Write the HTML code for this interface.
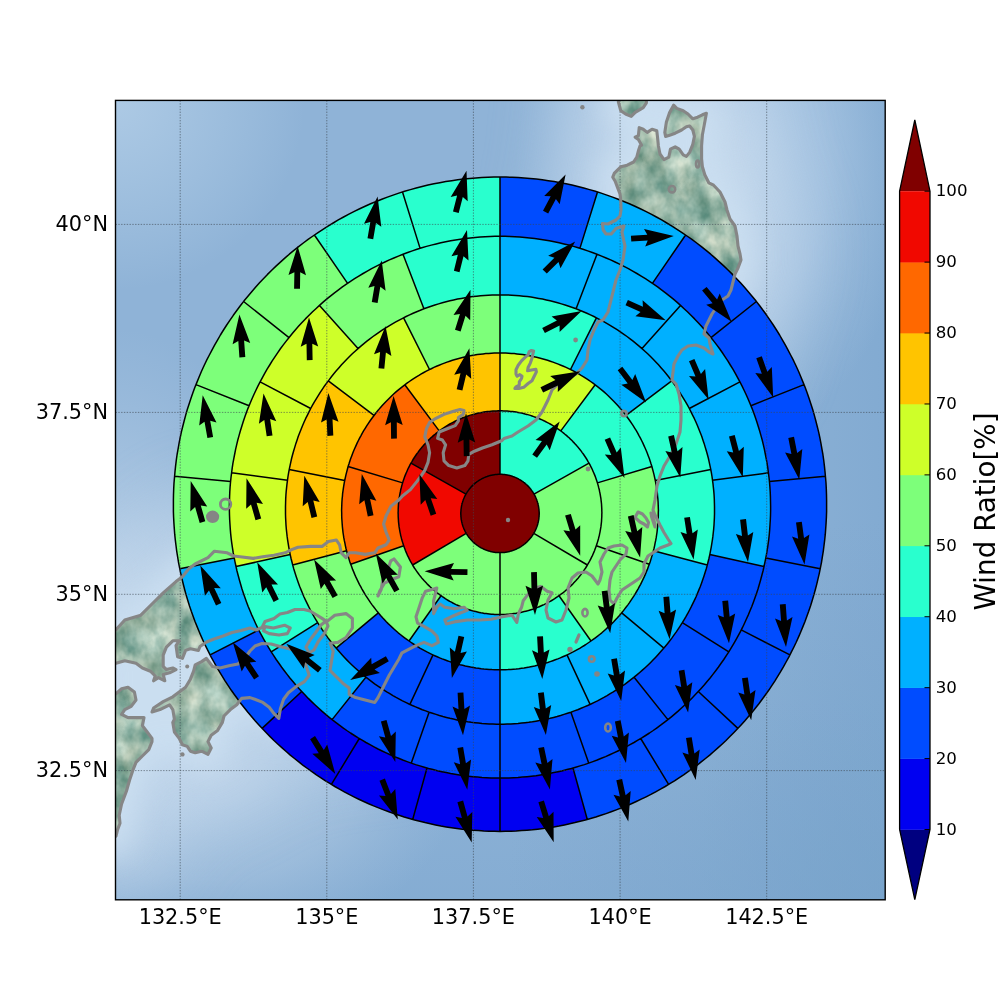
<!DOCTYPE html><html><head><meta charset="utf-8"><style>html,body{margin:0;padding:0;background:#fff}svg{display:block}.tl{font-family:"DejaVu Sans","Liberation Sans",sans-serif;font-size:20.8px;fill:#000}.cb{font-family:"DejaVu Sans","Liberation Sans",sans-serif;font-size:16.67px;fill:#000}.cbl{font-family:"DejaVu Sans","Liberation Sans",sans-serif;font-size:27.78px;fill:#000}</style></head><body>
<svg width="1000" height="1000" viewBox="0 0 1000 1000">
<defs><clipPath id="ax"><rect x="115.5" y="100.4" width="769.7" height="799.4"/></clipPath></defs>
<g clip-path="url(#ax)">
<defs>
<radialGradient id="gTL" cx="115" cy="100" r="190" gradientUnits="userSpaceOnUse"><stop offset="0" stop-color="#b0cce6" stop-opacity="0.9"/><stop offset="1" stop-color="#b4d0e8" stop-opacity="0"/></radialGradient>
<linearGradient id="gR" x1="700" y1="0" x2="885" y2="0" gradientUnits="userSpaceOnUse"><stop offset="0" stop-color="#7aa5ce" stop-opacity="0"/><stop offset="1" stop-color="#7aa5ce" stop-opacity="0.6"/></linearGradient>
<linearGradient id="gB" x1="0" y1="700" x2="0" y2="900" gradientUnits="userSpaceOnUse"><stop offset="0" stop-color="#7ea8d0" stop-opacity="0"/><stop offset="1" stop-color="#7ea8d0" stop-opacity="0.6"/></linearGradient>
<radialGradient id="gNE" cx="715" cy="170" r="200" gradientTransform="translate(715 170) scale(1 1.4) translate(-715 -170)" gradientUnits="userSpaceOnUse"><stop offset="0" stop-color="#c8dcef" stop-opacity="0.95"/><stop offset="0.55" stop-color="#b4cee8" stop-opacity="0.6"/><stop offset="1" stop-color="#a8c6e2" stop-opacity="0"/></radialGradient>
<radialGradient id="gW" cx="115" cy="600" r="170" gradientTransform="translate(115 600) scale(1 1.6) translate(-115 -600)" gradientUnits="userSpaceOnUse"><stop offset="0" stop-color="#c4d8ec" stop-opacity="0.9"/><stop offset="1" stop-color="#b0cae4" stop-opacity="0"/></radialGradient>
<radialGradient id="gSE" cx="885" cy="900" r="380" gradientUnits="userSpaceOnUse"><stop offset="0" stop-color="#74a0c8" stop-opacity="0.6"/><stop offset="1" stop-color="#74a0c8" stop-opacity="0"/></radialGradient>
<radialGradient id="gSW" cx="210" cy="770" r="230" gradientTransform="translate(210 770) scale(1.1 0.8) translate(-210 -770)" gradientUnits="userSpaceOnUse"><stop offset="0" stop-color="#c4d8ec" stop-opacity="0.8"/><stop offset="0.6" stop-color="#b4cce4" stop-opacity="0.45"/><stop offset="1" stop-color="#a8c4e0" stop-opacity="0"/></radialGradient>
<filter id="blurS" color-interpolation-filters="sRGB" x="-20%" y="-20%" width="140%" height="140%"><feGaussianBlur stdDeviation="14"/></filter>
<filter id="blurL" color-interpolation-filters="sRGB" x="-30%" y="-30%" width="160%" height="160%"><feGaussianBlur stdDeviation="35"/></filter>
<filter id="relief" color-interpolation-filters="sRGB" x="0" y="0" width="100%" height="100%"><feTurbulence type="fractalNoise" baseFrequency="0.045 0.035" numOctaves="4" seed="7"/><feColorMatrix type="matrix" values="0.75 0.2 0 0 0.12  0.55 0.08 0 0 0.40  0.55 0.04 0 0 0.356  0 0 0 0 1"/></filter>
<clipPath id="landclip"><path d="M672.0,380.0 L673.0,372.0 L674.0,364.0 L678.0,356.0 L682.0,350.0 L688.0,346.0 L696.0,345.0 L704.0,348.0 L709.0,352.0 L713.0,354.0 L710.0,344.0 L709.0,338.0 L704.0,334.0 L706.0,326.0 L709.0,320.0 L712.0,314.0 L716.0,308.0 L722.0,300.0 L728.0,296.0 L731.0,290.0 L733.0,282.0 L735.0,274.0 L738.0,268.0 L741.0,260.0 L740.0,254.0 L738.0,246.0 L737.0,236.0 L735.0,226.0 L730.0,219.0 L727.0,210.0 L725.0,202.0 L720.0,192.0 L713.6,185.2 L708.8,182.8 L704.8,174.8 L702.4,166.8 L701.6,158.8 L701.6,146.0 L702.4,134.8 L704.8,122.0 L706.4,113.2 L702.4,114.8 L697.6,117.2 L692.8,118.8 L688.0,114.0 L683.2,110.8 L676.8,108.4 L673.6,105.2 L669.6,112.4 L666.4,122.0 L664.8,132.4 L665.6,136.4 L668.8,135.6 L675.2,133.2 L681.6,130.0 L686.4,126.8 L689.6,126.0 L692.8,130.0 L694.4,136.4 L692.8,144.4 L689.6,152.4 L686.4,156.4 L683.2,154.8 L679.2,149.2 L675.2,146.8 L670.4,149.2 L668.8,157.2 L664.0,159.6 L660.0,154.0 L658.4,146.0 L657.6,138.0 L656.8,130.8 L652.0,129.2 L647.2,132.4 L643.2,129.2 L639.2,127.6 L638.4,135.6 L635.2,137.2 L638.4,139.6 L641.6,145.2 L640.0,146.0 L638.4,150.8 L636.8,157.2 L633.6,162.0 L627.2,165.2 L620.8,166.8 L614.4,173.2 L612.8,177.2 L615.2,181.2 L617.6,187.6 L620.0,194.0 L620.8,200.4 L621.0,210.0 L620.0,216.0 L616.0,220.0 L608.0,224.0 L602.4,223.5 L603.2,230.0 L606.0,234.0 L611.2,234.0 L616.0,228.5 L620.0,227.0 L624.0,226.0 L622.0,232.0 L624.0,242.0 L625.0,246.0 L623.0,260.0 L620.0,270.0 L616.0,280.0 L613.0,292.0 L610.0,304.0 L608.0,312.0 L603.0,320.0 L598.0,322.0 L594.0,330.0 L590.0,340.0 L588.0,350.0 L587.0,360.0 L582.0,368.0 L576.0,374.0 L566.0,380.0 L558.0,384.0 L552.0,390.0 L548.0,400.0 L542.0,412.0 L536.0,420.0 L528.0,426.0 L518.0,432.0 L512.0,436.0 L504.0,438.5 L501.6,440.8 L492.0,444.8 L482.4,448.0 L474.4,451.2 L468.8,454.4 L468.0,460.8 L464.8,465.6 L456.8,468.0 L448.8,465.6 L444.0,460.8 L443.2,452.8 L445.6,444.8 L442.4,440.0 L437.6,438.4 L439.2,432.0 L447.2,428.8 L455.2,425.6 L458.4,420.8 L458.4,417.6 L463.2,414.4 L464.0,410.4 L460.0,409.6 L453.6,411.2 L444.0,414.4 L434.4,419.2 L429.6,422.4 L426.4,428.8 L424.8,436.8 L428.0,444.8 L429.6,452.8 L428.0,462.4 L424.8,470.4 L421.6,475.2 L416.8,481.6 L410.4,489.6 L402.4,496.0 L398.8,500.0 L390.8,506.4 L386.0,516.0 L383.6,524.0 L386.0,532.0 L389.2,540.0 L386.0,544.8 L378.0,548.0 L374.8,552.8 L365.2,554.4 L355.6,552.8 L349.2,552.8 L346.0,557.6 L341.2,552.8 L339.6,544.8 L336.4,540.0 L328.4,541.6 L322.0,546.4 L310.8,546.4 L298.0,547.2 L291.6,549.6 L285.2,552.8 L274.0,555.2 L262.8,556.8 L253.2,558.4 L240.0,556.8 L233.6,556.0 L227.2,552.8 L214.4,551.2 L208.0,557.6 L195.2,564.0 L188.8,568.8 L182.4,576.8 L176.0,581.6 L163.2,592.8 L152.0,604.0 L140.8,615.2 L124.8,620.0 L116.0,629.6 L112.0,632.0 L108.0,632.0 L108.0,663.5 L112.0,663.5 L116.0,663.2 L124.8,660.8 L136.0,663.2 L142.4,668.0 L150.4,671.2 L155.2,676.0 L153.6,680.8 L158.4,677.6 L164.8,680.8 L163.2,674.4 L169.6,672.8 L176.0,669.6 L172.8,668.0 L166.4,669.6 L163.2,666.4 L163.2,655.2 L166.4,647.2 L172.8,640.8 L179.2,640.8 L176.0,645.6 L177.6,656.8 L182.4,658.4 L185.6,650.4 L190.4,648.8 L198.4,650.4 L200.0,646.5 L206.5,642.0 L214.0,639.0 L223.0,636.0 L232.0,632.5 L241.0,630.5 L250.0,628.0 L256.0,630.0 L262.0,627.5 L265.0,621.5 L274.0,618.5 L280.0,614.0 L287.5,612.5 L295.0,609.5 L304.0,609.5 L310.0,611.0 L317.5,615.5 L322.0,618.4 L326.8,621.6 L334.8,615.2 L346.0,613.6 L352.4,618.4 L352.4,628.0 L346.0,637.6 L338.0,642.4 L330.0,643.2 L333.2,651.2 L331.6,660.8 L330.0,670.4 L336.4,676.8 L342.8,683.2 L349.2,688.0 L349.2,694.4 L355.6,697.6 L365.2,700.0 L374.8,702.4 L378.0,697.6 L381.2,691.2 L384.4,684.8 L389.2,675.2 L394.0,667.2 L398.8,659.2 L402.0,652.8 L409.6,648.8 L416.0,645.6 L424.0,642.4 L432.0,645.6 L438.4,642.4 L436.8,636.0 L432.0,631.2 L424.0,626.4 L417.6,623.2 L416.0,616.8 L419.2,607.2 L422.4,597.6 L425.6,591.2 L432.0,589.6 L436.8,588.0 L433.6,600.8 L433.6,613.6 L436.8,607.2 L440.0,604.0 L444.8,607.2 L454.4,608.8 L464.0,607.2 L467.2,610.4 L460.8,612.8 L451.2,616.8 L444.8,620.0 L446.4,624.0 L456.0,621.6 L467.2,620.0 L480.0,620.0 L491.2,619.2 L502.4,616.8 L512.0,615.2 L516.8,622.4 L518.4,613.6 L521.6,607.2 L523.2,600.8 L528.0,594.4 L534.4,588.0 L540.8,586.4 L547.2,591.2 L552.0,592.8 L548.0,600.0 L546.0,610.0 L548.0,618.0 L556.0,622.0 L562.0,620.0 L566.0,610.0 L568.0,602.0 L569.0,598.0 L568.0,588.0 L572.0,578.0 L578.0,573.0 L586.0,572.0 L592.0,576.0 L598.0,584.0 L600.0,580.0 L602.0,572.0 L600.0,562.0 L604.0,554.0 L608.0,548.0 L614.0,546.0 L622.0,545.0 L627.0,548.0 L626.0,554.0 L620.0,560.0 L616.0,566.0 L612.0,572.0 L610.0,580.0 L609.0,590.0 L610.0,600.0 L614.0,604.0 L617.0,598.0 L622.0,590.0 L628.0,586.0 L634.0,582.0 L640.0,578.0 L644.0,572.0 L644.0,564.0 L648.0,556.0 L654.0,552.0 L660.0,548.0 L668.0,545.0 L671.0,543.5 L668.0,539.0 L664.0,532.5 L660.0,525.0 L657.5,520.0 L655.0,515.0 L653.0,510.0 L655.0,500.0 L657.0,486.0 L660.0,476.0 L664.0,466.0 L670.0,456.0 L676.0,444.0 L680.0,432.0 L681.0,420.0 L681.0,406.0 L679.0,394.0 L676.0,384.0 L672.0,380.0 Z M304.4,660.8 L309.2,675.2 L304.4,681.6 L296.4,686.4 L288.4,692.8 L283.6,699.2 L280.4,708.8 L278.8,718.4 L274.0,713.6 L269.2,707.2 L262.8,702.4 L254.8,699.2 L250.0,697.6 L241.6,698.4 L236.8,704.8 L230.4,709.6 L224.0,716.0 L222.4,722.4 L217.6,730.4 L211.2,735.2 L208.0,741.6 L211.2,748.0 L208.0,754.4 L201.6,751.2 L195.2,752.8 L190.4,751.2 L187.2,746.4 L182.4,744.8 L179.2,738.4 L174.4,732.0 L172.8,722.4 L174.4,719.2 L172.8,709.6 L169.6,704.8 L160.0,709.6 L152.0,712.0 L153.6,708.0 L163.2,701.6 L172.8,696.8 L179.2,692.0 L185.6,687.2 L190.4,679.2 L193.6,671.2 L195.2,664.8 L201.6,661.6 L206.4,658.4 L212.5,666.5 L220.0,668.0 L229.0,665.8 L238.0,664.0 L245.0,658.0 L250.0,651.0 L255.0,646.0 L262.0,643.5 L271.0,644.0 L280.0,646.5 L288.0,648.5 L298.0,651.0 L302.8,655.0 L304.4,660.8 Z M112.0,694.0 L116.0,693.6 L121.6,688.8 L128.0,687.2 L134.4,692.0 L136.0,700.0 L131.2,706.4 L124.8,709.6 L121.6,714.4 L128.0,717.6 L136.0,717.6 L144.0,717.6 L142.4,725.6 L147.2,732.0 L152.0,738.4 L152.0,741.6 L148.8,749.6 L142.4,756.0 L136.0,762.4 L132.8,770.4 L129.6,780.0 L126.4,791.2 L121.6,804.0 L119.2,815.2 L120.0,823.2 L117.6,829.6 L116.0,836.0 L112.0,840.0 L108.0,840.0 L108.0,694.0 Z M618.4,99.0 L618.4,102.0 L620.8,110.8 L625.6,114.0 L631.2,116.4 L635.2,112.4 L643.2,107.6 L646.4,102.8 L646.4,99.0 Z M531.4,350.5 L533.6,351.0 L532.8,354.3 L532.0,358.2 L530.3,363.1 L528.1,367.5 L527.6,370.8 L530.3,370.3 L535.8,369.2 L536.4,371.9 L534.2,376.3 L532.0,380.7 L528.1,383.5 L523.7,387.3 L518.8,388.4 L514.9,388.4 L516.0,386.8 L519.3,385.1 L519.3,381.8 L521.5,378.5 L522.0,376.3 L519.9,374.6 L517.1,376.3 L516.0,374.1 L516.0,369.7 L518.2,365.3 L521.5,360.9 L524.8,357.6 L528.1,354.9 L529.2,351.6 L531.4,350.5 Z M326.0,621.0 L328.0,626.0 L324.0,634.0 L318.0,642.0 L314.0,650.0 L309.0,653.0 L306.0,647.0 L310.0,640.0 L316.0,632.0 L321.0,625.0 L326.0,621.0 Z" clip-rule="nonzero"/></clipPath>
</defs>
<rect x="115" y="100" width="770" height="800" fill="#8fb3d7"/>
<rect x="115" y="100" width="770" height="800" fill="url(#gTL)"/>
<rect x="115" y="100" width="770" height="800" fill="url(#gR)"/>
<rect x="115" y="100" width="770" height="800" fill="url(#gB)"/>
<rect x="115" y="100" width="770" height="800" fill="url(#gSE)"/>
<rect x="115" y="100" width="770" height="800" fill="url(#gNE)"/>
<rect x="115" y="100" width="770" height="800" fill="url(#gSW)"/>
<rect x="115" y="100" width="770" height="800" fill="url(#gW)"/>
<g filter="url(#blurL)" opacity="0.75"><path d="M672.0,380.0 L673.0,372.0 L674.0,364.0 L678.0,356.0 L682.0,350.0 L688.0,346.0 L696.0,345.0 L704.0,348.0 L709.0,352.0 L713.0,354.0 L710.0,344.0 L709.0,338.0 L704.0,334.0 L706.0,326.0 L709.0,320.0 L712.0,314.0 L716.0,308.0 L722.0,300.0 L728.0,296.0 L731.0,290.0 L733.0,282.0 L735.0,274.0 L738.0,268.0 L741.0,260.0 L740.0,254.0 L738.0,246.0 L737.0,236.0 L735.0,226.0 L730.0,219.0 L727.0,210.0 L725.0,202.0 L720.0,192.0 L713.6,185.2 L708.8,182.8 L704.8,174.8 L702.4,166.8 L701.6,158.8 L701.6,146.0 L702.4,134.8 L704.8,122.0 L706.4,113.2 L702.4,114.8 L697.6,117.2 L692.8,118.8 L688.0,114.0 L683.2,110.8 L676.8,108.4 L673.6,105.2 L669.6,112.4 L666.4,122.0 L664.8,132.4 L665.6,136.4 L668.8,135.6 L675.2,133.2 L681.6,130.0 L686.4,126.8 L689.6,126.0 L692.8,130.0 L694.4,136.4 L692.8,144.4 L689.6,152.4 L686.4,156.4 L683.2,154.8 L679.2,149.2 L675.2,146.8 L670.4,149.2 L668.8,157.2 L664.0,159.6 L660.0,154.0 L658.4,146.0 L657.6,138.0 L656.8,130.8 L652.0,129.2 L647.2,132.4 L643.2,129.2 L639.2,127.6 L638.4,135.6 L635.2,137.2 L638.4,139.6 L641.6,145.2 L640.0,146.0 L638.4,150.8 L636.8,157.2 L633.6,162.0 L627.2,165.2 L620.8,166.8 L614.4,173.2 L612.8,177.2 L615.2,181.2 L617.6,187.6 L620.0,194.0 L620.8,200.4 L621.0,210.0 L620.0,216.0 L616.0,220.0 L608.0,224.0 L602.4,223.5 L603.2,230.0 L606.0,234.0 L611.2,234.0 L616.0,228.5 L620.0,227.0 L624.0,226.0 L622.0,232.0 L624.0,242.0 L625.0,246.0 L623.0,260.0 L620.0,270.0 L616.0,280.0 L613.0,292.0 L610.0,304.0 L608.0,312.0 L603.0,320.0 L598.0,322.0 L594.0,330.0 L590.0,340.0 L588.0,350.0 L587.0,360.0 L582.0,368.0 L576.0,374.0 L566.0,380.0 L558.0,384.0 L552.0,390.0 L548.0,400.0 L542.0,412.0 L536.0,420.0 L528.0,426.0 L518.0,432.0 L512.0,436.0 L504.0,438.5 L501.6,440.8 L492.0,444.8 L482.4,448.0 L474.4,451.2 L468.8,454.4 L468.0,460.8 L464.8,465.6 L456.8,468.0 L448.8,465.6 L444.0,460.8 L443.2,452.8 L445.6,444.8 L442.4,440.0 L437.6,438.4 L439.2,432.0 L447.2,428.8 L455.2,425.6 L458.4,420.8 L458.4,417.6 L463.2,414.4 L464.0,410.4 L460.0,409.6 L453.6,411.2 L444.0,414.4 L434.4,419.2 L429.6,422.4 L426.4,428.8 L424.8,436.8 L428.0,444.8 L429.6,452.8 L428.0,462.4 L424.8,470.4 L421.6,475.2 L416.8,481.6 L410.4,489.6 L402.4,496.0 L398.8,500.0 L390.8,506.4 L386.0,516.0 L383.6,524.0 L386.0,532.0 L389.2,540.0 L386.0,544.8 L378.0,548.0 L374.8,552.8 L365.2,554.4 L355.6,552.8 L349.2,552.8 L346.0,557.6 L341.2,552.8 L339.6,544.8 L336.4,540.0 L328.4,541.6 L322.0,546.4 L310.8,546.4 L298.0,547.2 L291.6,549.6 L285.2,552.8 L274.0,555.2 L262.8,556.8 L253.2,558.4 L240.0,556.8 L233.6,556.0 L227.2,552.8 L214.4,551.2 L208.0,557.6 L195.2,564.0 L188.8,568.8 L182.4,576.8 L176.0,581.6 L163.2,592.8 L152.0,604.0 L140.8,615.2 L124.8,620.0 L116.0,629.6 L112.0,632.0 L108.0,632.0 L108.0,663.5 L112.0,663.5 L116.0,663.2 L124.8,660.8 L136.0,663.2 L142.4,668.0 L150.4,671.2 L155.2,676.0 L153.6,680.8 L158.4,677.6 L164.8,680.8 L163.2,674.4 L169.6,672.8 L176.0,669.6 L172.8,668.0 L166.4,669.6 L163.2,666.4 L163.2,655.2 L166.4,647.2 L172.8,640.8 L179.2,640.8 L176.0,645.6 L177.6,656.8 L182.4,658.4 L185.6,650.4 L190.4,648.8 L198.4,650.4 L200.0,646.5 L206.5,642.0 L214.0,639.0 L223.0,636.0 L232.0,632.5 L241.0,630.5 L250.0,628.0 L256.0,630.0 L262.0,627.5 L265.0,621.5 L274.0,618.5 L280.0,614.0 L287.5,612.5 L295.0,609.5 L304.0,609.5 L310.0,611.0 L317.5,615.5 L322.0,618.4 L326.8,621.6 L334.8,615.2 L346.0,613.6 L352.4,618.4 L352.4,628.0 L346.0,637.6 L338.0,642.4 L330.0,643.2 L333.2,651.2 L331.6,660.8 L330.0,670.4 L336.4,676.8 L342.8,683.2 L349.2,688.0 L349.2,694.4 L355.6,697.6 L365.2,700.0 L374.8,702.4 L378.0,697.6 L381.2,691.2 L384.4,684.8 L389.2,675.2 L394.0,667.2 L398.8,659.2 L402.0,652.8 L409.6,648.8 L416.0,645.6 L424.0,642.4 L432.0,645.6 L438.4,642.4 L436.8,636.0 L432.0,631.2 L424.0,626.4 L417.6,623.2 L416.0,616.8 L419.2,607.2 L422.4,597.6 L425.6,591.2 L432.0,589.6 L436.8,588.0 L433.6,600.8 L433.6,613.6 L436.8,607.2 L440.0,604.0 L444.8,607.2 L454.4,608.8 L464.0,607.2 L467.2,610.4 L460.8,612.8 L451.2,616.8 L444.8,620.0 L446.4,624.0 L456.0,621.6 L467.2,620.0 L480.0,620.0 L491.2,619.2 L502.4,616.8 L512.0,615.2 L516.8,622.4 L518.4,613.6 L521.6,607.2 L523.2,600.8 L528.0,594.4 L534.4,588.0 L540.8,586.4 L547.2,591.2 L552.0,592.8 L548.0,600.0 L546.0,610.0 L548.0,618.0 L556.0,622.0 L562.0,620.0 L566.0,610.0 L568.0,602.0 L569.0,598.0 L568.0,588.0 L572.0,578.0 L578.0,573.0 L586.0,572.0 L592.0,576.0 L598.0,584.0 L600.0,580.0 L602.0,572.0 L600.0,562.0 L604.0,554.0 L608.0,548.0 L614.0,546.0 L622.0,545.0 L627.0,548.0 L626.0,554.0 L620.0,560.0 L616.0,566.0 L612.0,572.0 L610.0,580.0 L609.0,590.0 L610.0,600.0 L614.0,604.0 L617.0,598.0 L622.0,590.0 L628.0,586.0 L634.0,582.0 L640.0,578.0 L644.0,572.0 L644.0,564.0 L648.0,556.0 L654.0,552.0 L660.0,548.0 L668.0,545.0 L671.0,543.5 L668.0,539.0 L664.0,532.5 L660.0,525.0 L657.5,520.0 L655.0,515.0 L653.0,510.0 L655.0,500.0 L657.0,486.0 L660.0,476.0 L664.0,466.0 L670.0,456.0 L676.0,444.0 L680.0,432.0 L681.0,420.0 L681.0,406.0 L679.0,394.0 L676.0,384.0 L672.0,380.0 Z M304.4,660.8 L309.2,675.2 L304.4,681.6 L296.4,686.4 L288.4,692.8 L283.6,699.2 L280.4,708.8 L278.8,718.4 L274.0,713.6 L269.2,707.2 L262.8,702.4 L254.8,699.2 L250.0,697.6 L241.6,698.4 L236.8,704.8 L230.4,709.6 L224.0,716.0 L222.4,722.4 L217.6,730.4 L211.2,735.2 L208.0,741.6 L211.2,748.0 L208.0,754.4 L201.6,751.2 L195.2,752.8 L190.4,751.2 L187.2,746.4 L182.4,744.8 L179.2,738.4 L174.4,732.0 L172.8,722.4 L174.4,719.2 L172.8,709.6 L169.6,704.8 L160.0,709.6 L152.0,712.0 L153.6,708.0 L163.2,701.6 L172.8,696.8 L179.2,692.0 L185.6,687.2 L190.4,679.2 L193.6,671.2 L195.2,664.8 L201.6,661.6 L206.4,658.4 L212.5,666.5 L220.0,668.0 L229.0,665.8 L238.0,664.0 L245.0,658.0 L250.0,651.0 L255.0,646.0 L262.0,643.5 L271.0,644.0 L280.0,646.5 L288.0,648.5 L298.0,651.0 L302.8,655.0 L304.4,660.8 Z M112.0,694.0 L116.0,693.6 L121.6,688.8 L128.0,687.2 L134.4,692.0 L136.0,700.0 L131.2,706.4 L124.8,709.6 L121.6,714.4 L128.0,717.6 L136.0,717.6 L144.0,717.6 L142.4,725.6 L147.2,732.0 L152.0,738.4 L152.0,741.6 L148.8,749.6 L142.4,756.0 L136.0,762.4 L132.8,770.4 L129.6,780.0 L126.4,791.2 L121.6,804.0 L119.2,815.2 L120.0,823.2 L117.6,829.6 L116.0,836.0 L112.0,840.0 L108.0,840.0 L108.0,694.0 Z M618.4,99.0 L618.4,102.0 L620.8,110.8 L625.6,114.0 L631.2,116.4 L635.2,112.4 L643.2,107.6 L646.4,102.8 L646.4,99.0 Z M531.4,350.5 L533.6,351.0 L532.8,354.3 L532.0,358.2 L530.3,363.1 L528.1,367.5 L527.6,370.8 L530.3,370.3 L535.8,369.2 L536.4,371.9 L534.2,376.3 L532.0,380.7 L528.1,383.5 L523.7,387.3 L518.8,388.4 L514.9,388.4 L516.0,386.8 L519.3,385.1 L519.3,381.8 L521.5,378.5 L522.0,376.3 L519.9,374.6 L517.1,376.3 L516.0,374.1 L516.0,369.7 L518.2,365.3 L521.5,360.9 L524.8,357.6 L528.1,354.9 L529.2,351.6 L531.4,350.5 Z M326.0,621.0 L328.0,626.0 L324.0,634.0 L318.0,642.0 L314.0,650.0 L309.0,653.0 L306.0,647.0 L310.0,640.0 L316.0,632.0 L321.0,625.0 L326.0,621.0 Z" fill="#c4d8ec" stroke="#c4d8ec" stroke-width="110" stroke-linejoin="round"/></g>
<g filter="url(#blurS)"><path d="M672.0,380.0 L673.0,372.0 L674.0,364.0 L678.0,356.0 L682.0,350.0 L688.0,346.0 L696.0,345.0 L704.0,348.0 L709.0,352.0 L713.0,354.0 L710.0,344.0 L709.0,338.0 L704.0,334.0 L706.0,326.0 L709.0,320.0 L712.0,314.0 L716.0,308.0 L722.0,300.0 L728.0,296.0 L731.0,290.0 L733.0,282.0 L735.0,274.0 L738.0,268.0 L741.0,260.0 L740.0,254.0 L738.0,246.0 L737.0,236.0 L735.0,226.0 L730.0,219.0 L727.0,210.0 L725.0,202.0 L720.0,192.0 L713.6,185.2 L708.8,182.8 L704.8,174.8 L702.4,166.8 L701.6,158.8 L701.6,146.0 L702.4,134.8 L704.8,122.0 L706.4,113.2 L702.4,114.8 L697.6,117.2 L692.8,118.8 L688.0,114.0 L683.2,110.8 L676.8,108.4 L673.6,105.2 L669.6,112.4 L666.4,122.0 L664.8,132.4 L665.6,136.4 L668.8,135.6 L675.2,133.2 L681.6,130.0 L686.4,126.8 L689.6,126.0 L692.8,130.0 L694.4,136.4 L692.8,144.4 L689.6,152.4 L686.4,156.4 L683.2,154.8 L679.2,149.2 L675.2,146.8 L670.4,149.2 L668.8,157.2 L664.0,159.6 L660.0,154.0 L658.4,146.0 L657.6,138.0 L656.8,130.8 L652.0,129.2 L647.2,132.4 L643.2,129.2 L639.2,127.6 L638.4,135.6 L635.2,137.2 L638.4,139.6 L641.6,145.2 L640.0,146.0 L638.4,150.8 L636.8,157.2 L633.6,162.0 L627.2,165.2 L620.8,166.8 L614.4,173.2 L612.8,177.2 L615.2,181.2 L617.6,187.6 L620.0,194.0 L620.8,200.4 L621.0,210.0 L620.0,216.0 L616.0,220.0 L608.0,224.0 L602.4,223.5 L603.2,230.0 L606.0,234.0 L611.2,234.0 L616.0,228.5 L620.0,227.0 L624.0,226.0 L622.0,232.0 L624.0,242.0 L625.0,246.0 L623.0,260.0 L620.0,270.0 L616.0,280.0 L613.0,292.0 L610.0,304.0 L608.0,312.0 L603.0,320.0 L598.0,322.0 L594.0,330.0 L590.0,340.0 L588.0,350.0 L587.0,360.0 L582.0,368.0 L576.0,374.0 L566.0,380.0 L558.0,384.0 L552.0,390.0 L548.0,400.0 L542.0,412.0 L536.0,420.0 L528.0,426.0 L518.0,432.0 L512.0,436.0 L504.0,438.5 L501.6,440.8 L492.0,444.8 L482.4,448.0 L474.4,451.2 L468.8,454.4 L468.0,460.8 L464.8,465.6 L456.8,468.0 L448.8,465.6 L444.0,460.8 L443.2,452.8 L445.6,444.8 L442.4,440.0 L437.6,438.4 L439.2,432.0 L447.2,428.8 L455.2,425.6 L458.4,420.8 L458.4,417.6 L463.2,414.4 L464.0,410.4 L460.0,409.6 L453.6,411.2 L444.0,414.4 L434.4,419.2 L429.6,422.4 L426.4,428.8 L424.8,436.8 L428.0,444.8 L429.6,452.8 L428.0,462.4 L424.8,470.4 L421.6,475.2 L416.8,481.6 L410.4,489.6 L402.4,496.0 L398.8,500.0 L390.8,506.4 L386.0,516.0 L383.6,524.0 L386.0,532.0 L389.2,540.0 L386.0,544.8 L378.0,548.0 L374.8,552.8 L365.2,554.4 L355.6,552.8 L349.2,552.8 L346.0,557.6 L341.2,552.8 L339.6,544.8 L336.4,540.0 L328.4,541.6 L322.0,546.4 L310.8,546.4 L298.0,547.2 L291.6,549.6 L285.2,552.8 L274.0,555.2 L262.8,556.8 L253.2,558.4 L240.0,556.8 L233.6,556.0 L227.2,552.8 L214.4,551.2 L208.0,557.6 L195.2,564.0 L188.8,568.8 L182.4,576.8 L176.0,581.6 L163.2,592.8 L152.0,604.0 L140.8,615.2 L124.8,620.0 L116.0,629.6 L112.0,632.0 L108.0,632.0 L108.0,663.5 L112.0,663.5 L116.0,663.2 L124.8,660.8 L136.0,663.2 L142.4,668.0 L150.4,671.2 L155.2,676.0 L153.6,680.8 L158.4,677.6 L164.8,680.8 L163.2,674.4 L169.6,672.8 L176.0,669.6 L172.8,668.0 L166.4,669.6 L163.2,666.4 L163.2,655.2 L166.4,647.2 L172.8,640.8 L179.2,640.8 L176.0,645.6 L177.6,656.8 L182.4,658.4 L185.6,650.4 L190.4,648.8 L198.4,650.4 L200.0,646.5 L206.5,642.0 L214.0,639.0 L223.0,636.0 L232.0,632.5 L241.0,630.5 L250.0,628.0 L256.0,630.0 L262.0,627.5 L265.0,621.5 L274.0,618.5 L280.0,614.0 L287.5,612.5 L295.0,609.5 L304.0,609.5 L310.0,611.0 L317.5,615.5 L322.0,618.4 L326.8,621.6 L334.8,615.2 L346.0,613.6 L352.4,618.4 L352.4,628.0 L346.0,637.6 L338.0,642.4 L330.0,643.2 L333.2,651.2 L331.6,660.8 L330.0,670.4 L336.4,676.8 L342.8,683.2 L349.2,688.0 L349.2,694.4 L355.6,697.6 L365.2,700.0 L374.8,702.4 L378.0,697.6 L381.2,691.2 L384.4,684.8 L389.2,675.2 L394.0,667.2 L398.8,659.2 L402.0,652.8 L409.6,648.8 L416.0,645.6 L424.0,642.4 L432.0,645.6 L438.4,642.4 L436.8,636.0 L432.0,631.2 L424.0,626.4 L417.6,623.2 L416.0,616.8 L419.2,607.2 L422.4,597.6 L425.6,591.2 L432.0,589.6 L436.8,588.0 L433.6,600.8 L433.6,613.6 L436.8,607.2 L440.0,604.0 L444.8,607.2 L454.4,608.8 L464.0,607.2 L467.2,610.4 L460.8,612.8 L451.2,616.8 L444.8,620.0 L446.4,624.0 L456.0,621.6 L467.2,620.0 L480.0,620.0 L491.2,619.2 L502.4,616.8 L512.0,615.2 L516.8,622.4 L518.4,613.6 L521.6,607.2 L523.2,600.8 L528.0,594.4 L534.4,588.0 L540.8,586.4 L547.2,591.2 L552.0,592.8 L548.0,600.0 L546.0,610.0 L548.0,618.0 L556.0,622.0 L562.0,620.0 L566.0,610.0 L568.0,602.0 L569.0,598.0 L568.0,588.0 L572.0,578.0 L578.0,573.0 L586.0,572.0 L592.0,576.0 L598.0,584.0 L600.0,580.0 L602.0,572.0 L600.0,562.0 L604.0,554.0 L608.0,548.0 L614.0,546.0 L622.0,545.0 L627.0,548.0 L626.0,554.0 L620.0,560.0 L616.0,566.0 L612.0,572.0 L610.0,580.0 L609.0,590.0 L610.0,600.0 L614.0,604.0 L617.0,598.0 L622.0,590.0 L628.0,586.0 L634.0,582.0 L640.0,578.0 L644.0,572.0 L644.0,564.0 L648.0,556.0 L654.0,552.0 L660.0,548.0 L668.0,545.0 L671.0,543.5 L668.0,539.0 L664.0,532.5 L660.0,525.0 L657.5,520.0 L655.0,515.0 L653.0,510.0 L655.0,500.0 L657.0,486.0 L660.0,476.0 L664.0,466.0 L670.0,456.0 L676.0,444.0 L680.0,432.0 L681.0,420.0 L681.0,406.0 L679.0,394.0 L676.0,384.0 L672.0,380.0 Z M304.4,660.8 L309.2,675.2 L304.4,681.6 L296.4,686.4 L288.4,692.8 L283.6,699.2 L280.4,708.8 L278.8,718.4 L274.0,713.6 L269.2,707.2 L262.8,702.4 L254.8,699.2 L250.0,697.6 L241.6,698.4 L236.8,704.8 L230.4,709.6 L224.0,716.0 L222.4,722.4 L217.6,730.4 L211.2,735.2 L208.0,741.6 L211.2,748.0 L208.0,754.4 L201.6,751.2 L195.2,752.8 L190.4,751.2 L187.2,746.4 L182.4,744.8 L179.2,738.4 L174.4,732.0 L172.8,722.4 L174.4,719.2 L172.8,709.6 L169.6,704.8 L160.0,709.6 L152.0,712.0 L153.6,708.0 L163.2,701.6 L172.8,696.8 L179.2,692.0 L185.6,687.2 L190.4,679.2 L193.6,671.2 L195.2,664.8 L201.6,661.6 L206.4,658.4 L212.5,666.5 L220.0,668.0 L229.0,665.8 L238.0,664.0 L245.0,658.0 L250.0,651.0 L255.0,646.0 L262.0,643.5 L271.0,644.0 L280.0,646.5 L288.0,648.5 L298.0,651.0 L302.8,655.0 L304.4,660.8 Z M112.0,694.0 L116.0,693.6 L121.6,688.8 L128.0,687.2 L134.4,692.0 L136.0,700.0 L131.2,706.4 L124.8,709.6 L121.6,714.4 L128.0,717.6 L136.0,717.6 L144.0,717.6 L142.4,725.6 L147.2,732.0 L152.0,738.4 L152.0,741.6 L148.8,749.6 L142.4,756.0 L136.0,762.4 L132.8,770.4 L129.6,780.0 L126.4,791.2 L121.6,804.0 L119.2,815.2 L120.0,823.2 L117.6,829.6 L116.0,836.0 L112.0,840.0 L108.0,840.0 L108.0,694.0 Z M618.4,99.0 L618.4,102.0 L620.8,110.8 L625.6,114.0 L631.2,116.4 L635.2,112.4 L643.2,107.6 L646.4,102.8 L646.4,99.0 Z M531.4,350.5 L533.6,351.0 L532.8,354.3 L532.0,358.2 L530.3,363.1 L528.1,367.5 L527.6,370.8 L530.3,370.3 L535.8,369.2 L536.4,371.9 L534.2,376.3 L532.0,380.7 L528.1,383.5 L523.7,387.3 L518.8,388.4 L514.9,388.4 L516.0,386.8 L519.3,385.1 L519.3,381.8 L521.5,378.5 L522.0,376.3 L519.9,374.6 L517.1,376.3 L516.0,374.1 L516.0,369.7 L518.2,365.3 L521.5,360.9 L524.8,357.6 L528.1,354.9 L529.2,351.6 L531.4,350.5 Z M326.0,621.0 L328.0,626.0 L324.0,634.0 L318.0,642.0 L314.0,650.0 L309.0,653.0 L306.0,647.0 L310.0,640.0 L316.0,632.0 L321.0,625.0 L326.0,621.0 Z" fill="#cadef0" stroke="#cadef0" stroke-width="30" stroke-linejoin="round"/></g>
<g clip-path="url(#landclip)"><rect x="108" y="95" width="780" height="810" fill="#9cbcac"/><rect x="108" y="95" width="780" height="810" filter="url(#relief)"/></g>
<g><path d="M500.0,410.8 L501.8,410.8 L503.6,410.9 L505.4,411.0 L507.2,411.1 L509.0,411.2 L510.8,411.4 L512.6,411.6 L514.4,411.8 L516.2,412.1 L518.0,412.4 L519.8,412.8 L521.6,413.1 L523.3,413.5 L525.1,414.0 L526.8,414.4 L528.6,414.9 L530.3,415.4 L532.0,416.0 L533.7,416.6 L535.4,417.2 L537.1,417.8 L538.8,418.5 L540.5,419.2 L542.1,419.9 L543.8,420.7 L545.4,421.5 L547.0,422.3 L548.6,423.2 L550.2,424.0 L551.7,424.9 L553.3,425.9 L554.8,426.8 L556.3,427.8 L557.8,428.8 L559.3,429.9 L560.8,430.9 L562.2,432.0 L563.6,433.1 L565.0,434.3 L566.4,435.4 L567.7,436.6 L569.1,437.8 L570.4,439.1 L571.7,440.3 L572.9,441.6 L574.2,442.9 L575.4,444.2 L576.6,445.6 L577.8,446.9 L578.9,448.3 L580.1,449.7 L581.2,451.1 L582.2,452.6 L583.3,454.0 L584.3,455.5 L585.3,457.0 L586.3,458.5 L587.2,460.0 L588.1,461.6 L589.0,463.1 L534.0,494.1 L533.7,493.5 L533.3,492.9 L533.0,492.3 L532.6,491.7 L532.2,491.2 L531.8,490.6 L531.4,490.1 L531.0,489.5 L530.6,489.0 L530.1,488.4 L529.7,487.9 L529.2,487.4 L528.8,486.9 L528.3,486.4 L527.8,485.9 L527.3,485.4 L526.9,484.9 L526.3,484.5 L525.8,484.0 L525.3,483.6 L524.8,483.1 L524.3,482.7 L523.7,482.3 L523.2,481.9 L522.6,481.5 L522.0,481.1 L521.5,480.7 L520.9,480.3 L520.3,480.0 L519.7,479.6 L519.1,479.3 L518.5,478.9 L517.9,478.6 L517.3,478.3 L516.7,478.0 L516.0,477.7 L515.4,477.4 L514.8,477.2 L514.1,476.9 L513.5,476.7 L512.8,476.5 L512.2,476.2 L511.5,476.0 L510.9,475.8 L510.2,475.6 L509.5,475.5 L508.9,475.3 L508.2,475.2 L507.5,475.0 L506.8,474.9 L506.2,474.8 L505.5,474.7 L504.8,474.6 L504.1,474.5 L503.4,474.4 L502.8,474.4 L502.1,474.3 L501.4,474.3 L500.7,474.3 L500.0,474.3 Z" fill="#29ffce"/><path d="M589.0,463.1 L589.9,464.7 L590.7,466.3 L591.5,467.9 L592.3,469.5 L593.0,471.2 L593.7,472.8 L594.4,474.4 L595.1,476.1 L595.7,477.8 L596.3,479.5 L596.9,481.2 L597.4,482.9 L597.9,484.6 L598.4,486.3 L598.8,488.0 L599.3,489.8 L599.6,491.5 L600.0,493.3 L600.3,495.0 L600.6,496.8 L600.9,498.5 L601.1,500.3 L601.3,502.1 L601.5,503.8 L601.6,505.6 L601.7,507.4 L601.8,509.2 L601.8,511.0 L601.9,512.7 L601.8,514.5 L601.8,516.3 L601.7,518.1 L601.6,519.8 L601.5,521.6 L601.3,523.4 L601.1,525.1 L600.9,526.9 L600.6,528.6 L600.3,530.4 L600.0,532.1 L599.6,533.9 L599.3,535.6 L598.8,537.3 L598.4,539.0 L597.9,540.7 L597.4,542.4 L596.9,544.1 L596.3,545.8 L595.7,547.5 L595.1,549.1 L594.5,550.8 L593.8,552.4 L593.1,554.0 L592.4,555.6 L591.6,557.2 L590.8,558.8 L590.0,560.4 L589.2,561.9 L588.3,563.4 L587.4,565.0 L533.8,533.3 L534.1,532.7 L534.5,532.1 L534.8,531.5 L535.1,530.9 L535.4,530.2 L535.7,529.6 L536.0,529.0 L536.2,528.4 L536.5,527.7 L536.7,527.1 L537.0,526.5 L537.2,525.8 L537.4,525.2 L537.6,524.5 L537.8,523.9 L537.9,523.2 L538.1,522.5 L538.3,521.9 L538.4,521.2 L538.5,520.5 L538.7,519.9 L538.8,519.2 L538.9,518.5 L538.9,517.8 L539.0,517.1 L539.1,516.5 L539.1,515.8 L539.1,515.1 L539.2,514.4 L539.2,513.7 L539.2,513.1 L539.2,512.4 L539.1,511.7 L539.1,511.0 L539.0,510.3 L539.0,509.6 L538.9,509.0 L538.8,508.3 L538.7,507.6 L538.6,506.9 L538.5,506.3 L538.4,505.6 L538.2,504.9 L538.1,504.2 L537.9,503.6 L537.7,502.9 L537.5,502.3 L537.3,501.6 L537.1,501.0 L536.9,500.3 L536.7,499.7 L536.4,499.0 L536.2,498.4 L535.9,497.8 L535.6,497.1 L535.3,496.5 L535.0,495.9 L534.7,495.3 L534.4,494.7 L534.0,494.1 Z" fill="#7dff7a"/><path d="M587.4,565.0 L586.5,566.5 L585.6,568.0 L584.6,569.4 L583.6,570.9 L582.6,572.3 L581.5,573.7 L580.5,575.1 L579.4,576.5 L578.3,577.9 L577.1,579.2 L576.0,580.5 L574.8,581.8 L573.6,583.1 L572.4,584.4 L571.1,585.6 L569.9,586.8 L568.6,588.0 L567.3,589.2 L565.9,590.3 L564.6,591.5 L563.2,592.6 L561.8,593.6 L560.4,594.7 L559.0,595.7 L557.6,596.7 L556.1,597.7 L554.7,598.7 L553.2,599.6 L551.7,600.5 L550.2,601.4 L548.6,602.2 L547.1,603.0 L545.5,603.8 L544.0,604.6 L542.4,605.3 L540.8,606.0 L539.2,606.7 L537.5,607.4 L535.9,608.0 L534.3,608.6 L532.6,609.2 L531.0,609.7 L529.3,610.3 L527.6,610.8 L525.9,611.2 L524.2,611.6 L522.5,612.0 L520.8,612.4 L519.1,612.8 L517.4,613.1 L515.7,613.4 L513.9,613.6 L512.2,613.8 L510.5,614.0 L508.7,614.2 L507.0,614.3 L505.2,614.4 L503.5,614.5 L501.7,614.5 L500.0,614.6 L500.0,552.6 L500.7,552.6 L501.4,552.6 L502.0,552.6 L502.7,552.5 L503.4,552.5 L504.1,552.4 L504.7,552.4 L505.4,552.3 L506.1,552.2 L506.8,552.1 L507.4,551.9 L508.1,551.8 L508.8,551.7 L509.4,551.5 L510.1,551.3 L510.7,551.1 L511.4,551.0 L512.0,550.7 L512.7,550.5 L513.3,550.3 L514.0,550.1 L514.6,549.8 L515.2,549.6 L515.8,549.3 L516.5,549.0 L517.1,548.7 L517.7,548.4 L518.3,548.1 L518.9,547.8 L519.5,547.5 L520.1,547.1 L520.6,546.8 L521.2,546.4 L521.8,546.0 L522.3,545.6 L522.9,545.3 L523.4,544.8 L524.0,544.4 L524.5,544.0 L525.1,543.6 L525.6,543.1 L526.1,542.7 L526.6,542.2 L527.1,541.8 L527.6,541.3 L528.0,540.8 L528.5,540.3 L529.0,539.8 L529.4,539.3 L529.9,538.8 L530.3,538.3 L530.7,537.8 L531.2,537.2 L531.6,536.7 L532.0,536.1 L532.4,535.6 L532.7,535.0 L533.1,534.4 L533.5,533.8 L533.8,533.3 Z" fill="#7dff7a"/><path d="M500.0,614.6 L498.3,614.5 L496.5,614.5 L494.8,614.4 L493.0,614.3 L491.3,614.2 L489.5,614.0 L487.8,613.8 L486.1,613.6 L484.3,613.4 L482.6,613.1 L480.9,612.8 L479.2,612.4 L477.5,612.0 L475.8,611.6 L474.1,611.2 L472.4,610.8 L470.7,610.3 L469.0,609.7 L467.4,609.2 L465.7,608.6 L464.1,608.0 L462.5,607.4 L460.8,606.7 L459.2,606.0 L457.6,605.3 L456.0,604.6 L454.5,603.8 L452.9,603.0 L451.4,602.2 L449.8,601.4 L448.3,600.5 L446.8,599.6 L445.3,598.7 L443.9,597.7 L442.4,596.7 L441.0,595.7 L439.6,594.7 L438.2,593.6 L436.8,592.6 L435.4,591.5 L434.1,590.3 L432.7,589.2 L431.4,588.0 L430.1,586.8 L428.9,585.6 L427.6,584.4 L426.4,583.1 L425.2,581.8 L424.0,580.5 L422.9,579.2 L421.7,577.9 L420.6,576.5 L419.5,575.1 L418.5,573.7 L417.4,572.3 L416.4,570.9 L415.4,569.4 L414.4,568.0 L413.5,566.5 L412.6,565.0 L466.2,533.3 L466.5,533.8 L466.9,534.4 L467.3,535.0 L467.6,535.6 L468.0,536.1 L468.4,536.7 L468.8,537.2 L469.3,537.8 L469.7,538.3 L470.1,538.8 L470.6,539.3 L471.0,539.8 L471.5,540.3 L472.0,540.8 L472.4,541.3 L472.9,541.8 L473.4,542.2 L473.9,542.7 L474.4,543.1 L474.9,543.6 L475.5,544.0 L476.0,544.4 L476.6,544.8 L477.1,545.3 L477.7,545.6 L478.2,546.0 L478.8,546.4 L479.4,546.8 L479.9,547.1 L480.5,547.5 L481.1,547.8 L481.7,548.1 L482.3,548.4 L482.9,548.7 L483.5,549.0 L484.2,549.3 L484.8,549.6 L485.4,549.8 L486.0,550.1 L486.7,550.3 L487.3,550.5 L488.0,550.7 L488.6,551.0 L489.3,551.1 L489.9,551.3 L490.6,551.5 L491.2,551.7 L491.9,551.8 L492.6,551.9 L493.2,552.1 L493.9,552.2 L494.6,552.3 L495.3,552.4 L495.9,552.4 L496.6,552.5 L497.3,552.5 L498.0,552.6 L498.6,552.6 L499.3,552.6 L500.0,552.6 Z" fill="#7dff7a"/><path d="M412.6,565.0 L411.7,563.4 L410.8,561.9 L410.0,560.4 L409.2,558.8 L408.4,557.2 L407.6,555.6 L406.9,554.0 L406.2,552.4 L405.5,550.8 L404.9,549.1 L404.3,547.5 L403.7,545.8 L403.1,544.1 L402.6,542.4 L402.1,540.7 L401.6,539.0 L401.2,537.3 L400.7,535.6 L400.4,533.9 L400.0,532.1 L399.7,530.4 L399.4,528.6 L399.1,526.9 L398.9,525.1 L398.7,523.4 L398.5,521.6 L398.4,519.8 L398.3,518.1 L398.2,516.3 L398.2,514.5 L398.1,512.7 L398.2,511.0 L398.2,509.2 L398.3,507.4 L398.4,505.6 L398.5,503.8 L398.7,502.1 L398.9,500.3 L399.1,498.5 L399.4,496.8 L399.7,495.0 L400.0,493.3 L400.4,491.5 L400.7,489.8 L401.2,488.0 L401.6,486.3 L402.1,484.6 L402.6,482.9 L403.1,481.2 L403.7,479.5 L404.3,477.8 L404.9,476.1 L405.6,474.4 L406.3,472.8 L407.0,471.2 L407.7,469.5 L408.5,467.9 L409.3,466.3 L410.1,464.7 L411.0,463.1 L466.0,494.1 L465.6,494.7 L465.3,495.3 L465.0,495.9 L464.7,496.5 L464.4,497.1 L464.1,497.8 L463.8,498.4 L463.6,499.0 L463.3,499.7 L463.1,500.3 L462.9,501.0 L462.7,501.6 L462.5,502.3 L462.3,502.9 L462.1,503.6 L461.9,504.2 L461.8,504.9 L461.6,505.6 L461.5,506.3 L461.4,506.9 L461.3,507.6 L461.2,508.3 L461.1,509.0 L461.0,509.6 L461.0,510.3 L460.9,511.0 L460.9,511.7 L460.8,512.4 L460.8,513.1 L460.8,513.7 L460.8,514.4 L460.9,515.1 L460.9,515.8 L460.9,516.5 L461.0,517.1 L461.1,517.8 L461.1,518.5 L461.2,519.2 L461.3,519.9 L461.5,520.5 L461.6,521.2 L461.7,521.9 L461.9,522.5 L462.1,523.2 L462.2,523.9 L462.4,524.5 L462.6,525.2 L462.8,525.8 L463.0,526.5 L463.3,527.1 L463.5,527.7 L463.8,528.4 L464.0,529.0 L464.3,529.6 L464.6,530.2 L464.9,530.9 L465.2,531.5 L465.5,532.1 L465.9,532.7 L466.2,533.3 Z" fill="#f10800"/><path d="M411.0,463.1 L411.9,461.6 L412.8,460.0 L413.7,458.5 L414.7,457.0 L415.7,455.5 L416.7,454.0 L417.8,452.6 L418.8,451.1 L419.9,449.7 L421.1,448.3 L422.2,446.9 L423.4,445.6 L424.6,444.2 L425.8,442.9 L427.1,441.6 L428.3,440.3 L429.6,439.1 L430.9,437.8 L432.3,436.6 L433.6,435.4 L435.0,434.3 L436.4,433.1 L437.8,432.0 L439.2,430.9 L440.7,429.9 L442.2,428.8 L443.7,427.8 L445.2,426.8 L446.7,425.9 L448.3,424.9 L449.8,424.0 L451.4,423.2 L453.0,422.3 L454.6,421.5 L456.2,420.7 L457.9,419.9 L459.5,419.2 L461.2,418.5 L462.9,417.8 L464.6,417.2 L466.3,416.6 L468.0,416.0 L469.7,415.4 L471.4,414.9 L473.2,414.4 L474.9,414.0 L476.7,413.5 L478.4,413.1 L480.2,412.8 L482.0,412.4 L483.8,412.1 L485.6,411.8 L487.4,411.6 L489.2,411.4 L491.0,411.2 L492.8,411.1 L494.6,411.0 L496.4,410.9 L498.2,410.8 L500.0,410.8 L500.0,474.3 L499.3,474.3 L498.6,474.3 L497.9,474.3 L497.2,474.4 L496.6,474.4 L495.9,474.5 L495.2,474.6 L494.5,474.7 L493.8,474.8 L493.2,474.9 L492.5,475.0 L491.8,475.2 L491.1,475.3 L490.5,475.5 L489.8,475.6 L489.1,475.8 L488.5,476.0 L487.8,476.2 L487.2,476.5 L486.5,476.7 L485.9,476.9 L485.2,477.2 L484.6,477.4 L484.0,477.7 L483.3,478.0 L482.7,478.3 L482.1,478.6 L481.5,478.9 L480.9,479.3 L480.3,479.6 L479.7,480.0 L479.1,480.3 L478.5,480.7 L478.0,481.1 L477.4,481.5 L476.8,481.9 L476.3,482.3 L475.7,482.7 L475.2,483.1 L474.7,483.6 L474.2,484.0 L473.7,484.5 L473.1,484.9 L472.7,485.4 L472.2,485.9 L471.7,486.4 L471.2,486.9 L470.8,487.4 L470.3,487.9 L469.9,488.4 L469.4,489.0 L469.0,489.5 L468.6,490.1 L468.2,490.6 L467.8,491.2 L467.4,491.7 L467.0,492.3 L466.7,492.9 L466.3,493.5 L466.0,494.1 Z" fill="#800000"/><path d="M500.0,353.0 L502.8,353.0 L505.7,353.1 L508.5,353.2 L511.4,353.4 L514.2,353.6 L517.0,353.9 L519.9,354.2 L522.7,354.6 L525.5,355.1 L528.3,355.5 L531.1,356.1 L533.9,356.7 L536.6,357.3 L539.4,358.0 L542.1,358.7 L544.9,359.5 L547.6,360.3 L550.3,361.2 L553.0,362.1 L555.6,363.1 L558.3,364.1 L560.9,365.2 L563.5,366.3 L566.1,367.4 L568.7,368.7 L571.2,369.9 L573.7,371.2 L576.2,372.5 L578.7,373.9 L581.1,375.4 L583.6,376.8 L586.0,378.4 L588.3,379.9 L590.6,381.5 L593.0,383.2 L595.2,384.8 L560.8,430.9 L559.3,429.9 L557.8,428.8 L556.3,427.8 L554.8,426.8 L553.3,425.9 L551.7,424.9 L550.2,424.0 L548.6,423.2 L547.0,422.3 L545.4,421.5 L543.8,420.7 L542.1,419.9 L540.5,419.2 L538.8,418.5 L537.1,417.8 L535.4,417.2 L533.7,416.6 L532.0,416.0 L530.3,415.4 L528.6,414.9 L526.8,414.4 L525.1,414.0 L523.3,413.5 L521.6,413.1 L519.8,412.8 L518.0,412.4 L516.2,412.1 L514.4,411.8 L512.6,411.6 L510.8,411.4 L509.0,411.2 L507.2,411.1 L505.4,411.0 L503.6,410.9 L501.8,410.8 L500.0,410.8 Z" fill="#ceff29"/><path d="M595.2,384.8 L597.5,386.6 L599.7,388.3 L601.9,390.1 L604.0,391.9 L606.1,393.8 L608.2,395.7 L610.2,397.7 L612.2,399.7 L614.2,401.7 L616.1,403.7 L618.0,405.8 L619.9,407.9 L621.7,410.1 L623.5,412.2 L625.2,414.5 L626.9,416.7 L628.6,419.0 L630.2,421.3 L631.8,423.6 L633.3,425.9 L634.8,428.3 L636.3,430.7 L637.7,433.1 L639.0,435.6 L640.4,438.1 L641.6,440.5 L642.9,443.1 L644.0,445.6 L645.2,448.2 L646.3,450.7 L647.3,453.3 L648.3,455.9 L649.3,458.5 L650.2,461.2 L651.0,463.8 L651.9,466.5 L597.4,482.9 L596.9,481.2 L596.3,479.5 L595.7,477.8 L595.1,476.1 L594.4,474.4 L593.7,472.8 L593.0,471.2 L592.3,469.5 L591.5,467.9 L590.7,466.3 L589.9,464.7 L589.0,463.1 L588.1,461.6 L587.2,460.0 L586.3,458.5 L585.3,457.0 L584.3,455.5 L583.3,454.0 L582.2,452.6 L581.2,451.1 L580.1,449.7 L578.9,448.3 L577.8,446.9 L576.6,445.6 L575.4,444.2 L574.2,442.9 L572.9,441.6 L571.7,440.3 L570.4,439.1 L569.1,437.8 L567.7,436.6 L566.4,435.4 L565.0,434.3 L563.6,433.1 L562.2,432.0 L560.8,430.9 Z" fill="#29ffce"/><path d="M651.9,466.5 L652.6,469.2 L653.3,471.9 L654.0,474.6 L654.6,477.3 L655.2,480.0 L655.7,482.7 L656.2,485.5 L656.6,488.2 L657.0,490.9 L657.4,493.7 L657.6,496.5 L657.9,499.2 L658.1,502.0 L658.2,504.7 L658.3,507.5 L658.4,510.3 L658.3,513.0 L658.3,515.8 L658.2,518.6 L658.0,521.3 L657.8,524.1 L657.6,526.8 L657.3,529.6 L657.0,532.3 L656.6,535.0 L656.2,537.7 L655.7,540.4 L655.1,543.1 L654.6,545.8 L654.0,548.5 L653.3,551.2 L652.6,553.8 L651.8,556.4 L651.0,559.1 L650.2,561.7 L649.3,564.3 L596.3,545.8 L596.9,544.1 L597.4,542.4 L597.9,540.7 L598.4,539.0 L598.8,537.3 L599.3,535.6 L599.6,533.9 L600.0,532.1 L600.3,530.4 L600.6,528.6 L600.9,526.9 L601.1,525.1 L601.3,523.4 L601.5,521.6 L601.6,519.8 L601.7,518.1 L601.8,516.3 L601.8,514.5 L601.9,512.7 L601.8,511.0 L601.8,509.2 L601.7,507.4 L601.6,505.6 L601.5,503.8 L601.3,502.1 L601.1,500.3 L600.9,498.5 L600.6,496.8 L600.3,495.0 L600.0,493.3 L599.6,491.5 L599.3,489.8 L598.8,488.0 L598.4,486.3 L597.9,484.6 L597.4,482.9 Z" fill="#7dff7a"/><path d="M649.3,564.3 L648.3,566.8 L647.4,569.4 L646.3,571.9 L645.3,574.4 L644.2,576.9 L643.0,579.4 L641.8,581.9 L640.6,584.3 L639.3,586.7 L638.0,589.1 L636.6,591.5 L635.2,593.8 L633.8,596.1 L632.3,598.4 L630.8,600.7 L629.3,602.9 L627.7,605.1 L626.0,607.3 L624.4,609.4 L622.7,611.6 L620.9,613.7 L619.2,615.7 L617.4,617.7 L615.5,619.7 L613.7,621.7 L611.8,623.6 L609.8,625.5 L607.8,627.4 L605.8,629.2 L603.8,631.0 L601.8,632.8 L599.7,634.5 L597.6,636.2 L595.4,637.8 L593.2,639.4 L591.0,641.0 L559.0,595.7 L560.4,594.7 L561.8,593.6 L563.2,592.6 L564.6,591.5 L565.9,590.3 L567.3,589.2 L568.6,588.0 L569.9,586.8 L571.1,585.6 L572.4,584.4 L573.6,583.1 L574.8,581.8 L576.0,580.5 L577.1,579.2 L578.3,577.9 L579.4,576.5 L580.5,575.1 L581.5,573.7 L582.6,572.3 L583.6,570.9 L584.6,569.4 L585.6,568.0 L586.5,566.5 L587.4,565.0 L588.3,563.4 L589.2,561.9 L590.0,560.4 L590.8,558.8 L591.6,557.2 L592.4,555.6 L593.1,554.0 L593.8,552.4 L594.5,550.8 L595.1,549.1 L595.7,547.5 L596.3,545.8 Z" fill="#7dff7a"/><path d="M591.0,641.0 L588.8,642.5 L586.6,644.0 L584.3,645.5 L582.0,646.9 L579.7,648.3 L577.3,649.6 L575.0,650.9 L572.6,652.2 L570.2,653.4 L567.7,654.6 L565.3,655.7 L562.8,656.8 L560.3,657.9 L557.8,658.9 L555.3,659.8 L552.8,660.7 L550.2,661.6 L547.7,662.5 L545.1,663.2 L542.5,664.0 L539.9,664.7 L537.3,665.3 L534.7,666.0 L532.1,666.5 L529.4,667.1 L526.8,667.5 L524.1,668.0 L521.5,668.3 L518.8,668.7 L516.1,669.0 L513.4,669.2 L510.8,669.4 L508.1,669.6 L505.4,669.7 L502.7,669.8 L500.0,669.8 L500.0,614.6 L501.7,614.5 L503.5,614.5 L505.2,614.4 L507.0,614.3 L508.7,614.2 L510.5,614.0 L512.2,613.8 L513.9,613.6 L515.7,613.4 L517.4,613.1 L519.1,612.8 L520.8,612.4 L522.5,612.0 L524.2,611.6 L525.9,611.2 L527.6,610.8 L529.3,610.3 L531.0,609.7 L532.6,609.2 L534.3,608.6 L535.9,608.0 L537.5,607.4 L539.2,606.7 L540.8,606.0 L542.4,605.3 L544.0,604.6 L545.5,603.8 L547.1,603.0 L548.6,602.2 L550.2,601.4 L551.7,600.5 L553.2,599.6 L554.7,598.7 L556.1,597.7 L557.6,596.7 L559.0,595.7 Z" fill="#29ffce"/><path d="M500.0,669.8 L497.3,669.8 L494.6,669.7 L491.9,669.6 L489.2,669.4 L486.6,669.2 L483.9,669.0 L481.2,668.7 L478.5,668.3 L475.9,668.0 L473.2,667.5 L470.6,667.1 L467.9,666.5 L465.3,666.0 L462.7,665.3 L460.1,664.7 L457.5,664.0 L454.9,663.2 L452.3,662.5 L449.8,661.6 L447.2,660.7 L444.7,659.8 L442.2,658.9 L439.7,657.9 L437.2,656.8 L434.7,655.7 L432.3,654.6 L429.8,653.4 L427.4,652.2 L425.0,650.9 L422.7,649.6 L420.3,648.3 L418.0,646.9 L415.7,645.5 L413.4,644.0 L411.2,642.5 L409.0,641.0 L441.0,595.7 L442.4,596.7 L443.9,597.7 L445.3,598.7 L446.8,599.6 L448.3,600.5 L449.8,601.4 L451.4,602.2 L452.9,603.0 L454.5,603.8 L456.0,604.6 L457.6,605.3 L459.2,606.0 L460.8,606.7 L462.5,607.4 L464.1,608.0 L465.7,608.6 L467.4,609.2 L469.0,609.7 L470.7,610.3 L472.4,610.8 L474.1,611.2 L475.8,611.6 L477.5,612.0 L479.2,612.4 L480.9,612.8 L482.6,613.1 L484.3,613.4 L486.1,613.6 L487.8,613.8 L489.5,614.0 L491.3,614.2 L493.0,614.3 L494.8,614.4 L496.5,614.5 L498.3,614.5 L500.0,614.6 Z" fill="#00b0ff"/><path d="M409.0,641.0 L406.8,639.4 L404.6,637.8 L402.4,636.2 L400.3,634.5 L398.2,632.8 L396.2,631.0 L394.2,629.2 L392.2,627.4 L390.2,625.5 L388.2,623.6 L386.3,621.7 L384.5,619.7 L382.6,617.7 L380.8,615.7 L379.1,613.7 L377.3,611.6 L375.6,609.4 L374.0,607.3 L372.3,605.1 L370.7,602.9 L369.2,600.7 L367.7,598.4 L366.2,596.1 L364.8,593.8 L363.4,591.5 L362.0,589.1 L360.7,586.7 L359.4,584.3 L358.2,581.9 L357.0,579.4 L355.8,576.9 L354.7,574.4 L353.7,571.9 L352.6,569.4 L351.7,566.8 L350.7,564.3 L403.7,545.8 L404.3,547.5 L404.9,549.1 L405.5,550.8 L406.2,552.4 L406.9,554.0 L407.6,555.6 L408.4,557.2 L409.2,558.8 L410.0,560.4 L410.8,561.9 L411.7,563.4 L412.6,565.0 L413.5,566.5 L414.4,568.0 L415.4,569.4 L416.4,570.9 L417.4,572.3 L418.5,573.7 L419.5,575.1 L420.6,576.5 L421.7,577.9 L422.9,579.2 L424.0,580.5 L425.2,581.8 L426.4,583.1 L427.6,584.4 L428.9,585.6 L430.1,586.8 L431.4,588.0 L432.7,589.2 L434.1,590.3 L435.4,591.5 L436.8,592.6 L438.2,593.6 L439.6,594.7 L441.0,595.7 Z" fill="#7dff7a"/><path d="M350.7,564.3 L349.8,561.7 L349.0,559.1 L348.2,556.4 L347.4,553.8 L346.7,551.2 L346.0,548.5 L345.4,545.8 L344.9,543.1 L344.3,540.4 L343.8,537.7 L343.4,535.0 L343.0,532.3 L342.7,529.6 L342.4,526.8 L342.2,524.1 L342.0,521.3 L341.8,518.6 L341.7,515.8 L341.7,513.0 L341.6,510.3 L341.7,507.5 L341.8,504.7 L341.9,502.0 L342.1,499.2 L342.4,496.5 L342.6,493.7 L343.0,490.9 L343.4,488.2 L343.8,485.5 L344.3,482.7 L344.8,480.0 L345.4,477.3 L346.0,474.6 L346.7,471.9 L347.4,469.2 L348.1,466.5 L402.6,482.9 L402.1,484.6 L401.6,486.3 L401.2,488.0 L400.7,489.8 L400.4,491.5 L400.0,493.3 L399.7,495.0 L399.4,496.8 L399.1,498.5 L398.9,500.3 L398.7,502.1 L398.5,503.8 L398.4,505.6 L398.3,507.4 L398.2,509.2 L398.2,511.0 L398.1,512.7 L398.2,514.5 L398.2,516.3 L398.3,518.1 L398.4,519.8 L398.5,521.6 L398.7,523.4 L398.9,525.1 L399.1,526.9 L399.4,528.6 L399.7,530.4 L400.0,532.1 L400.4,533.9 L400.7,535.6 L401.2,537.3 L401.6,539.0 L402.1,540.7 L402.6,542.4 L403.1,544.1 L403.7,545.8 Z" fill="#ff6800"/><path d="M348.1,466.5 L349.0,463.8 L349.8,461.2 L350.7,458.5 L351.7,455.9 L352.7,453.3 L353.7,450.7 L354.8,448.2 L356.0,445.6 L357.1,443.1 L358.4,440.5 L359.6,438.1 L361.0,435.6 L362.3,433.1 L363.7,430.7 L365.2,428.3 L366.7,425.9 L368.2,423.6 L369.8,421.3 L371.4,419.0 L373.1,416.7 L374.8,414.5 L376.5,412.2 L378.3,410.1 L380.1,407.9 L382.0,405.8 L383.9,403.7 L385.8,401.7 L387.8,399.7 L389.8,397.7 L391.8,395.7 L393.9,393.8 L396.0,391.9 L398.1,390.1 L400.3,388.3 L402.5,386.6 L404.8,384.8 L439.2,430.9 L437.8,432.0 L436.4,433.1 L435.0,434.3 L433.6,435.4 L432.3,436.6 L430.9,437.8 L429.6,439.1 L428.3,440.3 L427.1,441.6 L425.8,442.9 L424.6,444.2 L423.4,445.6 L422.2,446.9 L421.1,448.3 L419.9,449.7 L418.8,451.1 L417.8,452.6 L416.7,454.0 L415.7,455.5 L414.7,457.0 L413.7,458.5 L412.8,460.0 L411.9,461.6 L411.0,463.1 L410.1,464.7 L409.3,466.3 L408.5,467.9 L407.7,469.5 L407.0,471.2 L406.3,472.8 L405.6,474.4 L404.9,476.1 L404.3,477.8 L403.7,479.5 L403.1,481.2 L402.6,482.9 Z" fill="#ff6800"/><path d="M404.8,384.8 L407.0,383.2 L409.4,381.5 L411.7,379.9 L414.0,378.4 L416.4,376.8 L418.9,375.4 L421.3,373.9 L423.8,372.5 L426.3,371.2 L428.8,369.9 L431.3,368.7 L433.9,367.4 L436.5,366.3 L439.1,365.2 L441.7,364.1 L444.4,363.1 L447.0,362.1 L449.7,361.2 L452.4,360.3 L455.1,359.5 L457.9,358.7 L460.6,358.0 L463.4,357.3 L466.1,356.7 L468.9,356.1 L471.7,355.5 L474.5,355.1 L477.3,354.6 L480.1,354.2 L483.0,353.9 L485.8,353.6 L488.6,353.4 L491.5,353.2 L494.3,353.1 L497.2,353.0 L500.0,353.0 L500.0,410.8 L498.2,410.8 L496.4,410.9 L494.6,411.0 L492.8,411.1 L491.0,411.2 L489.2,411.4 L487.4,411.6 L485.6,411.8 L483.8,412.1 L482.0,412.4 L480.2,412.8 L478.4,413.1 L476.7,413.5 L474.9,414.0 L473.2,414.4 L471.4,414.9 L469.7,415.4 L468.0,416.0 L466.3,416.6 L464.6,417.2 L462.9,417.8 L461.2,418.5 L459.5,419.2 L457.9,419.9 L456.2,420.7 L454.6,421.5 L453.0,422.3 L451.4,423.2 L449.8,424.0 L448.3,424.9 L446.7,425.9 L445.2,426.8 L443.7,427.8 L442.2,428.8 L440.7,429.9 L439.2,430.9 Z" fill="#ffc400"/><path d="M500.0,294.9 L503.9,294.9 L507.7,295.0 L511.5,295.2 L515.4,295.4 L519.2,295.7 L523.1,296.1 L526.9,296.6 L530.7,297.1 L534.5,297.7 L538.3,298.3 L542.1,299.0 L545.8,299.8 L549.6,300.7 L553.3,301.6 L557.0,302.6 L560.7,303.7 L564.4,304.8 L568.1,306.0 L571.7,307.2 L575.3,308.5 L578.9,309.9 L582.4,311.4 L586.0,312.9 L589.5,314.4 L592.9,316.1 L596.4,317.8 L570.5,369.5 L568.0,368.3 L565.4,367.1 L562.9,366.0 L560.3,364.9 L557.7,363.9 L555.0,362.9 L552.4,361.9 L549.7,361.0 L547.1,360.1 L544.4,359.3 L541.7,358.6 L539.0,357.9 L536.2,357.2 L533.5,356.6 L530.7,356.0 L528.0,355.5 L525.2,355.0 L522.4,354.6 L519.6,354.2 L516.8,353.9 L514.0,353.6 L511.2,353.4 L508.4,353.2 L505.6,353.1 L502.8,353.0 L500.0,353.0 Z" fill="#29ffce"/><path d="M596.4,317.8 L599.8,319.5 L603.2,321.3 L606.5,323.2 L609.8,325.1 L613.1,327.1 L616.3,329.2 L619.5,331.3 L622.7,333.4 L625.8,335.7 L628.9,337.9 L631.9,340.2 L634.9,342.6 L637.8,345.0 L640.7,347.5 L643.6,350.1 L646.4,352.6 L649.2,355.3 L651.9,357.9 L654.5,360.6 L657.1,363.4 L659.7,366.2 L662.2,369.1 L664.7,372.0 L667.1,374.9 L669.4,377.9 L671.7,380.9 L626.0,415.4 L624.3,413.2 L622.5,411.0 L620.7,408.9 L618.9,406.8 L617.1,404.7 L615.2,402.7 L613.2,400.7 L611.3,398.7 L609.3,396.8 L607.2,394.8 L605.2,393.0 L603.1,391.1 L600.9,389.3 L598.8,387.6 L596.6,385.8 L594.3,384.2 L592.1,382.5 L589.8,380.9 L587.5,379.3 L585.1,377.8 L582.7,376.3 L580.3,374.9 L577.9,373.5 L575.5,372.1 L573.0,370.8 L570.5,369.5 Z" fill="#00b0ff"/><path d="M671.7,380.9 L674.0,383.9 L676.2,387.0 L678.3,390.2 L680.4,393.3 L682.4,396.5 L684.3,399.7 L686.2,403.0 L688.1,406.3 L689.9,409.6 L691.6,413.0 L693.3,416.3 L694.9,419.8 L696.4,423.2 L697.9,426.6 L699.3,430.1 L700.7,433.6 L702.0,437.1 L703.2,440.7 L704.4,444.2 L705.5,447.8 L706.5,451.4 L707.5,455.0 L708.4,458.6 L709.3,462.3 L710.1,465.9 L710.8,469.6 L655.3,480.4 L654.7,477.7 L654.1,475.0 L653.5,472.3 L652.8,469.7 L652.0,467.0 L651.2,464.4 L650.4,461.8 L649.5,459.1 L648.6,456.6 L647.6,454.0 L646.6,451.4 L645.5,448.9 L644.4,446.3 L643.2,443.8 L642.0,441.3 L640.8,438.8 L639.5,436.4 L638.1,434.0 L636.8,431.6 L635.4,429.2 L633.9,426.8 L632.4,424.5 L630.8,422.2 L629.3,419.9 L627.6,417.6 L626.0,415.4 Z" fill="#29ffce"/><path d="M710.8,469.6 L711.4,473.3 L712.0,476.9 L712.6,480.6 L713.0,484.3 L713.5,488.0 L713.8,491.7 L714.1,495.4 L714.3,499.1 L714.4,502.8 L714.5,506.5 L714.5,510.2 L714.5,513.9 L714.4,517.6 L714.2,521.3 L714.0,525.0 L713.7,528.7 L713.3,532.4 L712.9,536.0 L712.4,539.7 L711.9,543.3 L711.3,546.9 L710.6,550.6 L709.9,554.2 L709.1,557.8 L708.2,561.3 L707.3,564.9 L653.4,550.8 L654.0,548.1 L654.6,545.5 L655.2,542.8 L655.7,540.2 L656.2,537.5 L656.6,534.8 L657.0,532.1 L657.3,529.4 L657.6,526.7 L657.9,524.0 L658.0,521.3 L658.2,518.5 L658.3,515.8 L658.3,513.1 L658.4,510.3 L658.3,507.6 L658.2,504.9 L658.1,502.1 L657.9,499.4 L657.7,496.7 L657.4,493.9 L657.1,491.2 L656.7,488.5 L656.3,485.8 L655.8,483.1 L655.3,480.4 Z" fill="#29ffce"/><path d="M707.3,564.9 L706.3,568.4 L705.3,571.9 L704.2,575.4 L703.0,578.9 L701.8,582.3 L700.6,585.8 L699.2,589.2 L697.9,592.6 L696.4,595.9 L694.9,599.2 L693.4,602.5 L691.8,605.8 L690.1,609.1 L688.4,612.3 L686.6,615.4 L684.8,618.6 L682.9,621.7 L681.0,624.8 L679.0,627.8 L677.0,630.8 L674.9,633.8 L672.8,636.8 L670.7,639.7 L668.4,642.5 L666.2,645.3 L663.9,648.1 L621.7,612.8 L623.4,610.7 L625.1,608.6 L626.7,606.4 L628.3,604.3 L629.8,602.1 L631.4,599.9 L632.8,597.6 L634.3,595.3 L635.7,593.0 L637.1,590.7 L638.4,588.4 L639.7,586.0 L640.9,583.6 L642.2,581.2 L643.3,578.8 L644.4,576.3 L645.5,573.8 L646.6,571.3 L647.6,568.8 L648.5,566.3 L649.5,563.8 L650.3,561.2 L651.2,558.6 L651.9,556.0 L652.7,553.4 L653.4,550.8 Z" fill="#00b0ff"/><path d="M663.9,648.1 L661.5,650.9 L659.1,653.6 L656.7,656.2 L654.2,658.8 L651.6,661.4 L649.1,663.9 L646.5,666.4 L643.8,668.9 L641.1,671.3 L638.4,673.6 L635.6,675.9 L632.8,678.2 L630.0,680.4 L627.1,682.5 L624.2,684.6 L621.2,686.7 L618.2,688.7 L615.2,690.6 L612.2,692.5 L609.1,694.4 L606.0,696.2 L602.9,697.9 L599.7,699.6 L596.5,701.3 L593.3,702.9 L590.1,704.4 L567.0,654.9 L569.5,653.8 L571.8,652.6 L574.2,651.3 L576.6,650.1 L578.9,648.8 L581.2,647.4 L583.5,646.0 L585.7,644.6 L588.0,643.1 L590.2,641.6 L592.4,640.1 L594.5,638.5 L596.6,636.9 L598.7,635.2 L600.8,633.6 L602.9,631.8 L604.9,630.1 L606.9,628.3 L608.8,626.5 L610.8,624.6 L612.7,622.7 L614.5,620.8 L616.4,618.8 L618.2,616.8 L620.0,614.8 L621.7,612.8 Z" fill="#00b0ff"/><path d="M590.1,704.4 L586.8,705.9 L583.5,707.3 L580.2,708.7 L576.9,710.0 L573.5,711.2 L570.2,712.4 L566.8,713.6 L563.4,714.7 L559.9,715.7 L556.5,716.7 L553.0,717.6 L549.6,718.4 L546.1,719.2 L542.6,720.0 L539.1,720.6 L535.6,721.3 L532.0,721.8 L528.5,722.3 L524.9,722.8 L521.4,723.2 L517.8,723.5 L514.3,723.8 L510.7,724.0 L507.1,724.1 L503.6,724.2 L500.0,724.2 L500.0,669.8 L502.7,669.8 L505.3,669.7 L508.0,669.6 L510.6,669.5 L513.3,669.3 L515.9,669.0 L518.6,668.7 L521.2,668.4 L523.9,668.0 L526.5,667.6 L529.1,667.1 L531.7,666.6 L534.3,666.0 L536.9,665.4 L539.5,664.8 L542.1,664.1 L544.6,663.4 L547.2,662.6 L549.7,661.8 L552.2,660.9 L554.7,660.0 L557.2,659.1 L559.7,658.1 L562.2,657.1 L564.6,656.0 L567.0,654.9 Z" fill="#00b0ff"/><path d="M500.0,724.2 L496.4,724.2 L492.9,724.1 L489.3,724.0 L485.7,723.8 L482.2,723.5 L478.6,723.2 L475.1,722.8 L471.5,722.3 L468.0,721.8 L464.4,721.3 L460.9,720.6 L457.4,720.0 L453.9,719.2 L450.4,718.4 L447.0,717.6 L443.5,716.7 L440.1,715.7 L436.6,714.7 L433.2,713.6 L429.8,712.4 L426.5,711.2 L423.1,710.0 L419.8,708.7 L416.5,707.3 L413.2,705.9 L409.9,704.4 L433.0,654.9 L435.4,656.0 L437.8,657.1 L440.3,658.1 L442.8,659.1 L445.3,660.0 L447.8,660.9 L450.3,661.8 L452.8,662.6 L455.4,663.4 L457.9,664.1 L460.5,664.8 L463.1,665.4 L465.7,666.0 L468.3,666.6 L470.9,667.1 L473.5,667.6 L476.1,668.0 L478.8,668.4 L481.4,668.7 L484.1,669.0 L486.7,669.3 L489.4,669.5 L492.0,669.6 L494.7,669.7 L497.3,669.8 L500.0,669.8 Z" fill="#004cff"/><path d="M409.9,704.4 L406.7,702.9 L403.5,701.3 L400.3,699.6 L397.1,697.9 L394.0,696.2 L390.9,694.4 L387.8,692.5 L384.8,690.6 L381.8,688.7 L378.8,686.7 L375.8,684.6 L372.9,682.5 L370.0,680.4 L367.2,678.2 L364.4,675.9 L361.6,673.6 L358.9,671.3 L356.2,668.9 L353.5,666.4 L350.9,663.9 L348.4,661.4 L345.8,658.8 L343.3,656.2 L340.9,653.6 L338.5,650.9 L336.1,648.1 L378.3,612.8 L380.0,614.8 L381.8,616.8 L383.6,618.8 L385.5,620.8 L387.3,622.7 L389.2,624.6 L391.2,626.5 L393.1,628.3 L395.1,630.1 L397.1,631.8 L399.2,633.6 L401.3,635.2 L403.4,636.9 L405.5,638.5 L407.6,640.1 L409.8,641.6 L412.0,643.1 L414.3,644.6 L416.5,646.0 L418.8,647.4 L421.1,648.8 L423.4,650.1 L425.8,651.3 L428.2,652.6 L430.5,653.8 L433.0,654.9 Z" fill="#004cff"/><path d="M336.1,648.1 L333.8,645.3 L331.6,642.5 L329.3,639.7 L327.2,636.8 L325.1,633.8 L323.0,630.8 L321.0,627.8 L319.0,624.8 L317.1,621.7 L315.2,618.6 L313.4,615.4 L311.6,612.3 L309.9,609.1 L308.2,605.8 L306.6,602.5 L305.1,599.2 L303.6,595.9 L302.1,592.6 L300.8,589.2 L299.4,585.8 L298.2,582.3 L297.0,578.9 L295.8,575.4 L294.7,571.9 L293.7,568.4 L292.7,564.9 L346.6,550.8 L347.3,553.4 L348.1,556.0 L348.8,558.6 L349.7,561.2 L350.5,563.8 L351.5,566.3 L352.4,568.8 L353.4,571.3 L354.5,573.8 L355.6,576.3 L356.7,578.8 L357.8,581.2 L359.1,583.6 L360.3,586.0 L361.6,588.4 L362.9,590.7 L364.3,593.0 L365.7,595.3 L367.2,597.6 L368.6,599.9 L370.2,602.1 L371.7,604.3 L373.3,606.4 L374.9,608.6 L376.6,610.7 L378.3,612.8 Z" fill="#7dff7a"/><path d="M292.7,564.9 L291.8,561.3 L290.9,557.8 L290.1,554.2 L289.4,550.6 L288.7,546.9 L288.1,543.3 L287.6,539.7 L287.1,536.0 L286.7,532.4 L286.3,528.7 L286.0,525.0 L285.8,521.3 L285.6,517.6 L285.5,513.9 L285.5,510.2 L285.5,506.5 L285.6,502.8 L285.7,499.1 L285.9,495.4 L286.2,491.7 L286.5,488.0 L287.0,484.3 L287.4,480.6 L288.0,476.9 L288.6,473.3 L289.2,469.6 L344.7,480.4 L344.2,483.1 L343.7,485.8 L343.3,488.5 L342.9,491.2 L342.6,493.9 L342.3,496.7 L342.1,499.4 L341.9,502.1 L341.8,504.9 L341.7,507.6 L341.6,510.3 L341.7,513.1 L341.7,515.8 L341.8,518.5 L342.0,521.3 L342.1,524.0 L342.4,526.7 L342.7,529.4 L343.0,532.1 L343.4,534.8 L343.8,537.5 L344.3,540.2 L344.8,542.8 L345.4,545.5 L346.0,548.1 L346.6,550.8 Z" fill="#ffc400"/><path d="M289.2,469.6 L289.9,465.9 L290.7,462.3 L291.6,458.6 L292.5,455.0 L293.5,451.4 L294.5,447.8 L295.6,444.2 L296.8,440.7 L298.0,437.1 L299.3,433.6 L300.7,430.1 L302.1,426.6 L303.6,423.2 L305.1,419.8 L306.7,416.3 L308.4,413.0 L310.1,409.6 L311.9,406.3 L313.8,403.0 L315.7,399.7 L317.6,396.5 L319.6,393.3 L321.7,390.2 L323.8,387.0 L326.0,383.9 L328.3,380.9 L374.0,415.4 L372.4,417.6 L370.7,419.9 L369.2,422.2 L367.6,424.5 L366.1,426.8 L364.6,429.2 L363.2,431.6 L361.9,434.0 L360.5,436.4 L359.2,438.8 L358.0,441.3 L356.8,443.8 L355.6,446.3 L354.5,448.9 L353.4,451.4 L352.4,454.0 L351.4,456.6 L350.5,459.1 L349.6,461.8 L348.8,464.4 L348.0,467.0 L347.2,469.7 L346.5,472.3 L345.9,475.0 L345.3,477.7 L344.7,480.4 Z" fill="#ffc400"/><path d="M328.3,380.9 L330.6,377.9 L332.9,374.9 L335.3,372.0 L337.8,369.1 L340.3,366.2 L342.9,363.4 L345.5,360.6 L348.1,357.9 L350.8,355.3 L353.6,352.6 L356.4,350.1 L359.3,347.5 L362.2,345.0 L365.1,342.6 L368.1,340.2 L371.1,337.9 L374.2,335.7 L377.3,333.4 L380.5,331.3 L383.7,329.2 L386.9,327.1 L390.2,325.1 L393.5,323.2 L396.8,321.3 L400.2,319.5 L403.6,317.8 L429.5,369.5 L427.0,370.8 L424.5,372.1 L422.1,373.5 L419.7,374.9 L417.3,376.3 L414.9,377.8 L412.5,379.3 L410.2,380.9 L407.9,382.5 L405.7,384.2 L403.4,385.8 L401.2,387.6 L399.1,389.3 L396.9,391.1 L394.8,393.0 L392.8,394.8 L390.7,396.8 L388.7,398.7 L386.8,400.7 L384.8,402.7 L382.9,404.7 L381.1,406.8 L379.3,408.9 L377.5,411.0 L375.7,413.2 L374.0,415.4 Z" fill="#ceff29"/><path d="M403.6,317.8 L407.1,316.1 L410.5,314.4 L414.0,312.9 L417.6,311.4 L421.1,309.9 L424.7,308.5 L428.3,307.2 L431.9,306.0 L435.6,304.8 L439.3,303.7 L443.0,302.6 L446.7,301.6 L450.4,300.7 L454.2,299.8 L457.9,299.0 L461.7,298.3 L465.5,297.7 L469.3,297.1 L473.1,296.6 L476.9,296.1 L480.8,295.7 L484.6,295.4 L488.5,295.2 L492.3,295.0 L496.1,294.9 L500.0,294.9 L500.0,353.0 L497.2,353.0 L494.4,353.1 L491.6,353.2 L488.8,353.4 L486.0,353.6 L483.2,353.9 L480.4,354.2 L477.6,354.6 L474.8,355.0 L472.0,355.5 L469.3,356.0 L466.5,356.6 L463.8,357.2 L461.0,357.9 L458.3,358.6 L455.6,359.3 L452.9,360.1 L450.3,361.0 L447.6,361.9 L445.0,362.9 L442.3,363.9 L439.7,364.9 L437.1,366.0 L434.6,367.1 L432.0,368.3 L429.5,369.5 Z" fill="#7dff7a"/><path d="M500.0,236.3 L505.0,236.3 L509.9,236.4 L514.9,236.7 L519.8,237.0 L524.8,237.4 L529.7,237.9 L534.6,238.5 L539.6,239.2 L544.5,239.9 L549.3,240.8 L554.2,241.8 L559.1,242.8 L563.9,243.9 L568.7,245.1 L573.5,246.4 L578.2,247.8 L583.0,249.3 L587.7,250.9 L592.3,252.5 L597.0,254.3 L576.1,308.8 L572.5,307.5 L568.8,306.2 L565.1,305.0 L561.4,303.9 L557.7,302.8 L553.9,301.8 L550.1,300.8 L546.3,299.9 L542.5,299.1 L538.7,298.4 L534.9,297.7 L531.0,297.1 L527.2,296.6 L523.3,296.2 L519.4,295.8 L515.6,295.4 L511.7,295.2 L507.8,295.0 L503.9,294.9 L500.0,294.9 Z" fill="#00b0ff"/><path d="M597.0,254.3 L601.6,256.1 L606.1,258.0 L610.6,259.9 L615.1,262.0 L619.6,264.2 L624.0,266.4 L628.4,268.7 L632.7,271.1 L636.9,273.5 L641.2,276.1 L645.4,278.7 L649.5,281.3 L653.6,284.1 L657.6,286.9 L661.5,289.8 L665.5,292.8 L669.3,295.8 L673.1,298.9 L676.9,302.1 L680.5,305.4 L642.0,348.6 L639.1,346.1 L636.1,343.6 L633.1,341.2 L630.1,338.8 L627.0,336.5 L623.9,334.3 L620.7,332.1 L617.5,329.9 L614.2,327.8 L610.9,325.8 L607.6,323.8 L604.2,321.9 L600.8,320.1 L597.4,318.3 L593.9,316.5 L590.4,314.9 L586.9,313.3 L583.3,311.7 L579.7,310.3 L576.1,308.8 Z" fill="#00b0ff"/><path d="M680.5,305.4 L684.1,308.7 L687.7,312.0 L691.2,315.5 L694.6,318.9 L698.0,322.5 L701.3,326.1 L704.5,329.7 L707.7,333.5 L710.7,337.2 L713.8,341.1 L716.7,344.9 L719.6,348.8 L722.4,352.8 L725.1,356.8 L727.8,360.9 L730.3,365.0 L732.9,369.1 L735.3,373.3 L737.6,377.6 L739.9,381.8 L689.3,408.5 L687.5,405.2 L685.6,401.8 L683.6,398.6 L681.6,395.3 L679.6,392.1 L677.4,388.9 L675.3,385.7 L673.0,382.6 L670.7,379.6 L668.4,376.5 L666.0,373.5 L663.5,370.6 L661.0,367.7 L658.5,364.8 L655.8,362.0 L653.2,359.2 L650.5,356.5 L647.7,353.8 L644.9,351.2 L642.0,348.6 Z" fill="#00b0ff"/><path d="M739.9,381.8 L742.1,386.1 L744.2,390.5 L746.2,394.8 L748.2,399.2 L750.1,403.7 L751.9,408.1 L753.6,412.6 L755.2,417.1 L756.8,421.7 L758.2,426.2 L759.6,430.8 L760.9,435.4 L762.2,440.0 L763.3,444.7 L764.4,449.3 L765.3,454.0 L766.2,458.7 L767.1,463.4 L767.8,468.1 L768.4,472.8 L712.5,480.2 L712.0,476.5 L711.4,472.8 L710.7,469.1 L709.9,465.4 L709.1,461.7 L708.3,458.0 L707.3,454.3 L706.3,450.7 L705.2,447.1 L704.1,443.4 L702.9,439.9 L701.7,436.3 L700.3,432.7 L698.9,429.2 L697.5,425.7 L696.0,422.2 L694.4,418.7 L692.7,415.3 L691.0,411.9 L689.3,408.5 Z" fill="#00b0ff"/><path d="M768.4,472.8 L769.0,477.5 L769.5,482.2 L769.9,486.9 L770.2,491.7 L770.4,496.4 L770.5,501.1 L770.6,505.9 L770.6,510.6 L770.5,515.3 L770.3,520.0 L770.0,524.7 L769.7,529.4 L769.3,534.1 L768.8,538.8 L768.2,543.4 L767.5,548.1 L766.8,552.7 L765.9,557.3 L765.0,561.9 L764.0,566.5 L709.8,554.6 L710.5,550.9 L711.2,547.3 L711.8,543.6 L712.4,539.9 L712.9,536.2 L713.3,532.5 L713.7,528.8 L714.0,525.1 L714.2,521.4 L714.4,517.6 L714.5,513.9 L714.5,510.2 L714.5,506.4 L714.4,502.7 L714.3,498.9 L714.1,495.2 L713.8,491.4 L713.4,487.7 L713.0,483.9 L712.5,480.2 Z" fill="#00b0ff"/><path d="M764.0,566.5 L763.0,571.0 L761.8,575.5 L760.6,580.0 L759.3,584.5 L758.0,589.0 L756.5,593.4 L755.0,597.8 L753.4,602.2 L751.8,606.5 L750.0,610.8 L748.2,615.1 L746.3,619.3 L744.4,623.5 L742.4,627.7 L740.3,631.8 L738.1,635.9 L735.9,639.9 L733.6,643.9 L731.2,647.9 L728.8,651.8 L682.3,622.7 L684.2,619.6 L686.1,616.4 L687.9,613.2 L689.6,610.0 L691.3,606.7 L692.9,603.4 L694.5,600.1 L696.1,596.7 L697.5,593.3 L698.9,589.9 L700.3,586.5 L701.6,583.0 L702.8,579.6 L704.0,576.0 L705.1,572.5 L706.2,569.0 L707.2,565.4 L708.1,561.8 L709.0,558.2 L709.8,554.6 Z" fill="#004cff"/><path d="M728.8,651.8 L726.3,655.7 L723.8,659.5 L721.1,663.3 L718.5,667.0 L715.7,670.7 L712.9,674.4 L710.1,678.0 L707.1,681.5 L704.2,685.0 L701.1,688.4 L698.0,691.8 L694.9,695.1 L691.7,698.4 L688.4,701.6 L685.1,704.7 L681.8,707.8 L678.4,710.9 L674.9,713.9 L671.4,716.8 L667.9,719.6 L634.1,677.2 L636.9,674.9 L639.7,672.5 L642.4,670.1 L645.1,667.7 L647.8,665.2 L650.4,662.7 L653.0,660.1 L655.5,657.5 L658.0,654.8 L660.4,652.1 L662.8,649.3 L665.2,646.5 L667.5,643.7 L669.8,640.8 L672.0,637.9 L674.1,634.9 L676.3,631.9 L678.3,628.9 L680.3,625.8 L682.3,622.7 Z" fill="#004cff"/><path d="M667.9,719.6 L664.3,722.4 L660.6,725.2 L657.0,727.8 L653.2,730.5 L649.5,733.0 L645.6,735.5 L641.8,737.9 L637.9,740.2 L634.0,742.5 L630.0,744.7 L626.0,746.9 L622.0,749.0 L617.9,751.0 L613.8,752.9 L609.7,754.8 L605.6,756.6 L601.4,758.3 L597.2,760.0 L592.9,761.6 L588.7,763.1 L570.9,712.2 L574.3,710.9 L577.7,709.7 L581.1,708.3 L584.4,706.9 L587.7,705.5 L591.0,704.0 L594.3,702.4 L597.5,700.8 L600.7,699.1 L603.9,697.4 L607.1,695.6 L610.2,693.7 L613.3,691.9 L616.4,689.9 L619.4,687.9 L622.4,685.9 L625.4,683.8 L628.3,681.6 L631.2,679.4 L634.1,677.2 Z" fill="#004cff"/><path d="M588.7,763.1 L584.4,764.6 L580.1,765.9 L575.7,767.2 L571.4,768.5 L567.0,769.6 L562.6,770.7 L558.2,771.7 L553.8,772.6 L549.4,773.5 L544.9,774.3 L540.5,775.0 L536.0,775.7 L531.5,776.2 L527.0,776.7 L522.5,777.1 L518.0,777.5 L513.5,777.7 L509.0,777.9 L504.5,778.0 L500.0,778.1 L500.0,724.2 L503.6,724.2 L507.2,724.1 L510.8,724.0 L514.4,723.7 L518.0,723.5 L521.6,723.1 L525.2,722.7 L528.8,722.3 L532.4,721.8 L535.9,721.2 L539.5,720.6 L543.0,719.9 L546.6,719.1 L550.1,718.3 L553.6,717.4 L557.1,716.5 L560.6,715.5 L564.0,714.4 L567.5,713.3 L570.9,712.2 Z" fill="#004cff"/><path d="M500.0,778.1 L495.5,778.0 L491.0,777.9 L486.5,777.7 L482.0,777.5 L477.5,777.1 L473.0,776.7 L468.5,776.2 L464.0,775.7 L459.5,775.0 L455.1,774.3 L450.6,773.5 L446.2,772.6 L441.8,771.7 L437.4,770.7 L433.0,769.6 L428.6,768.5 L424.3,767.2 L419.9,765.9 L415.6,764.6 L411.3,763.1 L429.1,712.2 L432.5,713.3 L436.0,714.4 L439.4,715.5 L442.9,716.5 L446.4,717.4 L449.9,718.3 L453.4,719.1 L457.0,719.9 L460.5,720.6 L464.1,721.2 L467.6,721.8 L471.2,722.3 L474.8,722.7 L478.4,723.1 L482.0,723.5 L485.6,723.7 L489.2,724.0 L492.8,724.1 L496.4,724.2 L500.0,724.2 Z" fill="#004cff"/><path d="M411.3,763.1 L407.1,761.6 L402.8,760.0 L398.6,758.3 L394.4,756.6 L390.3,754.8 L386.2,752.9 L382.1,751.0 L378.0,749.0 L374.0,746.9 L370.0,744.7 L366.0,742.5 L362.1,740.2 L358.2,737.9 L354.4,735.5 L350.5,733.0 L346.8,730.5 L343.0,727.8 L339.4,725.2 L335.7,722.4 L332.1,719.6 L365.9,677.2 L368.8,679.4 L371.7,681.6 L374.6,683.8 L377.6,685.9 L380.6,687.9 L383.6,689.9 L386.7,691.9 L389.8,693.7 L392.9,695.6 L396.1,697.4 L399.3,699.1 L402.5,700.8 L405.7,702.4 L409.0,704.0 L412.3,705.5 L415.6,706.9 L418.9,708.3 L422.3,709.7 L425.7,710.9 L429.1,712.2 Z" fill="#004cff"/><path d="M332.1,719.6 L328.6,716.8 L325.1,713.9 L321.6,710.9 L318.2,707.8 L314.9,704.7 L311.6,701.6 L308.3,698.4 L305.1,695.1 L302.0,691.8 L298.9,688.4 L295.8,685.0 L292.9,681.5 L289.9,678.0 L287.1,674.4 L284.3,670.7 L281.5,667.0 L278.9,663.3 L276.2,659.5 L273.7,655.7 L271.2,651.8 L317.7,622.7 L319.7,625.8 L321.7,628.9 L323.7,631.9 L325.9,634.9 L328.0,637.9 L330.2,640.8 L332.5,643.7 L334.8,646.5 L337.2,649.3 L339.6,652.1 L342.0,654.8 L344.5,657.5 L347.0,660.1 L349.6,662.7 L352.2,665.2 L354.9,667.7 L357.6,670.1 L360.3,672.5 L363.1,674.9 L365.9,677.2 Z" fill="#00b0ff"/><path d="M271.2,651.8 L268.8,647.9 L266.4,643.9 L264.1,639.9 L261.9,635.9 L259.7,631.8 L257.6,627.7 L255.6,623.5 L253.7,619.3 L251.8,615.1 L250.0,610.8 L248.2,606.5 L246.6,602.2 L245.0,597.8 L243.5,593.4 L242.0,589.0 L240.7,584.5 L239.4,580.0 L238.2,575.5 L237.0,571.0 L236.0,566.5 L290.2,554.6 L291.0,558.2 L291.9,561.8 L292.8,565.4 L293.8,569.0 L294.9,572.5 L296.0,576.0 L297.2,579.6 L298.4,583.0 L299.7,586.5 L301.1,589.9 L302.5,593.3 L303.9,596.7 L305.5,600.1 L307.1,603.4 L308.7,606.7 L310.4,610.0 L312.1,613.2 L313.9,616.4 L315.8,619.6 L317.7,622.7 Z" fill="#29ffce"/><path d="M236.0,566.5 L235.0,561.9 L234.1,557.3 L233.2,552.7 L232.5,548.1 L231.8,543.4 L231.2,538.8 L230.7,534.1 L230.3,529.4 L230.0,524.7 L229.7,520.0 L229.5,515.3 L229.4,510.6 L229.4,505.9 L229.5,501.1 L229.6,496.4 L229.8,491.7 L230.1,486.9 L230.5,482.2 L231.0,477.5 L231.6,472.8 L287.5,480.2 L287.0,483.9 L286.6,487.7 L286.2,491.4 L285.9,495.2 L285.7,498.9 L285.6,502.7 L285.5,506.4 L285.5,510.2 L285.5,513.9 L285.6,517.6 L285.8,521.4 L286.0,525.1 L286.3,528.8 L286.7,532.5 L287.1,536.2 L287.6,539.9 L288.2,543.6 L288.8,547.3 L289.5,550.9 L290.2,554.6 Z" fill="#ceff29"/><path d="M231.6,472.8 L232.2,468.1 L232.9,463.4 L233.8,458.7 L234.7,454.0 L235.6,449.3 L236.7,444.7 L237.8,440.0 L239.1,435.4 L240.4,430.8 L241.8,426.2 L243.2,421.7 L244.8,417.1 L246.4,412.6 L248.1,408.1 L249.9,403.7 L251.8,399.2 L253.8,394.8 L255.8,390.5 L257.9,386.1 L260.1,381.8 L310.7,408.5 L309.0,411.9 L307.3,415.3 L305.6,418.7 L304.0,422.2 L302.5,425.7 L301.1,429.2 L299.7,432.7 L298.3,436.3 L297.1,439.9 L295.9,443.4 L294.8,447.1 L293.7,450.7 L292.7,454.3 L291.7,458.0 L290.9,461.7 L290.1,465.4 L289.3,469.1 L288.6,472.8 L288.0,476.5 L287.5,480.2 Z" fill="#ceff29"/><path d="M260.1,381.8 L262.4,377.6 L264.7,373.3 L267.1,369.1 L269.7,365.0 L272.2,360.9 L274.9,356.8 L277.6,352.8 L280.4,348.8 L283.3,344.9 L286.2,341.1 L289.3,337.2 L292.3,333.5 L295.5,329.7 L298.7,326.1 L302.0,322.5 L305.4,318.9 L308.8,315.5 L312.3,312.0 L315.9,308.7 L319.5,305.4 L358.0,348.6 L355.1,351.2 L352.3,353.8 L349.5,356.5 L346.8,359.2 L344.2,362.0 L341.5,364.8 L339.0,367.7 L336.5,370.6 L334.0,373.5 L331.6,376.5 L329.3,379.6 L327.0,382.6 L324.7,385.7 L322.6,388.9 L320.4,392.1 L318.4,395.3 L316.4,398.6 L314.4,401.8 L312.5,405.2 L310.7,408.5 Z" fill="#ceff29"/><path d="M319.5,305.4 L323.1,302.1 L326.9,298.9 L330.7,295.8 L334.5,292.8 L338.5,289.8 L342.4,286.9 L346.4,284.1 L350.5,281.3 L354.6,278.7 L358.8,276.1 L363.1,273.5 L367.3,271.1 L371.6,268.7 L376.0,266.4 L380.4,264.2 L384.9,262.0 L389.4,259.9 L393.9,258.0 L398.4,256.1 L403.0,254.3 L423.9,308.8 L420.3,310.3 L416.7,311.7 L413.1,313.3 L409.6,314.9 L406.1,316.5 L402.6,318.3 L399.2,320.1 L395.8,321.9 L392.4,323.8 L389.1,325.8 L385.8,327.8 L382.5,329.9 L379.3,332.1 L376.1,334.3 L373.0,336.5 L369.9,338.8 L366.9,341.2 L363.9,343.6 L360.9,346.1 L358.0,348.6 Z" fill="#7dff7a"/><path d="M403.0,254.3 L407.7,252.5 L412.3,250.9 L417.0,249.3 L421.8,247.8 L426.5,246.4 L431.3,245.1 L436.1,243.9 L440.9,242.8 L445.8,241.8 L450.7,240.8 L455.5,239.9 L460.4,239.2 L465.4,238.5 L470.3,237.9 L475.2,237.4 L480.2,237.0 L485.1,236.7 L490.1,236.4 L495.0,236.3 L500.0,236.3 L500.0,294.9 L496.1,294.9 L492.2,295.0 L488.3,295.2 L484.4,295.4 L480.6,295.8 L476.7,296.2 L472.8,296.6 L469.0,297.1 L465.1,297.7 L461.3,298.4 L457.5,299.1 L453.7,299.9 L449.9,300.8 L446.1,301.8 L442.3,302.8 L438.6,303.9 L434.9,305.0 L431.2,306.2 L427.5,307.5 L423.9,308.8 Z" fill="#29ffce"/><path d="M500.0,177.1 L505.8,177.1 L511.7,177.3 L517.5,177.5 L523.3,177.9 L529.1,178.4 L534.9,178.9 L540.7,179.6 L546.5,180.4 L552.2,181.3 L558.0,182.3 L563.7,183.3 L569.4,184.5 L575.1,185.8 L580.7,187.2 L586.3,188.7 L591.9,190.3 L597.5,192.0 L579.9,248.4 L575.4,247.0 L570.8,245.7 L566.2,244.5 L561.5,243.4 L556.9,242.3 L552.2,241.4 L547.5,240.5 L542.8,239.7 L538.1,239.0 L533.4,238.3 L528.6,237.8 L523.9,237.3 L519.1,236.9 L514.3,236.6 L509.6,236.4 L504.8,236.3 L500.0,236.3 Z" fill="#004cff"/><path d="M597.5,192.0 L603.0,193.8 L608.5,195.7 L614.0,197.6 L619.4,199.7 L624.8,201.9 L630.1,204.1 L635.4,206.5 L640.7,209.0 L645.9,211.5 L651.0,214.1 L656.2,216.9 L661.2,219.7 L666.2,222.6 L671.2,225.6 L676.0,228.6 L680.9,231.8 L685.6,235.0 L652.4,283.3 L648.5,280.7 L644.5,278.1 L640.5,275.6 L636.4,273.2 L632.3,270.9 L628.1,268.6 L623.9,266.4 L619.7,264.2 L615.4,262.1 L611.1,260.2 L606.8,258.2 L602.4,256.4 L597.9,254.6 L593.5,252.9 L589.0,251.3 L584.5,249.8 L579.9,248.4 Z" fill="#00b0ff"/><path d="M685.6,235.0 L690.4,238.4 L695.0,241.8 L699.6,245.2 L704.1,248.8 L708.6,252.4 L713.0,256.1 L717.3,259.9 L721.5,263.8 L725.7,267.7 L729.8,271.7 L733.8,275.8 L737.8,279.9 L741.7,284.1 L745.5,288.4 L749.2,292.7 L752.8,297.1 L756.4,301.5 L711.0,337.6 L708.1,333.9 L705.0,330.4 L701.9,326.8 L698.8,323.3 L695.6,319.9 L692.3,316.5 L688.9,313.2 L685.5,310.0 L682.1,306.8 L678.6,303.6 L675.0,300.5 L671.4,297.5 L667.7,294.5 L664.0,291.7 L660.2,288.8 L656.3,286.0 L652.4,283.3 Z" fill="#004cff"/><path d="M756.4,301.5 L759.9,306.0 L763.3,310.6 L766.6,315.2 L769.8,319.8 L773.0,324.6 L776.1,329.3 L779.0,334.1 L781.9,339.0 L784.7,343.9 L787.5,348.8 L790.1,353.8 L792.6,358.9 L795.1,363.9 L797.5,369.0 L799.7,374.2 L801.9,379.3 L804.0,384.6 L750.9,405.7 L749.1,401.4 L747.3,397.2 L745.4,392.9 L743.4,388.7 L741.3,384.6 L739.2,380.4 L737.0,376.4 L734.7,372.3 L732.3,368.3 L729.9,364.3 L727.4,360.3 L724.9,356.4 L722.2,352.6 L719.5,348.8 L716.8,345.0 L713.9,341.3 L711.0,337.6 Z" fill="#004cff"/><path d="M804.0,384.6 L806.0,389.8 L807.9,395.0 L809.7,400.3 L811.5,405.7 L813.1,411.0 L814.6,416.3 L816.1,421.7 L817.4,427.1 L818.7,432.5 L819.9,438.0 L821.0,443.4 L821.9,448.9 L822.8,454.3 L823.6,459.8 L824.3,465.3 L824.9,470.8 L825.5,476.3 L769.4,481.4 L768.9,476.8 L768.4,472.3 L767.7,467.7 L767.0,463.2 L766.2,458.7 L765.4,454.2 L764.5,449.7 L763.4,445.2 L762.4,440.8 L761.2,436.3 L759.9,431.9 L758.6,427.4 L757.2,423.1 L755.8,418.7 L754.2,414.3 L752.6,410.0 L750.9,405.7 Z" fill="#004cff"/><path d="M825.5,476.3 L825.9,481.8 L826.2,487.3 L826.4,492.8 L826.6,498.3 L826.6,503.8 L826.6,509.2 L826.5,514.7 L826.3,520.2 L825.9,525.7 L825.5,531.1 L825.0,536.5 L824.5,542.0 L823.8,547.4 L823.0,552.8 L822.2,558.1 L821.2,563.5 L820.2,568.8 L765.8,558.1 L766.6,553.7 L767.3,549.3 L768.0,544.8 L768.6,540.3 L769.1,535.8 L769.5,531.3 L769.9,526.8 L770.2,522.3 L770.4,517.7 L770.5,513.2 L770.6,508.7 L770.6,504.1 L770.5,499.6 L770.3,495.0 L770.1,490.5 L769.8,485.9 L769.4,481.4 Z" fill="#004cff"/><path d="M820.2,568.8 L819.1,574.1 L817.9,579.4 L816.6,584.7 L815.2,589.9 L813.8,595.1 L812.2,600.3 L810.6,605.4 L808.9,610.5 L807.1,615.6 L805.2,620.7 L803.3,625.7 L801.3,630.6 L799.2,635.6 L797.0,640.5 L794.7,645.3 L792.3,650.1 L789.9,654.9 L741.2,629.9 L743.2,625.9 L745.1,621.9 L747.0,617.9 L748.8,613.8 L750.5,609.7 L752.1,605.5 L753.7,601.3 L755.3,597.1 L756.7,592.9 L758.1,588.6 L759.4,584.3 L760.6,580.0 L761.8,575.7 L762.9,571.3 L763.9,567.0 L764.9,562.6 L765.8,558.1 Z" fill="#004cff"/><path d="M789.9,654.9 L787.4,659.6 L784.9,664.3 L782.2,669.0 L779.5,673.5 L776.7,678.1 L773.8,682.6 L770.9,687.0 L767.9,691.4 L764.8,695.7 L761.7,700.0 L758.5,704.2 L755.2,708.4 L751.9,712.5 L748.5,716.6 L745.0,720.6 L741.5,724.5 L737.9,728.4 L698.3,691.5 L701.3,688.2 L704.2,684.9 L707.1,681.6 L709.9,678.2 L712.6,674.7 L715.3,671.2 L718.0,667.7 L720.6,664.1 L723.1,660.5 L725.6,656.8 L728.0,653.1 L730.4,649.3 L732.7,645.5 L734.9,641.7 L737.1,637.8 L739.2,633.9 L741.2,629.9 Z" fill="#004cff"/><path d="M737.9,728.4 L734.2,732.2 L730.5,736.0 L726.8,739.7 L722.9,743.3 L719.1,746.9 L715.1,750.4 L711.1,753.8 L707.1,757.2 L703.0,760.5 L698.9,763.7 L694.7,766.9 L690.5,770.0 L686.2,773.0 L681.8,776.0 L677.5,778.9 L673.0,781.7 L668.6,784.4 L640.7,738.5 L644.5,736.2 L648.1,733.9 L651.8,731.4 L655.4,729.0 L658.9,726.4 L662.5,723.8 L666.0,721.1 L669.4,718.4 L672.8,715.6 L676.1,712.8 L679.5,709.9 L682.7,707.0 L685.9,704.0 L689.1,700.9 L692.2,697.8 L695.3,694.7 L698.3,691.5 Z" fill="#004cff"/><path d="M668.6,784.4 L664.1,787.1 L659.5,789.7 L654.9,792.2 L650.3,794.7 L645.7,797.0 L641.0,799.3 L636.2,801.5 L631.5,803.7 L626.7,805.8 L621.9,807.7 L617.0,809.7 L612.1,811.5 L607.2,813.2 L602.3,814.9 L597.3,816.5 L592.3,818.0 L587.3,819.5 L573.0,768.0 L577.2,766.8 L581.3,765.5 L585.5,764.2 L589.6,762.8 L593.7,761.3 L597.8,759.8 L601.8,758.2 L605.8,756.5 L609.8,754.7 L613.8,752.9 L617.7,751.1 L621.7,749.1 L625.5,747.1 L629.4,745.1 L633.2,743.0 L637.0,740.8 L640.7,738.5 Z" fill="#004cff"/><path d="M587.3,819.5 L582.3,820.8 L577.3,822.1 L572.2,823.3 L567.1,824.4 L562.0,825.4 L556.9,826.4 L551.8,827.2 L546.6,828.0 L541.5,828.7 L536.3,829.3 L531.1,829.9 L526.0,830.3 L520.8,830.7 L515.6,831.0 L510.4,831.2 L505.2,831.3 L500.0,831.4 L500.0,778.1 L504.3,778.0 L508.7,777.9 L513.0,777.7 L517.4,777.5 L521.7,777.2 L526.0,776.8 L530.4,776.4 L534.7,775.8 L539.0,775.2 L543.3,774.6 L547.6,773.8 L551.8,773.0 L556.1,772.2 L560.3,771.2 L564.6,770.2 L568.8,769.2 L573.0,768.0 Z" fill="#0000f1"/><path d="M500.0,831.4 L494.8,831.3 L489.6,831.2 L484.4,831.0 L479.2,830.7 L474.0,830.3 L468.9,829.9 L463.7,829.3 L458.5,828.7 L453.4,828.0 L448.2,827.2 L443.1,826.4 L438.0,825.4 L432.9,824.4 L427.8,823.3 L422.7,822.1 L417.7,820.8 L412.7,819.5 L427.0,768.0 L431.2,769.2 L435.4,770.2 L439.7,771.2 L443.9,772.2 L448.2,773.0 L452.4,773.8 L456.7,774.6 L461.0,775.2 L465.3,775.8 L469.6,776.4 L474.0,776.8 L478.3,777.2 L482.6,777.5 L487.0,777.7 L491.3,777.9 L495.7,778.0 L500.0,778.1 Z" fill="#0000f1"/><path d="M412.7,819.5 L407.7,818.0 L402.7,816.5 L397.7,814.9 L392.8,813.2 L387.9,811.5 L383.0,809.7 L378.1,807.7 L373.3,805.8 L368.5,803.7 L363.8,801.5 L359.0,799.3 L354.3,797.0 L349.7,794.7 L345.1,792.2 L340.5,789.7 L335.9,787.1 L331.4,784.4 L359.3,738.5 L363.0,740.8 L366.8,743.0 L370.6,745.1 L374.5,747.1 L378.3,749.1 L382.3,751.1 L386.2,752.9 L390.2,754.7 L394.2,756.5 L398.2,758.2 L402.2,759.8 L406.3,761.3 L410.4,762.8 L414.5,764.2 L418.7,765.5 L422.8,766.8 L427.0,768.0 Z" fill="#0000f1"/><path d="M331.4,784.4 L327.0,781.7 L322.5,778.9 L318.2,776.0 L313.8,773.0 L309.5,770.0 L305.3,766.9 L301.1,763.7 L297.0,760.5 L292.9,757.2 L288.9,753.8 L284.9,750.4 L280.9,746.9 L277.1,743.3 L273.2,739.7 L269.5,736.0 L265.8,732.2 L262.1,728.4 L301.7,691.5 L304.7,694.7 L307.8,697.8 L310.9,700.9 L314.1,704.0 L317.3,707.0 L320.5,709.9 L323.9,712.8 L327.2,715.6 L330.6,718.4 L334.0,721.1 L337.5,723.8 L341.1,726.4 L344.6,729.0 L348.2,731.4 L351.9,733.9 L355.5,736.2 L359.3,738.5 Z" fill="#0000f1"/><path d="M262.1,728.4 L258.5,724.5 L255.0,720.6 L251.5,716.6 L248.1,712.5 L244.8,708.4 L241.5,704.2 L238.3,700.0 L235.2,695.7 L232.1,691.4 L229.1,687.0 L226.2,682.6 L223.3,678.1 L220.5,673.5 L217.8,669.0 L215.1,664.3 L212.6,659.6 L210.1,654.9 L258.8,629.9 L260.8,633.9 L262.9,637.8 L265.1,641.7 L267.3,645.5 L269.6,649.3 L272.0,653.1 L274.4,656.8 L276.9,660.5 L279.4,664.1 L282.0,667.7 L284.7,671.2 L287.4,674.7 L290.1,678.2 L292.9,681.6 L295.8,684.9 L298.7,688.2 L301.7,691.5 Z" fill="#004cff"/><path d="M210.1,654.9 L207.7,650.1 L205.3,645.3 L203.0,640.5 L200.8,635.6 L198.7,630.6 L196.7,625.7 L194.8,620.7 L192.9,615.6 L191.1,610.5 L189.4,605.4 L187.8,600.3 L186.2,595.1 L184.8,589.9 L183.4,584.7 L182.1,579.4 L180.9,574.1 L179.8,568.8 L234.2,558.1 L235.1,562.6 L236.1,567.0 L237.1,571.3 L238.2,575.7 L239.4,580.0 L240.6,584.3 L241.9,588.6 L243.3,592.9 L244.7,597.1 L246.3,601.3 L247.9,605.5 L249.5,609.7 L251.2,613.8 L253.0,617.9 L254.9,621.9 L256.8,625.9 L258.8,629.9 Z" fill="#00b0ff"/><path d="M179.8,568.8 L178.8,563.5 L177.8,558.1 L177.0,552.8 L176.2,547.4 L175.5,542.0 L175.0,536.5 L174.5,531.1 L174.1,525.7 L173.7,520.2 L173.5,514.7 L173.4,509.2 L173.4,503.8 L173.4,498.3 L173.6,492.8 L173.8,487.3 L174.1,481.8 L174.5,476.3 L230.6,481.4 L230.2,485.9 L229.9,490.5 L229.7,495.0 L229.5,499.6 L229.4,504.1 L229.4,508.7 L229.5,513.2 L229.6,517.7 L229.8,522.3 L230.1,526.8 L230.5,531.3 L230.9,535.8 L231.4,540.3 L232.0,544.8 L232.7,549.3 L233.4,553.7 L234.2,558.1 Z" fill="#7dff7a"/><path d="M174.5,476.3 L175.1,470.8 L175.7,465.3 L176.4,459.8 L177.2,454.3 L178.1,448.9 L179.0,443.4 L180.1,438.0 L181.3,432.5 L182.6,427.1 L183.9,421.7 L185.4,416.3 L186.9,411.0 L188.5,405.7 L190.3,400.3 L192.1,395.0 L194.0,389.8 L196.0,384.6 L249.1,405.7 L247.4,410.0 L245.8,414.3 L244.2,418.7 L242.8,423.1 L241.4,427.4 L240.1,431.9 L238.8,436.3 L237.6,440.8 L236.6,445.2 L235.5,449.7 L234.6,454.2 L233.8,458.7 L233.0,463.2 L232.3,467.7 L231.6,472.3 L231.1,476.8 L230.6,481.4 Z" fill="#7dff7a"/><path d="M196.0,384.6 L198.1,379.3 L200.3,374.2 L202.5,369.0 L204.9,363.9 L207.4,358.9 L209.9,353.8 L212.5,348.8 L215.3,343.9 L218.1,339.0 L221.0,334.1 L223.9,329.3 L227.0,324.6 L230.2,319.8 L233.4,315.2 L236.7,310.6 L240.1,306.0 L243.6,301.5 L289.0,337.6 L286.1,341.3 L283.2,345.0 L280.5,348.8 L277.8,352.6 L275.1,356.4 L272.6,360.3 L270.1,364.3 L267.7,368.3 L265.3,372.3 L263.0,376.4 L260.8,380.4 L258.7,384.6 L256.6,388.7 L254.6,392.9 L252.7,397.2 L250.9,401.4 L249.1,405.7 Z" fill="#7dff7a"/><path d="M243.6,301.5 L247.2,297.1 L250.8,292.7 L254.5,288.4 L258.3,284.1 L262.2,279.9 L266.2,275.8 L270.2,271.7 L274.3,267.7 L278.5,263.8 L282.7,259.9 L287.0,256.1 L291.4,252.4 L295.9,248.8 L300.4,245.2 L305.0,241.8 L309.6,238.4 L314.4,235.0 L347.6,283.3 L343.7,286.0 L339.8,288.8 L336.0,291.7 L332.3,294.5 L328.6,297.5 L325.0,300.5 L321.4,303.6 L317.9,306.8 L314.5,310.0 L311.1,313.2 L307.7,316.5 L304.4,319.9 L301.2,323.3 L298.1,326.8 L295.0,330.4 L291.9,333.9 L289.0,337.6 Z" fill="#7dff7a"/><path d="M314.4,235.0 L319.1,231.8 L324.0,228.6 L328.8,225.6 L333.8,222.6 L338.8,219.7 L343.8,216.9 L349.0,214.1 L354.1,211.5 L359.3,209.0 L364.6,206.5 L369.9,204.1 L375.2,201.9 L380.6,199.7 L386.0,197.6 L391.5,195.7 L397.0,193.8 L402.5,192.0 L420.1,248.4 L415.5,249.8 L411.0,251.3 L406.5,252.9 L402.1,254.6 L397.6,256.4 L393.2,258.2 L388.9,260.2 L384.6,262.1 L380.3,264.2 L376.1,266.4 L371.9,268.6 L367.7,270.9 L363.6,273.2 L359.5,275.6 L355.5,278.1 L351.5,280.7 L347.6,283.3 Z" fill="#29ffce"/><path d="M402.5,192.0 L408.1,190.3 L413.7,188.7 L419.3,187.2 L424.9,185.8 L430.6,184.5 L436.3,183.3 L442.0,182.3 L447.8,181.3 L453.5,180.4 L459.3,179.6 L465.1,178.9 L470.9,178.4 L476.7,177.9 L482.5,177.5 L488.3,177.3 L494.2,177.1 L500.0,177.1 L500.0,236.3 L495.2,236.3 L490.4,236.4 L485.7,236.6 L480.9,236.9 L476.1,237.3 L471.4,237.8 L466.6,238.3 L461.9,239.0 L457.2,239.7 L452.5,240.5 L447.8,241.4 L443.1,242.3 L438.5,243.4 L433.8,244.5 L429.2,245.7 L424.6,247.0 L420.1,248.4 Z" fill="#29ffce"/><path d="M500.0,474.3 L500.7,474.3 L501.4,474.3 L502.1,474.3 L502.8,474.4 L503.4,474.4 L504.1,474.5 L504.8,474.6 L505.5,474.7 L506.2,474.8 L506.8,474.9 L507.5,475.0 L508.2,475.2 L508.9,475.3 L509.5,475.5 L510.2,475.6 L510.9,475.8 L511.5,476.0 L512.2,476.2 L512.8,476.5 L513.5,476.7 L514.1,476.9 L514.8,477.2 L515.4,477.4 L516.0,477.7 L516.7,478.0 L517.3,478.3 L517.9,478.6 L518.5,478.9 L519.1,479.3 L519.7,479.6 L520.3,480.0 L520.9,480.3 L521.5,480.7 L522.0,481.1 L522.6,481.5 L523.2,481.9 L523.7,482.3 L524.3,482.7 L524.8,483.1 L525.3,483.6 L525.8,484.0 L526.3,484.5 L526.9,484.9 L527.3,485.4 L527.8,485.9 L528.3,486.4 L528.8,486.9 L529.2,487.4 L529.7,487.9 L530.1,488.4 L530.6,489.0 L531.0,489.5 L531.4,490.1 L531.8,490.6 L532.2,491.2 L532.6,491.7 L533.0,492.3 L533.3,492.9 L533.7,493.5 L534.0,494.1 L534.4,494.7 L534.7,495.3 L535.0,495.9 L535.3,496.5 L535.6,497.1 L535.9,497.8 L536.2,498.4 L536.4,499.0 L536.7,499.7 L536.9,500.3 L537.1,501.0 L537.3,501.6 L537.5,502.3 L537.7,502.9 L537.9,503.6 L538.1,504.2 L538.2,504.9 L538.4,505.6 L538.5,506.3 L538.6,506.9 L538.7,507.6 L538.8,508.3 L538.9,509.0 L539.0,509.6 L539.0,510.3 L539.1,511.0 L539.1,511.7 L539.2,512.4 L539.2,513.1 L539.2,513.7 L539.2,514.4 L539.1,515.1 L539.1,515.8 L539.1,516.5 L539.0,517.1 L538.9,517.8 L538.9,518.5 L538.8,519.2 L538.7,519.9 L538.5,520.5 L538.4,521.2 L538.3,521.9 L538.1,522.5 L537.9,523.2 L537.8,523.9 L537.6,524.5 L537.4,525.2 L537.2,525.8 L537.0,526.5 L536.7,527.1 L536.5,527.7 L536.2,528.4 L536.0,529.0 L535.7,529.6 L535.4,530.2 L535.1,530.9 L534.8,531.5 L534.5,532.1 L534.1,532.7 L533.8,533.3 L533.5,533.8 L533.1,534.4 L532.7,535.0 L532.4,535.6 L532.0,536.1 L531.6,536.7 L531.2,537.2 L530.7,537.8 L530.3,538.3 L529.9,538.8 L529.4,539.3 L529.0,539.8 L528.5,540.3 L528.0,540.8 L527.6,541.3 L527.1,541.8 L526.6,542.2 L526.1,542.7 L525.6,543.1 L525.1,543.6 L524.5,544.0 L524.0,544.4 L523.4,544.8 L522.9,545.3 L522.3,545.6 L521.8,546.0 L521.2,546.4 L520.6,546.8 L520.1,547.1 L519.5,547.5 L518.9,547.8 L518.3,548.1 L517.7,548.4 L517.1,548.7 L516.5,549.0 L515.8,549.3 L515.2,549.6 L514.6,549.8 L514.0,550.1 L513.3,550.3 L512.7,550.5 L512.0,550.7 L511.4,551.0 L510.7,551.1 L510.1,551.3 L509.4,551.5 L508.8,551.7 L508.1,551.8 L507.4,551.9 L506.8,552.1 L506.1,552.2 L505.4,552.3 L504.7,552.4 L504.1,552.4 L503.4,552.5 L502.7,552.5 L502.0,552.6 L501.4,552.6 L500.7,552.6 L500.0,552.6 L499.3,552.6 L498.6,552.6 L498.0,552.6 L497.3,552.5 L496.6,552.5 L495.9,552.4 L495.3,552.4 L494.6,552.3 L493.9,552.2 L493.2,552.1 L492.6,551.9 L491.9,551.8 L491.2,551.7 L490.6,551.5 L489.9,551.3 L489.3,551.1 L488.6,551.0 L488.0,550.7 L487.3,550.5 L486.7,550.3 L486.0,550.1 L485.4,549.8 L484.8,549.6 L484.2,549.3 L483.5,549.0 L482.9,548.7 L482.3,548.4 L481.7,548.1 L481.1,547.8 L480.5,547.5 L479.9,547.1 L479.4,546.8 L478.8,546.4 L478.2,546.0 L477.7,545.6 L477.1,545.3 L476.6,544.8 L476.0,544.4 L475.5,544.0 L474.9,543.6 L474.4,543.1 L473.9,542.7 L473.4,542.2 L472.9,541.8 L472.4,541.3 L472.0,540.8 L471.5,540.3 L471.0,539.8 L470.6,539.3 L470.1,538.8 L469.7,538.3 L469.3,537.8 L468.8,537.2 L468.4,536.7 L468.0,536.1 L467.6,535.6 L467.3,535.0 L466.9,534.4 L466.5,533.8 L466.2,533.3 L465.9,532.7 L465.5,532.1 L465.2,531.5 L464.9,530.9 L464.6,530.2 L464.3,529.6 L464.0,529.0 L463.8,528.4 L463.5,527.7 L463.3,527.1 L463.0,526.5 L462.8,525.8 L462.6,525.2 L462.4,524.5 L462.2,523.9 L462.1,523.2 L461.9,522.5 L461.7,521.9 L461.6,521.2 L461.5,520.5 L461.3,519.9 L461.2,519.2 L461.1,518.5 L461.1,517.8 L461.0,517.1 L460.9,516.5 L460.9,515.8 L460.9,515.1 L460.8,514.4 L460.8,513.7 L460.8,513.1 L460.8,512.4 L460.9,511.7 L460.9,511.0 L461.0,510.3 L461.0,509.6 L461.1,509.0 L461.2,508.3 L461.3,507.6 L461.4,506.9 L461.5,506.3 L461.6,505.6 L461.8,504.9 L461.9,504.2 L462.1,503.6 L462.3,502.9 L462.5,502.3 L462.7,501.6 L462.9,501.0 L463.1,500.3 L463.3,499.7 L463.6,499.0 L463.8,498.4 L464.1,497.8 L464.4,497.1 L464.7,496.5 L465.0,495.9 L465.3,495.3 L465.6,494.7 L466.0,494.1 L466.3,493.5 L466.7,492.9 L467.0,492.3 L467.4,491.7 L467.8,491.2 L468.2,490.6 L468.6,490.1 L469.0,489.5 L469.4,489.0 L469.9,488.4 L470.3,487.9 L470.8,487.4 L471.2,486.9 L471.7,486.4 L472.2,485.9 L472.7,485.4 L473.1,484.9 L473.7,484.5 L474.2,484.0 L474.7,483.6 L475.2,483.1 L475.7,482.7 L476.3,482.3 L476.8,481.9 L477.4,481.5 L478.0,481.1 L478.5,480.7 L479.1,480.3 L479.7,480.0 L480.3,479.6 L480.9,479.3 L481.5,478.9 L482.1,478.6 L482.7,478.3 L483.3,478.0 L484.0,477.7 L484.6,477.4 L485.2,477.2 L485.9,476.9 L486.5,476.7 L487.2,476.5 L487.8,476.2 L488.5,476.0 L489.1,475.8 L489.8,475.6 L490.5,475.5 L491.1,475.3 L491.8,475.2 L492.5,475.0 L493.2,474.9 L493.8,474.8 L494.5,474.7 L495.2,474.6 L495.9,474.5 L496.6,474.4 L497.2,474.4 L497.9,474.3 L498.6,474.3 L499.3,474.3 Z" fill="#800000"/></g>
<path d="M500.0,474.3 L500.7,474.3 L501.4,474.3 L502.1,474.3 L502.8,474.4 L503.4,474.4 L504.1,474.5 L504.8,474.6 L505.5,474.7 L506.2,474.8 L506.8,474.9 L507.5,475.0 L508.2,475.2 L508.9,475.3 L509.5,475.5 L510.2,475.6 L510.9,475.8 L511.5,476.0 L512.2,476.2 L512.8,476.5 L513.5,476.7 L514.1,476.9 L514.8,477.2 L515.4,477.4 L516.0,477.7 L516.7,478.0 L517.3,478.3 L517.9,478.6 L518.5,478.9 L519.1,479.3 L519.7,479.6 L520.3,480.0 L520.9,480.3 L521.5,480.7 L522.0,481.1 L522.6,481.5 L523.2,481.9 L523.7,482.3 L524.3,482.7 L524.8,483.1 L525.3,483.6 L525.8,484.0 L526.3,484.5 L526.9,484.9 L527.3,485.4 L527.8,485.9 L528.3,486.4 L528.8,486.9 L529.2,487.4 L529.7,487.9 L530.1,488.4 L530.6,489.0 L531.0,489.5 L531.4,490.1 L531.8,490.6 L532.2,491.2 L532.6,491.7 L533.0,492.3 L533.3,492.9 L533.7,493.5 L534.0,494.1 L534.4,494.7 L534.7,495.3 L535.0,495.9 L535.3,496.5 L535.6,497.1 L535.9,497.8 L536.2,498.4 L536.4,499.0 L536.7,499.7 L536.9,500.3 L537.1,501.0 L537.3,501.6 L537.5,502.3 L537.7,502.9 L537.9,503.6 L538.1,504.2 L538.2,504.9 L538.4,505.6 L538.5,506.3 L538.6,506.9 L538.7,507.6 L538.8,508.3 L538.9,509.0 L539.0,509.6 L539.0,510.3 L539.1,511.0 L539.1,511.7 L539.2,512.4 L539.2,513.1 L539.2,513.7 L539.2,514.4 L539.1,515.1 L539.1,515.8 L539.1,516.5 L539.0,517.1 L538.9,517.8 L538.9,518.5 L538.8,519.2 L538.7,519.9 L538.5,520.5 L538.4,521.2 L538.3,521.9 L538.1,522.5 L537.9,523.2 L537.8,523.9 L537.6,524.5 L537.4,525.2 L537.2,525.8 L537.0,526.5 L536.7,527.1 L536.5,527.7 L536.2,528.4 L536.0,529.0 L535.7,529.6 L535.4,530.2 L535.1,530.9 L534.8,531.5 L534.5,532.1 L534.1,532.7 L533.8,533.3 L533.5,533.8 L533.1,534.4 L532.7,535.0 L532.4,535.6 L532.0,536.1 L531.6,536.7 L531.2,537.2 L530.7,537.8 L530.3,538.3 L529.9,538.8 L529.4,539.3 L529.0,539.8 L528.5,540.3 L528.0,540.8 L527.6,541.3 L527.1,541.8 L526.6,542.2 L526.1,542.7 L525.6,543.1 L525.1,543.6 L524.5,544.0 L524.0,544.4 L523.4,544.8 L522.9,545.3 L522.3,545.6 L521.8,546.0 L521.2,546.4 L520.6,546.8 L520.1,547.1 L519.5,547.5 L518.9,547.8 L518.3,548.1 L517.7,548.4 L517.1,548.7 L516.5,549.0 L515.8,549.3 L515.2,549.6 L514.6,549.8 L514.0,550.1 L513.3,550.3 L512.7,550.5 L512.0,550.7 L511.4,551.0 L510.7,551.1 L510.1,551.3 L509.4,551.5 L508.8,551.7 L508.1,551.8 L507.4,551.9 L506.8,552.1 L506.1,552.2 L505.4,552.3 L504.7,552.4 L504.1,552.4 L503.4,552.5 L502.7,552.5 L502.0,552.6 L501.4,552.6 L500.7,552.6 L500.0,552.6 L499.3,552.6 L498.6,552.6 L498.0,552.6 L497.3,552.5 L496.6,552.5 L495.9,552.4 L495.3,552.4 L494.6,552.3 L493.9,552.2 L493.2,552.1 L492.6,551.9 L491.9,551.8 L491.2,551.7 L490.6,551.5 L489.9,551.3 L489.3,551.1 L488.6,551.0 L488.0,550.7 L487.3,550.5 L486.7,550.3 L486.0,550.1 L485.4,549.8 L484.8,549.6 L484.2,549.3 L483.5,549.0 L482.9,548.7 L482.3,548.4 L481.7,548.1 L481.1,547.8 L480.5,547.5 L479.9,547.1 L479.4,546.8 L478.8,546.4 L478.2,546.0 L477.7,545.6 L477.1,545.3 L476.6,544.8 L476.0,544.4 L475.5,544.0 L474.9,543.6 L474.4,543.1 L473.9,542.7 L473.4,542.2 L472.9,541.8 L472.4,541.3 L472.0,540.8 L471.5,540.3 L471.0,539.8 L470.6,539.3 L470.1,538.8 L469.7,538.3 L469.3,537.8 L468.8,537.2 L468.4,536.7 L468.0,536.1 L467.6,535.6 L467.3,535.0 L466.9,534.4 L466.5,533.8 L466.2,533.3 L465.9,532.7 L465.5,532.1 L465.2,531.5 L464.9,530.9 L464.6,530.2 L464.3,529.6 L464.0,529.0 L463.8,528.4 L463.5,527.7 L463.3,527.1 L463.0,526.5 L462.8,525.8 L462.6,525.2 L462.4,524.5 L462.2,523.9 L462.1,523.2 L461.9,522.5 L461.7,521.9 L461.6,521.2 L461.5,520.5 L461.3,519.9 L461.2,519.2 L461.1,518.5 L461.1,517.8 L461.0,517.1 L460.9,516.5 L460.9,515.8 L460.9,515.1 L460.8,514.4 L460.8,513.7 L460.8,513.1 L460.8,512.4 L460.9,511.7 L460.9,511.0 L461.0,510.3 L461.0,509.6 L461.1,509.0 L461.2,508.3 L461.3,507.6 L461.4,506.9 L461.5,506.3 L461.6,505.6 L461.8,504.9 L461.9,504.2 L462.1,503.6 L462.3,502.9 L462.5,502.3 L462.7,501.6 L462.9,501.0 L463.1,500.3 L463.3,499.7 L463.6,499.0 L463.8,498.4 L464.1,497.8 L464.4,497.1 L464.7,496.5 L465.0,495.9 L465.3,495.3 L465.6,494.7 L466.0,494.1 L466.3,493.5 L466.7,492.9 L467.0,492.3 L467.4,491.7 L467.8,491.2 L468.2,490.6 L468.6,490.1 L469.0,489.5 L469.4,489.0 L469.9,488.4 L470.3,487.9 L470.8,487.4 L471.2,486.9 L471.7,486.4 L472.2,485.9 L472.7,485.4 L473.1,484.9 L473.7,484.5 L474.2,484.0 L474.7,483.6 L475.2,483.1 L475.7,482.7 L476.3,482.3 L476.8,481.9 L477.4,481.5 L478.0,481.1 L478.5,480.7 L479.1,480.3 L479.7,480.0 L480.3,479.6 L480.9,479.3 L481.5,478.9 L482.1,478.6 L482.7,478.3 L483.3,478.0 L484.0,477.7 L484.6,477.4 L485.2,477.2 L485.9,476.9 L486.5,476.7 L487.2,476.5 L487.8,476.2 L488.5,476.0 L489.1,475.8 L489.8,475.6 L490.5,475.5 L491.1,475.3 L491.8,475.2 L492.5,475.0 L493.2,474.9 L493.8,474.8 L494.5,474.7 L495.2,474.6 L495.9,474.5 L496.6,474.4 L497.2,474.4 L497.9,474.3 L498.6,474.3 L499.3,474.3 Z M500.0,410.8 L501.8,410.8 L503.6,410.9 L505.4,411.0 L507.2,411.1 L509.0,411.2 L510.8,411.4 L512.6,411.6 L514.4,411.8 L516.2,412.1 L518.0,412.4 L519.8,412.8 L521.6,413.1 L523.3,413.5 L525.1,414.0 L526.8,414.4 L528.6,414.9 L530.3,415.4 L532.0,416.0 L533.7,416.6 L535.4,417.2 L537.1,417.8 L538.8,418.5 L540.5,419.2 L542.1,419.9 L543.8,420.7 L545.4,421.5 L547.0,422.3 L548.6,423.2 L550.2,424.0 L551.7,424.9 L553.3,425.9 L554.8,426.8 L556.3,427.8 L557.8,428.8 L559.3,429.9 L560.8,430.9 L562.2,432.0 L563.6,433.1 L565.0,434.3 L566.4,435.4 L567.7,436.6 L569.1,437.8 L570.4,439.1 L571.7,440.3 L572.9,441.6 L574.2,442.9 L575.4,444.2 L576.6,445.6 L577.8,446.9 L578.9,448.3 L580.1,449.7 L581.2,451.1 L582.2,452.6 L583.3,454.0 L584.3,455.5 L585.3,457.0 L586.3,458.5 L587.2,460.0 L588.1,461.6 L589.0,463.1 L589.9,464.7 L590.7,466.3 L591.5,467.9 L592.3,469.5 L593.0,471.2 L593.7,472.8 L594.4,474.4 L595.1,476.1 L595.7,477.8 L596.3,479.5 L596.9,481.2 L597.4,482.9 L597.9,484.6 L598.4,486.3 L598.8,488.0 L599.3,489.8 L599.6,491.5 L600.0,493.3 L600.3,495.0 L600.6,496.8 L600.9,498.5 L601.1,500.3 L601.3,502.1 L601.5,503.8 L601.6,505.6 L601.7,507.4 L601.8,509.2 L601.8,511.0 L601.9,512.7 L601.8,514.5 L601.8,516.3 L601.7,518.1 L601.6,519.8 L601.5,521.6 L601.3,523.4 L601.1,525.1 L600.9,526.9 L600.6,528.6 L600.3,530.4 L600.0,532.1 L599.6,533.9 L599.3,535.6 L598.8,537.3 L598.4,539.0 L597.9,540.7 L597.4,542.4 L596.9,544.1 L596.3,545.8 L595.7,547.5 L595.1,549.1 L594.5,550.8 L593.8,552.4 L593.1,554.0 L592.4,555.6 L591.6,557.2 L590.8,558.8 L590.0,560.4 L589.2,561.9 L588.3,563.4 L587.4,565.0 L586.5,566.5 L585.6,568.0 L584.6,569.4 L583.6,570.9 L582.6,572.3 L581.5,573.7 L580.5,575.1 L579.4,576.5 L578.3,577.9 L577.1,579.2 L576.0,580.5 L574.8,581.8 L573.6,583.1 L572.4,584.4 L571.1,585.6 L569.9,586.8 L568.6,588.0 L567.3,589.2 L565.9,590.3 L564.6,591.5 L563.2,592.6 L561.8,593.6 L560.4,594.7 L559.0,595.7 L557.6,596.7 L556.1,597.7 L554.7,598.7 L553.2,599.6 L551.7,600.5 L550.2,601.4 L548.6,602.2 L547.1,603.0 L545.5,603.8 L544.0,604.6 L542.4,605.3 L540.8,606.0 L539.2,606.7 L537.5,607.4 L535.9,608.0 L534.3,608.6 L532.6,609.2 L531.0,609.7 L529.3,610.3 L527.6,610.8 L525.9,611.2 L524.2,611.6 L522.5,612.0 L520.8,612.4 L519.1,612.8 L517.4,613.1 L515.7,613.4 L513.9,613.6 L512.2,613.8 L510.5,614.0 L508.7,614.2 L507.0,614.3 L505.2,614.4 L503.5,614.5 L501.7,614.5 L500.0,614.6 L498.3,614.5 L496.5,614.5 L494.8,614.4 L493.0,614.3 L491.3,614.2 L489.5,614.0 L487.8,613.8 L486.1,613.6 L484.3,613.4 L482.6,613.1 L480.9,612.8 L479.2,612.4 L477.5,612.0 L475.8,611.6 L474.1,611.2 L472.4,610.8 L470.7,610.3 L469.0,609.7 L467.4,609.2 L465.7,608.6 L464.1,608.0 L462.5,607.4 L460.8,606.7 L459.2,606.0 L457.6,605.3 L456.0,604.6 L454.5,603.8 L452.9,603.0 L451.4,602.2 L449.8,601.4 L448.3,600.5 L446.8,599.6 L445.3,598.7 L443.9,597.7 L442.4,596.7 L441.0,595.7 L439.6,594.7 L438.2,593.6 L436.8,592.6 L435.4,591.5 L434.1,590.3 L432.7,589.2 L431.4,588.0 L430.1,586.8 L428.9,585.6 L427.6,584.4 L426.4,583.1 L425.2,581.8 L424.0,580.5 L422.9,579.2 L421.7,577.9 L420.6,576.5 L419.5,575.1 L418.5,573.7 L417.4,572.3 L416.4,570.9 L415.4,569.4 L414.4,568.0 L413.5,566.5 L412.6,565.0 L411.7,563.4 L410.8,561.9 L410.0,560.4 L409.2,558.8 L408.4,557.2 L407.6,555.6 L406.9,554.0 L406.2,552.4 L405.5,550.8 L404.9,549.1 L404.3,547.5 L403.7,545.8 L403.1,544.1 L402.6,542.4 L402.1,540.7 L401.6,539.0 L401.2,537.3 L400.7,535.6 L400.4,533.9 L400.0,532.1 L399.7,530.4 L399.4,528.6 L399.1,526.9 L398.9,525.1 L398.7,523.4 L398.5,521.6 L398.4,519.8 L398.3,518.1 L398.2,516.3 L398.2,514.5 L398.1,512.7 L398.2,511.0 L398.2,509.2 L398.3,507.4 L398.4,505.6 L398.5,503.8 L398.7,502.1 L398.9,500.3 L399.1,498.5 L399.4,496.8 L399.7,495.0 L400.0,493.3 L400.4,491.5 L400.7,489.8 L401.2,488.0 L401.6,486.3 L402.1,484.6 L402.6,482.9 L403.1,481.2 L403.7,479.5 L404.3,477.8 L404.9,476.1 L405.6,474.4 L406.3,472.8 L407.0,471.2 L407.7,469.5 L408.5,467.9 L409.3,466.3 L410.1,464.7 L411.0,463.1 L411.9,461.6 L412.8,460.0 L413.7,458.5 L414.7,457.0 L415.7,455.5 L416.7,454.0 L417.8,452.6 L418.8,451.1 L419.9,449.7 L421.1,448.3 L422.2,446.9 L423.4,445.6 L424.6,444.2 L425.8,442.9 L427.1,441.6 L428.3,440.3 L429.6,439.1 L430.9,437.8 L432.3,436.6 L433.6,435.4 L435.0,434.3 L436.4,433.1 L437.8,432.0 L439.2,430.9 L440.7,429.9 L442.2,428.8 L443.7,427.8 L445.2,426.8 L446.7,425.9 L448.3,424.9 L449.8,424.0 L451.4,423.2 L453.0,422.3 L454.6,421.5 L456.2,420.7 L457.9,419.9 L459.5,419.2 L461.2,418.5 L462.9,417.8 L464.6,417.2 L466.3,416.6 L468.0,416.0 L469.7,415.4 L471.4,414.9 L473.2,414.4 L474.9,414.0 L476.7,413.5 L478.4,413.1 L480.2,412.8 L482.0,412.4 L483.8,412.1 L485.6,411.8 L487.4,411.6 L489.2,411.4 L491.0,411.2 L492.8,411.1 L494.6,411.0 L496.4,410.9 L498.2,410.8 Z M500.0,353.0 L502.8,353.0 L505.7,353.1 L508.5,353.2 L511.4,353.4 L514.2,353.6 L517.0,353.9 L519.9,354.2 L522.7,354.6 L525.5,355.1 L528.3,355.5 L531.1,356.1 L533.9,356.7 L536.6,357.3 L539.4,358.0 L542.1,358.7 L544.9,359.5 L547.6,360.3 L550.3,361.2 L553.0,362.1 L555.6,363.1 L558.3,364.1 L560.9,365.2 L563.5,366.3 L566.1,367.4 L568.7,368.7 L571.2,369.9 L573.7,371.2 L576.2,372.5 L578.7,373.9 L581.1,375.4 L583.6,376.8 L586.0,378.4 L588.3,379.9 L590.6,381.5 L593.0,383.2 L595.2,384.8 L597.5,386.6 L599.7,388.3 L601.9,390.1 L604.0,391.9 L606.1,393.8 L608.2,395.7 L610.2,397.7 L612.2,399.7 L614.2,401.7 L616.1,403.7 L618.0,405.8 L619.9,407.9 L621.7,410.1 L623.5,412.2 L625.2,414.5 L626.9,416.7 L628.6,419.0 L630.2,421.3 L631.8,423.6 L633.3,425.9 L634.8,428.3 L636.3,430.7 L637.7,433.1 L639.0,435.6 L640.4,438.1 L641.6,440.5 L642.9,443.1 L644.0,445.6 L645.2,448.2 L646.3,450.7 L647.3,453.3 L648.3,455.9 L649.3,458.5 L650.2,461.2 L651.0,463.8 L651.9,466.5 L652.6,469.2 L653.3,471.9 L654.0,474.6 L654.6,477.3 L655.2,480.0 L655.7,482.7 L656.2,485.5 L656.6,488.2 L657.0,490.9 L657.4,493.7 L657.6,496.5 L657.9,499.2 L658.1,502.0 L658.2,504.7 L658.3,507.5 L658.4,510.3 L658.3,513.0 L658.3,515.8 L658.2,518.6 L658.0,521.3 L657.8,524.1 L657.6,526.8 L657.3,529.6 L657.0,532.3 L656.6,535.0 L656.2,537.7 L655.7,540.4 L655.1,543.1 L654.6,545.8 L654.0,548.5 L653.3,551.2 L652.6,553.8 L651.8,556.4 L651.0,559.1 L650.2,561.7 L649.3,564.3 L648.3,566.8 L647.4,569.4 L646.3,571.9 L645.3,574.4 L644.2,576.9 L643.0,579.4 L641.8,581.9 L640.6,584.3 L639.3,586.7 L638.0,589.1 L636.6,591.5 L635.2,593.8 L633.8,596.1 L632.3,598.4 L630.8,600.7 L629.3,602.9 L627.7,605.1 L626.0,607.3 L624.4,609.4 L622.7,611.6 L620.9,613.7 L619.2,615.7 L617.4,617.7 L615.5,619.7 L613.7,621.7 L611.8,623.6 L609.8,625.5 L607.8,627.4 L605.8,629.2 L603.8,631.0 L601.8,632.8 L599.7,634.5 L597.6,636.2 L595.4,637.8 L593.2,639.4 L591.0,641.0 L588.8,642.5 L586.6,644.0 L584.3,645.5 L582.0,646.9 L579.7,648.3 L577.3,649.6 L575.0,650.9 L572.6,652.2 L570.2,653.4 L567.7,654.6 L565.3,655.7 L562.8,656.8 L560.3,657.9 L557.8,658.9 L555.3,659.8 L552.8,660.7 L550.2,661.6 L547.7,662.5 L545.1,663.2 L542.5,664.0 L539.9,664.7 L537.3,665.3 L534.7,666.0 L532.1,666.5 L529.4,667.1 L526.8,667.5 L524.1,668.0 L521.5,668.3 L518.8,668.7 L516.1,669.0 L513.4,669.2 L510.8,669.4 L508.1,669.6 L505.4,669.7 L502.7,669.8 L500.0,669.8 L497.3,669.8 L494.6,669.7 L491.9,669.6 L489.2,669.4 L486.6,669.2 L483.9,669.0 L481.2,668.7 L478.5,668.3 L475.9,668.0 L473.2,667.5 L470.6,667.1 L467.9,666.5 L465.3,666.0 L462.7,665.3 L460.1,664.7 L457.5,664.0 L454.9,663.2 L452.3,662.5 L449.8,661.6 L447.2,660.7 L444.7,659.8 L442.2,658.9 L439.7,657.9 L437.2,656.8 L434.7,655.7 L432.3,654.6 L429.8,653.4 L427.4,652.2 L425.0,650.9 L422.7,649.6 L420.3,648.3 L418.0,646.9 L415.7,645.5 L413.4,644.0 L411.2,642.5 L409.0,641.0 L406.8,639.4 L404.6,637.8 L402.4,636.2 L400.3,634.5 L398.2,632.8 L396.2,631.0 L394.2,629.2 L392.2,627.4 L390.2,625.5 L388.2,623.6 L386.3,621.7 L384.5,619.7 L382.6,617.7 L380.8,615.7 L379.1,613.7 L377.3,611.6 L375.6,609.4 L374.0,607.3 L372.3,605.1 L370.7,602.9 L369.2,600.7 L367.7,598.4 L366.2,596.1 L364.8,593.8 L363.4,591.5 L362.0,589.1 L360.7,586.7 L359.4,584.3 L358.2,581.9 L357.0,579.4 L355.8,576.9 L354.7,574.4 L353.7,571.9 L352.6,569.4 L351.7,566.8 L350.7,564.3 L349.8,561.7 L349.0,559.1 L348.2,556.4 L347.4,553.8 L346.7,551.2 L346.0,548.5 L345.4,545.8 L344.9,543.1 L344.3,540.4 L343.8,537.7 L343.4,535.0 L343.0,532.3 L342.7,529.6 L342.4,526.8 L342.2,524.1 L342.0,521.3 L341.8,518.6 L341.7,515.8 L341.7,513.0 L341.6,510.3 L341.7,507.5 L341.8,504.7 L341.9,502.0 L342.1,499.2 L342.4,496.5 L342.6,493.7 L343.0,490.9 L343.4,488.2 L343.8,485.5 L344.3,482.7 L344.8,480.0 L345.4,477.3 L346.0,474.6 L346.7,471.9 L347.4,469.2 L348.1,466.5 L349.0,463.8 L349.8,461.2 L350.7,458.5 L351.7,455.9 L352.7,453.3 L353.7,450.7 L354.8,448.2 L356.0,445.6 L357.1,443.1 L358.4,440.5 L359.6,438.1 L361.0,435.6 L362.3,433.1 L363.7,430.7 L365.2,428.3 L366.7,425.9 L368.2,423.6 L369.8,421.3 L371.4,419.0 L373.1,416.7 L374.8,414.5 L376.5,412.2 L378.3,410.1 L380.1,407.9 L382.0,405.8 L383.9,403.7 L385.8,401.7 L387.8,399.7 L389.8,397.7 L391.8,395.7 L393.9,393.8 L396.0,391.9 L398.1,390.1 L400.3,388.3 L402.5,386.6 L404.8,384.8 L407.0,383.2 L409.4,381.5 L411.7,379.9 L414.0,378.4 L416.4,376.8 L418.9,375.4 L421.3,373.9 L423.8,372.5 L426.3,371.2 L428.8,369.9 L431.3,368.7 L433.9,367.4 L436.5,366.3 L439.1,365.2 L441.7,364.1 L444.4,363.1 L447.0,362.1 L449.7,361.2 L452.4,360.3 L455.1,359.5 L457.9,358.7 L460.6,358.0 L463.4,357.3 L466.1,356.7 L468.9,356.1 L471.7,355.5 L474.5,355.1 L477.3,354.6 L480.1,354.2 L483.0,353.9 L485.8,353.6 L488.6,353.4 L491.5,353.2 L494.3,353.1 L497.2,353.0 Z M500.0,294.9 L503.9,294.9 L507.8,295.0 L511.7,295.2 L515.6,295.4 L519.4,295.8 L523.3,296.2 L527.2,296.6 L531.0,297.1 L534.9,297.7 L538.7,298.4 L542.5,299.1 L546.3,299.9 L550.1,300.8 L553.9,301.8 L557.7,302.8 L561.4,303.9 L565.1,305.0 L568.8,306.2 L572.5,307.5 L576.1,308.8 L579.7,310.3 L583.3,311.7 L586.9,313.3 L590.4,314.9 L593.9,316.5 L597.4,318.3 L600.8,320.1 L604.2,321.9 L607.6,323.8 L610.9,325.8 L614.2,327.8 L617.5,329.9 L620.7,332.1 L623.9,334.3 L627.0,336.5 L630.1,338.8 L633.1,341.2 L636.1,343.6 L639.1,346.1 L642.0,348.6 L644.9,351.2 L647.7,353.8 L650.5,356.5 L653.2,359.2 L655.8,362.0 L658.5,364.8 L661.0,367.7 L663.5,370.6 L666.0,373.5 L668.4,376.5 L670.7,379.6 L673.0,382.6 L675.3,385.7 L677.4,388.9 L679.6,392.1 L681.6,395.3 L683.6,398.6 L685.6,401.8 L687.5,405.2 L689.3,408.5 L691.0,411.9 L692.7,415.3 L694.4,418.7 L696.0,422.2 L697.5,425.7 L698.9,429.2 L700.3,432.7 L701.7,436.3 L702.9,439.9 L704.1,443.4 L705.2,447.1 L706.3,450.7 L707.3,454.3 L708.3,458.0 L709.1,461.7 L709.9,465.4 L710.7,469.1 L711.4,472.8 L712.0,476.5 L712.5,480.2 L713.0,483.9 L713.4,487.7 L713.8,491.4 L714.1,495.2 L714.3,498.9 L714.4,502.7 L714.5,506.4 L714.5,510.2 L714.5,513.9 L714.4,517.6 L714.2,521.4 L714.0,525.1 L713.7,528.8 L713.3,532.5 L712.9,536.2 L712.4,539.9 L711.8,543.6 L711.2,547.3 L710.5,550.9 L709.8,554.6 L709.0,558.2 L708.1,561.8 L707.2,565.4 L706.2,569.0 L705.1,572.5 L704.0,576.0 L702.8,579.6 L701.6,583.0 L700.3,586.5 L698.9,589.9 L697.5,593.3 L696.1,596.7 L694.5,600.1 L692.9,603.4 L691.3,606.7 L689.6,610.0 L687.9,613.2 L686.1,616.4 L684.2,619.6 L682.3,622.7 L680.3,625.8 L678.3,628.9 L676.3,631.9 L674.1,634.9 L672.0,637.9 L669.8,640.8 L667.5,643.7 L665.2,646.5 L662.8,649.3 L660.4,652.1 L658.0,654.8 L655.5,657.5 L653.0,660.1 L650.4,662.7 L647.8,665.2 L645.1,667.7 L642.4,670.1 L639.7,672.5 L636.9,674.9 L634.1,677.2 L631.2,679.4 L628.3,681.6 L625.4,683.8 L622.4,685.9 L619.4,687.9 L616.4,689.9 L613.3,691.9 L610.2,693.7 L607.1,695.6 L603.9,697.4 L600.7,699.1 L597.5,700.8 L594.3,702.4 L591.0,704.0 L587.7,705.5 L584.4,706.9 L581.1,708.3 L577.7,709.7 L574.3,710.9 L570.9,712.2 L567.5,713.3 L564.0,714.4 L560.6,715.5 L557.1,716.5 L553.6,717.4 L550.1,718.3 L546.6,719.1 L543.0,719.9 L539.5,720.6 L535.9,721.2 L532.4,721.8 L528.8,722.3 L525.2,722.7 L521.6,723.1 L518.0,723.5 L514.4,723.7 L510.8,724.0 L507.2,724.1 L503.6,724.2 L500.0,724.2 L496.4,724.2 L492.8,724.1 L489.2,724.0 L485.6,723.7 L482.0,723.5 L478.4,723.1 L474.8,722.7 L471.2,722.3 L467.6,721.8 L464.1,721.2 L460.5,720.6 L457.0,719.9 L453.4,719.1 L449.9,718.3 L446.4,717.4 L442.9,716.5 L439.4,715.5 L436.0,714.4 L432.5,713.3 L429.1,712.2 L425.7,710.9 L422.3,709.7 L418.9,708.3 L415.6,706.9 L412.3,705.5 L409.0,704.0 L405.7,702.4 L402.5,700.8 L399.3,699.1 L396.1,697.4 L392.9,695.6 L389.8,693.7 L386.7,691.9 L383.6,689.9 L380.6,687.9 L377.6,685.9 L374.6,683.8 L371.7,681.6 L368.8,679.4 L365.9,677.2 L363.1,674.9 L360.3,672.5 L357.6,670.1 L354.9,667.7 L352.2,665.2 L349.6,662.7 L347.0,660.1 L344.5,657.5 L342.0,654.8 L339.6,652.1 L337.2,649.3 L334.8,646.5 L332.5,643.7 L330.2,640.8 L328.0,637.9 L325.9,634.9 L323.7,631.9 L321.7,628.9 L319.7,625.8 L317.7,622.7 L315.8,619.6 L313.9,616.4 L312.1,613.2 L310.4,610.0 L308.7,606.7 L307.1,603.4 L305.5,600.1 L303.9,596.7 L302.5,593.3 L301.1,589.9 L299.7,586.5 L298.4,583.0 L297.2,579.6 L296.0,576.0 L294.9,572.5 L293.8,569.0 L292.8,565.4 L291.9,561.8 L291.0,558.2 L290.2,554.6 L289.5,550.9 L288.8,547.3 L288.2,543.6 L287.6,539.9 L287.1,536.2 L286.7,532.5 L286.3,528.8 L286.0,525.1 L285.8,521.4 L285.6,517.6 L285.5,513.9 L285.5,510.2 L285.5,506.4 L285.6,502.7 L285.7,498.9 L285.9,495.2 L286.2,491.4 L286.6,487.7 L287.0,483.9 L287.5,480.2 L288.0,476.5 L288.6,472.8 L289.3,469.1 L290.1,465.4 L290.9,461.7 L291.7,458.0 L292.7,454.3 L293.7,450.7 L294.8,447.1 L295.9,443.4 L297.1,439.9 L298.3,436.3 L299.7,432.7 L301.1,429.2 L302.5,425.7 L304.0,422.2 L305.6,418.7 L307.3,415.3 L309.0,411.9 L310.7,408.5 L312.5,405.2 L314.4,401.8 L316.4,398.6 L318.4,395.3 L320.4,392.1 L322.6,388.9 L324.7,385.7 L327.0,382.6 L329.3,379.6 L331.6,376.5 L334.0,373.5 L336.5,370.6 L339.0,367.7 L341.5,364.8 L344.2,362.0 L346.8,359.2 L349.5,356.5 L352.3,353.8 L355.1,351.2 L358.0,348.6 L360.9,346.1 L363.9,343.6 L366.9,341.2 L369.9,338.8 L373.0,336.5 L376.1,334.3 L379.3,332.1 L382.5,329.9 L385.8,327.8 L389.1,325.8 L392.4,323.8 L395.8,321.9 L399.2,320.1 L402.6,318.3 L406.1,316.5 L409.6,314.9 L413.1,313.3 L416.7,311.7 L420.3,310.3 L423.9,308.8 L427.5,307.5 L431.2,306.2 L434.9,305.0 L438.6,303.9 L442.3,302.8 L446.1,301.8 L449.9,300.8 L453.7,299.9 L457.5,299.1 L461.3,298.4 L465.1,297.7 L469.0,297.1 L472.8,296.6 L476.7,296.2 L480.6,295.8 L484.4,295.4 L488.3,295.2 L492.2,295.0 L496.1,294.9 Z M500.0,236.3 L505.0,236.3 L509.9,236.4 L514.9,236.7 L519.8,237.0 L524.8,237.4 L529.7,237.9 L534.6,238.5 L539.6,239.2 L544.5,239.9 L549.3,240.8 L554.2,241.8 L559.1,242.8 L563.9,243.9 L568.7,245.1 L573.5,246.4 L578.2,247.8 L583.0,249.3 L587.7,250.9 L592.3,252.5 L597.0,254.3 L601.6,256.1 L606.1,258.0 L610.6,259.9 L615.1,262.0 L619.6,264.2 L624.0,266.4 L628.4,268.7 L632.7,271.1 L636.9,273.5 L641.2,276.1 L645.4,278.7 L649.5,281.3 L653.6,284.1 L657.6,286.9 L661.5,289.8 L665.5,292.8 L669.3,295.8 L673.1,298.9 L676.9,302.1 L680.5,305.4 L684.1,308.7 L687.7,312.0 L691.2,315.5 L694.6,318.9 L698.0,322.5 L701.3,326.1 L704.5,329.7 L707.7,333.5 L710.7,337.2 L713.8,341.1 L716.7,344.9 L719.6,348.8 L722.4,352.8 L725.1,356.8 L727.8,360.9 L730.3,365.0 L732.9,369.1 L735.3,373.3 L737.6,377.6 L739.9,381.8 L742.1,386.1 L744.2,390.5 L746.2,394.8 L748.2,399.2 L750.1,403.7 L751.9,408.1 L753.6,412.6 L755.2,417.1 L756.8,421.7 L758.2,426.2 L759.6,430.8 L760.9,435.4 L762.2,440.0 L763.3,444.7 L764.4,449.3 L765.3,454.0 L766.2,458.7 L767.1,463.4 L767.8,468.1 L768.4,472.8 L769.0,477.5 L769.5,482.2 L769.9,486.9 L770.2,491.7 L770.4,496.4 L770.5,501.1 L770.6,505.9 L770.6,510.6 L770.5,515.3 L770.3,520.0 L770.0,524.7 L769.7,529.4 L769.3,534.1 L768.8,538.8 L768.2,543.4 L767.5,548.1 L766.8,552.7 L765.9,557.3 L765.0,561.9 L764.0,566.5 L763.0,571.0 L761.8,575.5 L760.6,580.0 L759.3,584.5 L758.0,589.0 L756.5,593.4 L755.0,597.8 L753.4,602.2 L751.8,606.5 L750.0,610.8 L748.2,615.1 L746.3,619.3 L744.4,623.5 L742.4,627.7 L740.3,631.8 L738.1,635.9 L735.9,639.9 L733.6,643.9 L731.2,647.9 L728.8,651.8 L726.3,655.7 L723.8,659.5 L721.1,663.3 L718.5,667.0 L715.7,670.7 L712.9,674.4 L710.1,678.0 L707.1,681.5 L704.2,685.0 L701.1,688.4 L698.0,691.8 L694.9,695.1 L691.7,698.4 L688.4,701.6 L685.1,704.7 L681.8,707.8 L678.4,710.9 L674.9,713.9 L671.4,716.8 L667.9,719.6 L664.3,722.4 L660.6,725.2 L657.0,727.8 L653.2,730.5 L649.5,733.0 L645.6,735.5 L641.8,737.9 L637.9,740.2 L634.0,742.5 L630.0,744.7 L626.0,746.9 L622.0,749.0 L617.9,751.0 L613.8,752.9 L609.7,754.8 L605.6,756.6 L601.4,758.3 L597.2,760.0 L592.9,761.6 L588.7,763.1 L584.4,764.6 L580.1,765.9 L575.7,767.2 L571.4,768.5 L567.0,769.6 L562.6,770.7 L558.2,771.7 L553.8,772.6 L549.4,773.5 L544.9,774.3 L540.5,775.0 L536.0,775.7 L531.5,776.2 L527.0,776.7 L522.5,777.1 L518.0,777.5 L513.5,777.7 L509.0,777.9 L504.5,778.0 L500.0,778.1 L495.5,778.0 L491.0,777.9 L486.5,777.7 L482.0,777.5 L477.5,777.1 L473.0,776.7 L468.5,776.2 L464.0,775.7 L459.5,775.0 L455.1,774.3 L450.6,773.5 L446.2,772.6 L441.8,771.7 L437.4,770.7 L433.0,769.6 L428.6,768.5 L424.3,767.2 L419.9,765.9 L415.6,764.6 L411.3,763.1 L407.1,761.6 L402.8,760.0 L398.6,758.3 L394.4,756.6 L390.3,754.8 L386.2,752.9 L382.1,751.0 L378.0,749.0 L374.0,746.9 L370.0,744.7 L366.0,742.5 L362.1,740.2 L358.2,737.9 L354.4,735.5 L350.5,733.0 L346.8,730.5 L343.0,727.8 L339.4,725.2 L335.7,722.4 L332.1,719.6 L328.6,716.8 L325.1,713.9 L321.6,710.9 L318.2,707.8 L314.9,704.7 L311.6,701.6 L308.3,698.4 L305.1,695.1 L302.0,691.8 L298.9,688.4 L295.8,685.0 L292.9,681.5 L289.9,678.0 L287.1,674.4 L284.3,670.7 L281.5,667.0 L278.9,663.3 L276.2,659.5 L273.7,655.7 L271.2,651.8 L268.8,647.9 L266.4,643.9 L264.1,639.9 L261.9,635.9 L259.7,631.8 L257.6,627.7 L255.6,623.5 L253.7,619.3 L251.8,615.1 L250.0,610.8 L248.2,606.5 L246.6,602.2 L245.0,597.8 L243.5,593.4 L242.0,589.0 L240.7,584.5 L239.4,580.0 L238.2,575.5 L237.0,571.0 L236.0,566.5 L235.0,561.9 L234.1,557.3 L233.2,552.7 L232.5,548.1 L231.8,543.4 L231.2,538.8 L230.7,534.1 L230.3,529.4 L230.0,524.7 L229.7,520.0 L229.5,515.3 L229.4,510.6 L229.4,505.9 L229.5,501.1 L229.6,496.4 L229.8,491.7 L230.1,486.9 L230.5,482.2 L231.0,477.5 L231.6,472.8 L232.2,468.1 L232.9,463.4 L233.8,458.7 L234.7,454.0 L235.6,449.3 L236.7,444.7 L237.8,440.0 L239.1,435.4 L240.4,430.8 L241.8,426.2 L243.2,421.7 L244.8,417.1 L246.4,412.6 L248.1,408.1 L249.9,403.7 L251.8,399.2 L253.8,394.8 L255.8,390.5 L257.9,386.1 L260.1,381.8 L262.4,377.6 L264.7,373.3 L267.1,369.1 L269.7,365.0 L272.2,360.9 L274.9,356.8 L277.6,352.8 L280.4,348.8 L283.3,344.9 L286.2,341.1 L289.3,337.2 L292.3,333.5 L295.5,329.7 L298.7,326.1 L302.0,322.5 L305.4,318.9 L308.8,315.5 L312.3,312.0 L315.9,308.7 L319.5,305.4 L323.1,302.1 L326.9,298.9 L330.7,295.8 L334.5,292.8 L338.5,289.8 L342.4,286.9 L346.4,284.1 L350.5,281.3 L354.6,278.7 L358.8,276.1 L363.1,273.5 L367.3,271.1 L371.6,268.7 L376.0,266.4 L380.4,264.2 L384.9,262.0 L389.4,259.9 L393.9,258.0 L398.4,256.1 L403.0,254.3 L407.7,252.5 L412.3,250.9 L417.0,249.3 L421.8,247.8 L426.5,246.4 L431.3,245.1 L436.1,243.9 L440.9,242.8 L445.8,241.8 L450.7,240.8 L455.5,239.9 L460.4,239.2 L465.4,238.5 L470.3,237.9 L475.2,237.4 L480.2,237.0 L485.1,236.7 L490.1,236.4 L495.0,236.3 Z M500.0,177.1 L506.1,177.1 L512.1,177.3 L518.2,177.6 L524.2,178.0 L530.2,178.5 L536.3,179.1 L542.3,179.8 L548.3,180.7 L554.2,181.6 L560.2,182.7 L566.1,183.8 L572.0,185.1 L577.9,186.5 L583.8,188.0 L589.6,189.6 L595.4,191.3 L601.2,193.1 L606.9,195.1 L612.6,197.1 L618.2,199.2 L623.8,201.5 L629.4,203.8 L634.9,206.3 L640.3,208.8 L645.7,211.4 L651.1,214.2 L656.4,217.0 L661.7,219.9 L666.8,223.0 L672.0,226.1 L677.0,229.3 L682.0,232.6 L687.0,236.0 L691.9,239.4 L696.7,243.0 L701.4,246.7 L706.1,250.4 L710.7,254.2 L715.2,258.1 L719.6,262.1 L724.0,266.1 L728.3,270.2 L732.5,274.4 L736.6,278.7 L740.7,283.0 L744.7,287.5 L748.5,291.9 L752.3,296.5 L756.1,301.1 L759.7,305.8 L763.2,310.5 L766.7,315.3 L770.0,320.1 L773.3,325.0 L776.5,330.0 L779.6,335.0 L782.5,340.1 L785.4,345.2 L788.2,350.3 L790.9,355.5 L793.6,360.7 L796.1,366.0 L798.5,371.3 L800.8,376.7 L803.0,382.1 L805.2,387.5 L807.2,393.0 L809.1,398.5 L810.9,404.0 L812.7,409.5 L814.3,415.1 L815.8,420.7 L817.2,426.3 L818.6,431.9 L819.8,437.5 L820.9,443.2 L821.9,448.8 L822.9,454.5 L823.7,460.2 L824.4,465.9 L825.0,471.6 L825.5,477.3 L826.0,483.0 L826.3,488.7 L826.5,494.5 L826.6,500.2 L826.6,505.9 L826.6,511.6 L826.4,517.2 L826.1,522.9 L825.7,528.6 L825.3,534.2 L824.7,539.9 L824.0,545.5 L823.3,551.1 L822.4,556.7 L821.5,562.3 L820.4,567.8 L819.3,573.3 L818.0,578.8 L816.7,584.3 L815.3,589.7 L813.8,595.1 L812.2,600.5 L810.5,605.9 L808.7,611.2 L806.8,616.4 L804.9,621.7 L802.8,626.9 L800.7,632.0 L798.5,637.1 L796.2,642.2 L793.8,647.2 L791.3,652.2 L788.8,657.2 L786.1,662.0 L783.4,666.9 L780.6,671.7 L777.7,676.4 L774.8,681.1 L771.8,685.7 L768.7,690.3 L765.5,694.8 L762.2,699.3 L758.9,703.7 L755.5,708.0 L752.1,712.3 L748.5,716.5 L744.9,720.7 L741.3,724.7 L737.5,728.8 L733.7,732.7 L729.9,736.6 L726.0,740.5 L722.0,744.2 L717.9,747.9 L713.8,751.5 L709.7,755.1 L705.5,758.5 L701.2,761.9 L696.9,765.3 L692.5,768.5 L688.1,771.7 L683.6,774.8 L679.0,777.8 L674.5,780.8 L669.8,783.7 L665.2,786.5 L660.5,789.2 L655.7,791.8 L650.9,794.4 L646.1,796.8 L641.2,799.2 L636.3,801.5 L631.4,803.7 L626.4,805.9 L621.4,807.9 L616.3,809.9 L611.2,811.8 L606.1,813.6 L601.0,815.3 L595.8,817.0 L590.6,818.5 L585.4,820.0 L580.2,821.3 L575.0,822.6 L569.7,823.8 L564.4,824.9 L559.1,826.0 L553.8,826.9 L548.4,827.7 L543.1,828.5 L537.7,829.2 L532.3,829.8 L527.0,830.2 L521.6,830.6 L516.2,831.0 L510.8,831.2 L505.4,831.3 L500.0,831.4 L494.6,831.3 L489.2,831.2 L483.8,831.0 L478.4,830.6 L473.0,830.2 L467.7,829.8 L462.3,829.2 L456.9,828.5 L451.6,827.7 L446.2,826.9 L440.9,826.0 L435.6,824.9 L430.3,823.8 L425.0,822.6 L419.8,821.3 L414.6,820.0 L409.4,818.5 L404.2,817.0 L399.0,815.3 L393.9,813.6 L388.8,811.8 L383.7,809.9 L378.6,807.9 L373.6,805.9 L368.6,803.7 L363.7,801.5 L358.8,799.2 L353.9,796.8 L349.1,794.4 L344.3,791.8 L339.5,789.2 L334.8,786.5 L330.2,783.7 L325.5,780.8 L321.0,777.8 L316.4,774.8 L311.9,771.7 L307.5,768.5 L303.1,765.3 L298.8,761.9 L294.5,758.5 L290.3,755.1 L286.2,751.5 L282.1,747.9 L278.0,744.2 L274.0,740.5 L270.1,736.6 L266.3,732.7 L262.5,728.8 L258.7,724.7 L255.1,720.7 L251.5,716.5 L247.9,712.3 L244.5,708.0 L241.1,703.7 L237.8,699.3 L234.5,694.8 L231.3,690.3 L228.2,685.7 L225.2,681.1 L222.3,676.4 L219.4,671.7 L216.6,666.9 L213.9,662.0 L211.2,657.2 L208.7,652.2 L206.2,647.2 L203.8,642.2 L201.5,637.1 L199.3,632.0 L197.2,626.9 L195.1,621.7 L193.2,616.4 L191.3,611.2 L189.5,605.9 L187.8,600.5 L186.2,595.1 L184.7,589.7 L183.3,584.3 L182.0,578.8 L180.7,573.3 L179.6,567.8 L178.5,562.3 L177.6,556.7 L176.7,551.1 L176.0,545.5 L175.3,539.9 L174.7,534.2 L174.3,528.6 L173.9,522.9 L173.6,517.2 L173.4,511.6 L173.4,505.9 L173.4,500.2 L173.5,494.5 L173.7,488.7 L174.0,483.0 L174.5,477.3 L175.0,471.6 L175.6,465.9 L176.3,460.2 L177.1,454.5 L178.1,448.8 L179.1,443.2 L180.2,437.5 L181.4,431.9 L182.8,426.3 L184.2,420.7 L185.7,415.1 L187.3,409.5 L189.1,404.0 L190.9,398.5 L192.8,393.0 L194.8,387.5 L197.0,382.1 L199.2,376.7 L201.5,371.3 L203.9,366.0 L206.4,360.7 L209.1,355.5 L211.8,350.3 L214.6,345.2 L217.5,340.1 L220.4,335.0 L223.5,330.0 L226.7,325.0 L230.0,320.1 L233.3,315.3 L236.8,310.5 L240.3,305.8 L243.9,301.1 L247.7,296.5 L251.5,291.9 L255.3,287.5 L259.3,283.0 L263.4,278.7 L267.5,274.4 L271.7,270.2 L276.0,266.1 L280.4,262.1 L284.8,258.1 L289.3,254.2 L293.9,250.4 L298.6,246.7 L303.3,243.0 L308.1,239.4 L313.0,236.0 L318.0,232.6 L323.0,229.3 L328.0,226.1 L333.2,223.0 L338.3,219.9 L343.6,217.0 L348.9,214.2 L354.3,211.4 L359.7,208.8 L365.1,206.3 L370.6,203.8 L376.2,201.5 L381.8,199.2 L387.4,197.1 L393.1,195.1 L398.8,193.1 L404.6,191.3 L410.4,189.6 L416.2,188.0 L422.1,186.5 L428.0,185.1 L433.9,183.8 L439.8,182.7 L445.8,181.6 L451.7,180.7 L457.7,179.8 L463.7,179.1 L469.8,178.5 L475.8,178.0 L481.8,177.6 L487.9,177.3 L493.9,177.1 Z M500.0,474.3 L500.0,410.8 M534.0,494.1 L589.0,463.1 M533.8,533.3 L587.4,565.0 M500.0,552.6 L500.0,614.6 M466.2,533.3 L412.6,565.0 M466.0,494.1 L411.0,463.1 M500.0,410.8 L500.0,353.0 M560.8,430.9 L595.2,384.8 M597.4,482.9 L651.9,466.5 M596.3,545.8 L649.3,564.3 M559.0,595.7 L591.0,641.0 M500.0,614.6 L500.0,669.8 M441.0,595.7 L409.0,641.0 M403.7,545.8 L350.7,564.3 M402.6,482.9 L348.1,466.5 M439.2,430.9 L404.8,384.8 M500.0,353.0 L500.0,294.9 M570.5,369.5 L596.4,317.8 M626.0,415.4 L671.7,380.9 M655.3,480.4 L710.8,469.6 M653.4,550.8 L707.3,564.9 M621.7,612.8 L663.9,648.1 M567.0,654.9 L590.1,704.4 M500.0,669.8 L500.0,724.2 M433.0,654.9 L409.9,704.4 M378.3,612.8 L336.1,648.1 M346.6,550.8 L292.7,564.9 M344.7,480.4 L289.2,469.6 M374.0,415.4 L328.3,380.9 M429.5,369.5 L403.6,317.8 M500.0,294.9 L500.0,236.3 M576.1,308.8 L597.0,254.3 M642.0,348.6 L680.5,305.4 M689.3,408.5 L739.9,381.8 M712.5,480.2 L768.4,472.8 M709.8,554.6 L764.0,566.5 M682.3,622.7 L728.8,651.8 M634.1,677.2 L667.9,719.6 M570.9,712.2 L588.7,763.1 M500.0,724.2 L500.0,778.1 M429.1,712.2 L411.3,763.1 M365.9,677.2 L332.1,719.6 M317.7,622.7 L271.2,651.8 M290.2,554.6 L236.0,566.5 M287.5,480.2 L231.6,472.8 M310.7,408.5 L260.1,381.8 M358.0,348.6 L319.5,305.4 M423.9,308.8 L403.0,254.3 M500.0,236.3 L500.0,177.1 M579.9,248.4 L597.5,192.0 M652.4,283.3 L685.6,235.0 M711.0,337.6 L756.4,301.5 M750.9,405.7 L804.0,384.6 M769.4,481.4 L825.5,476.3 M765.8,558.1 L820.2,568.8 M741.2,629.9 L789.9,654.9 M698.3,691.5 L737.9,728.4 M640.7,738.5 L668.6,784.4 M573.0,768.0 L587.3,819.5 M500.0,778.1 L500.0,831.4 M427.0,768.0 L412.7,819.5 M359.3,738.5 L331.4,784.4 M301.7,691.5 L262.1,728.4 M258.8,629.9 L210.1,654.9 M234.2,558.1 L179.8,568.8 M230.6,481.4 L174.5,476.3 M249.1,405.7 L196.0,384.6 M289.0,337.6 L243.6,301.5 M347.6,283.3 L314.4,235.0 M420.1,248.4 L402.5,192.0" fill="none" stroke="#000" stroke-width="1.5" stroke-linejoin="round"/>
<path d="M180.2,100.4 V899.8 M326.8,100.4 V899.8 M473.4,100.4 V899.8 M620.1,100.4 V899.8 M766.7,100.4 V899.8 M115.5,224.4 H885.2 M115.5,412.4 H885.2 M115.5,594.3 H885.2 M115.5,770.6 H885.2" fill="none" stroke="#3c4650" stroke-width="0.8" stroke-dasharray="1.4,1.4" opacity="0.75"/>
<path d="M672.0,380.0 L673.0,372.0 L674.0,364.0 L678.0,356.0 L682.0,350.0 L688.0,346.0 L696.0,345.0 L704.0,348.0 L709.0,352.0 L713.0,354.0 L710.0,344.0 L709.0,338.0 L704.0,334.0 L706.0,326.0 L709.0,320.0 L712.0,314.0 L716.0,308.0 L722.0,300.0 L728.0,296.0 L731.0,290.0 L733.0,282.0 L735.0,274.0 L738.0,268.0 L741.0,260.0 L740.0,254.0 L738.0,246.0 L737.0,236.0 L735.0,226.0 L730.0,219.0 L727.0,210.0 L725.0,202.0 L720.0,192.0 L713.6,185.2 L708.8,182.8 L704.8,174.8 L702.4,166.8 L701.6,158.8 L701.6,146.0 L702.4,134.8 L704.8,122.0 L706.4,113.2 L702.4,114.8 L697.6,117.2 L692.8,118.8 L688.0,114.0 L683.2,110.8 L676.8,108.4 L673.6,105.2 L669.6,112.4 L666.4,122.0 L664.8,132.4 L665.6,136.4 L668.8,135.6 L675.2,133.2 L681.6,130.0 L686.4,126.8 L689.6,126.0 L692.8,130.0 L694.4,136.4 L692.8,144.4 L689.6,152.4 L686.4,156.4 L683.2,154.8 L679.2,149.2 L675.2,146.8 L670.4,149.2 L668.8,157.2 L664.0,159.6 L660.0,154.0 L658.4,146.0 L657.6,138.0 L656.8,130.8 L652.0,129.2 L647.2,132.4 L643.2,129.2 L639.2,127.6 L638.4,135.6 L635.2,137.2 L638.4,139.6 L641.6,145.2 L640.0,146.0 L638.4,150.8 L636.8,157.2 L633.6,162.0 L627.2,165.2 L620.8,166.8 L614.4,173.2 L612.8,177.2 L615.2,181.2 L617.6,187.6 L620.0,194.0 L620.8,200.4 L621.0,210.0 L620.0,216.0 L616.0,220.0 L608.0,224.0 L602.4,223.5 L603.2,230.0 L606.0,234.0 L611.2,234.0 L616.0,228.5 L620.0,227.0 L624.0,226.0 L622.0,232.0 L624.0,242.0 L625.0,246.0 L623.0,260.0 L620.0,270.0 L616.0,280.0 L613.0,292.0 L610.0,304.0 L608.0,312.0 L603.0,320.0 L598.0,322.0 L594.0,330.0 L590.0,340.0 L588.0,350.0 L587.0,360.0 L582.0,368.0 L576.0,374.0 L566.0,380.0 L558.0,384.0 L552.0,390.0 L548.0,400.0 L542.0,412.0 L536.0,420.0 L528.0,426.0 L518.0,432.0 L512.0,436.0 L504.0,438.5 L501.6,440.8 L492.0,444.8 L482.4,448.0 L474.4,451.2 L468.8,454.4 L468.0,460.8 L464.8,465.6 L456.8,468.0 L448.8,465.6 L444.0,460.8 L443.2,452.8 L445.6,444.8 L442.4,440.0 L437.6,438.4 L439.2,432.0 L447.2,428.8 L455.2,425.6 L458.4,420.8 L458.4,417.6 L463.2,414.4 L464.0,410.4 L460.0,409.6 L453.6,411.2 L444.0,414.4 L434.4,419.2 L429.6,422.4 L426.4,428.8 L424.8,436.8 L428.0,444.8 L429.6,452.8 L428.0,462.4 L424.8,470.4 L421.6,475.2 L416.8,481.6 L410.4,489.6 L402.4,496.0 L398.8,500.0 L390.8,506.4 L386.0,516.0 L383.6,524.0 L386.0,532.0 L389.2,540.0 L386.0,544.8 L378.0,548.0 L374.8,552.8 L365.2,554.4 L355.6,552.8 L349.2,552.8 L346.0,557.6 L341.2,552.8 L339.6,544.8 L336.4,540.0 L328.4,541.6 L322.0,546.4 L310.8,546.4 L298.0,547.2 L291.6,549.6 L285.2,552.8 L274.0,555.2 L262.8,556.8 L253.2,558.4 L240.0,556.8 L233.6,556.0 L227.2,552.8 L214.4,551.2 L208.0,557.6 L195.2,564.0 L188.8,568.8 L182.4,576.8 L176.0,581.6 L163.2,592.8 L152.0,604.0 L140.8,615.2 L124.8,620.0 L116.0,629.6 L112.0,632.0 M672.0,380.0 L676.0,384.0 L679.0,394.0 L681.0,406.0 L681.0,420.0 L680.0,432.0 L676.0,444.0 L670.0,456.0 L664.0,466.0 L660.0,476.0 L657.0,486.0 L655.0,500.0 L653.0,510.0 L655.0,515.0 L657.5,520.0 L660.0,525.0 L664.0,532.5 L668.0,539.0 L671.0,543.5 L668.0,545.0 L660.0,548.0 L654.0,552.0 L648.0,556.0 L644.0,564.0 L644.0,572.0 L640.0,578.0 L634.0,582.0 L628.0,586.0 L622.0,590.0 L617.0,598.0 L614.0,604.0 L610.0,600.0 L609.0,590.0 L610.0,580.0 L612.0,572.0 L616.0,566.0 L620.0,560.0 L626.0,554.0 L627.0,548.0 L622.0,545.0 L614.0,546.0 L608.0,548.0 L604.0,554.0 L600.0,562.0 L602.0,572.0 L600.0,580.0 L598.0,584.0 L592.0,576.0 L586.0,572.0 L578.0,573.0 L572.0,578.0 L568.0,588.0 L569.0,598.0 L568.0,602.0 L566.0,610.0 L562.0,620.0 L556.0,622.0 L548.0,618.0 L546.0,610.0 L548.0,600.0 L552.0,592.8 L547.2,591.2 L540.8,586.4 L534.4,588.0 L528.0,594.4 L523.2,600.8 L521.6,607.2 L518.4,613.6 L516.8,622.4 L512.0,615.2 L502.4,616.8 L491.2,619.2 L480.0,620.0 L467.2,620.0 L456.0,621.6 L446.4,624.0 L444.8,620.0 L451.2,616.8 L460.8,612.8 L467.2,610.4 L464.0,607.2 L454.4,608.8 L444.8,607.2 L440.0,604.0 L436.8,607.2 L433.6,613.6 L433.6,600.8 L436.8,588.0 L432.0,589.6 L425.6,591.2 L422.4,597.6 L419.2,607.2 L416.0,616.8 L417.6,623.2 L424.0,626.4 L432.0,631.2 L436.8,636.0 L438.4,642.4 L432.0,645.6 L424.0,642.4 L416.0,645.6 L409.6,648.8 L402.0,652.8 L398.8,659.2 L394.0,667.2 L389.2,675.2 L384.4,684.8 L381.2,691.2 L378.0,697.6 L374.8,702.4 L365.2,700.0 L355.6,697.6 L349.2,694.4 L349.2,688.0 L342.8,683.2 L336.4,676.8 L330.0,670.4 L331.6,660.8 L333.2,651.2 L330.0,643.2 L338.0,642.4 L346.0,637.6 L352.4,628.0 L352.4,618.4 L346.0,613.6 L334.8,615.2 L326.8,621.6 L322.0,618.4 L317.5,615.5 L310.0,611.0 L304.0,609.5 L295.0,609.5 L287.5,612.5 L280.0,614.0 L274.0,618.5 L265.0,621.5 L262.0,627.5 L256.0,630.0 L250.0,628.0 L241.0,630.5 L232.0,632.5 L223.0,636.0 L214.0,639.0 L206.5,642.0 L200.0,646.5 L198.4,650.4 L190.4,648.8 L185.6,650.4 L182.4,658.4 L177.6,656.8 L176.0,645.6 L179.2,640.8 L172.8,640.8 L166.4,647.2 L163.2,655.2 L163.2,666.4 L166.4,669.6 L172.8,668.0 L176.0,669.6 L169.6,672.8 L163.2,674.4 L164.8,680.8 L158.4,677.6 L153.6,680.8 L155.2,676.0 L150.4,671.2 L142.4,668.0 L136.0,663.2 L124.8,660.8 L116.0,663.2 L112.0,663.5 M618.4,99.0 L618.4,102.0 L620.8,110.8 L625.6,114.0 L631.2,116.4 L635.2,112.4 L643.2,107.6 L646.4,102.8 L646.4,99.0 M304.4,660.8 L309.2,675.2 L304.4,681.6 L296.4,686.4 L288.4,692.8 L283.6,699.2 L280.4,708.8 L278.8,718.4 L274.0,713.6 L269.2,707.2 L262.8,702.4 L254.8,699.2 L250.0,697.6 L241.6,698.4 L236.8,704.8 L230.4,709.6 L224.0,716.0 L222.4,722.4 L217.6,730.4 L211.2,735.2 L208.0,741.6 L211.2,748.0 L208.0,754.4 L201.6,751.2 L195.2,752.8 L190.4,751.2 L187.2,746.4 L182.4,744.8 L179.2,738.4 L174.4,732.0 L172.8,722.4 L174.4,719.2 L172.8,709.6 L169.6,704.8 L160.0,709.6 L152.0,712.0 L153.6,708.0 L163.2,701.6 L172.8,696.8 L179.2,692.0 L185.6,687.2 L190.4,679.2 L193.6,671.2 L195.2,664.8 L201.6,661.6 L206.4,658.4 L212.5,666.5 L220.0,668.0 L229.0,665.8 L238.0,664.0 L245.0,658.0 L250.0,651.0 L255.0,646.0 L262.0,643.5 L271.0,644.0 L280.0,646.5 L288.0,648.5 L298.0,651.0 L302.8,655.0 L304.4,660.8 M112.0,694.0 L116.0,693.6 L121.6,688.8 L128.0,687.2 L134.4,692.0 L136.0,700.0 L131.2,706.4 L124.8,709.6 L121.6,714.4 L128.0,717.6 L136.0,717.6 L144.0,717.6 L142.4,725.6 L147.2,732.0 L152.0,738.4 L152.0,741.6 L148.8,749.6 L142.4,756.0 L136.0,762.4 L132.8,770.4 L129.6,780.0 L126.4,791.2 L121.6,804.0 L119.2,815.2 L120.0,823.2 L117.6,829.6 L116.0,836.0 L112.0,840.0 M531.4,350.5 L533.6,351.0 L532.8,354.3 L532.0,358.2 L530.3,363.1 L528.1,367.5 L527.6,370.8 L530.3,370.3 L535.8,369.2 L536.4,371.9 L534.2,376.3 L532.0,380.7 L528.1,383.5 L523.7,387.3 L518.8,388.4 L514.9,388.4 L516.0,386.8 L519.3,385.1 L519.3,381.8 L521.5,378.5 L522.0,376.3 L519.9,374.6 L517.1,376.3 L516.0,374.1 L516.0,369.7 L518.2,365.3 L521.5,360.9 L524.8,357.6 L528.1,354.9 L529.2,351.6 L531.4,350.5 M326.0,621.0 L328.0,626.0 L324.0,634.0 L318.0,642.0 L314.0,650.0 L309.0,653.0 L306.0,647.0 L310.0,640.0 L316.0,632.0 L321.0,625.0 L326.0,621.0 M265.0,626.6 L273.4,628.0 L284.6,625.2 L290.2,628.0 L287.4,633.6 L279.0,635.0 L269.2,633.6 L263.6,630.8 L265.0,626.6 M394.0,559.0 L400.4,567.0 L398.8,576.8 L390.8,580.0 L384.4,583.2 L379.6,591.2 L378.0,596.0 L381.2,589.6 L382.8,580.0 L387.6,570.4 L390.8,560.8 L394.0,559.0 M638.0,512.0 L642.5,514.0 L646.0,518.0 L648.5,522.5 L647.5,527.0 L644.0,524.0 L640.0,522.0 L635.0,517.5 L638.0,512.0 M651.0,513.0 L653.0,518.0 L655.0,524.0 L655.0,527.0 L653.5,522.5 L651.5,516.5 L651.0,513.0" fill="none" stroke="#868686" stroke-width="3.1" stroke-linejoin="round" stroke-linecap="round"/>
<ellipse cx="212.6" cy="516.8" rx="6.6" ry="6.2" fill="#858585"/>
<circle cx="225.6" cy="504.2" r="5.2" fill="none" stroke="#858585" stroke-width="2.8"/>
<ellipse cx="672.0" cy="189.2" rx="3.2" ry="3.2" fill="none" stroke="#858585" stroke-width="2.6"/>
<ellipse cx="697.6" cy="164.0" rx="1.6" ry="3.5" fill="none" stroke="#858585" stroke-width="2.6"/>
<ellipse cx="624.0" cy="413.5" rx="2.6" ry="2.6" fill="none" stroke="#858585" stroke-width="2.6"/>
<ellipse cx="585.0" cy="612.7" rx="2.6" ry="3.8" fill="none" stroke="#858585" stroke-width="2.6"/>
<ellipse cx="591.7" cy="659.0" rx="2.8" ry="2.8" fill="none" stroke="#858585" stroke-width="2.6"/>
<ellipse cx="608.0" cy="727.5" rx="2.8" ry="4.0" fill="none" stroke="#858585" stroke-width="2.6"/>
<path d="M576.0,642.0 L579.0,635.0" fill="none" stroke="#858585" stroke-width="3.2" stroke-linecap="round"/>
<circle cx="582.4" cy="107.3" r="2.2" fill="#858585"/>
<circle cx="575.6" cy="340.0" r="2.4" fill="#858585"/>
<circle cx="588.0" cy="469.0" r="2.4" fill="#858585"/>
<circle cx="508.0" cy="520.0" r="2.2" fill="#858585"/>
<circle cx="570.0" cy="649.5" r="2.7" fill="#858585"/>
<circle cx="597.0" cy="674.0" r="2.8" fill="#858585"/>
<circle cx="182.4" cy="754.4" r="2.2" fill="#858585"/>
<circle cx="187.2" cy="666.4" r="2.0" fill="#858585"/>
<path d="M537.0,457.8 L546.7,444.5 L549.7,450.3 L559.7,421.4 L535.5,440.0 L541.9,441.1 L532.3,454.4 Z M565.1,515.5 L569.9,531.3 L563.4,530.2 L580.2,555.7 L580.2,525.2 L575.5,529.6 L570.8,513.9 Z M531.1,572.2 L531.5,588.6 L525.5,585.8 L535.0,614.9 L543.1,585.4 L537.3,588.5 L536.9,572.0 Z M467.5,569.2 L451.0,568.9 L454.0,563.1 L424.6,571.3 L453.7,580.6 L450.9,574.7 L467.4,575.0 Z M436.2,513.7 L430.8,498.2 L437.3,499.0 L419.4,474.3 L420.7,504.8 L425.3,500.1 L430.7,515.7 Z M469.6,456.1 L469.4,439.6 L475.3,442.4 L466.0,413.3 L457.7,442.7 L463.5,439.7 L463.8,456.2 Z M543.1,392.5 L557.9,385.4 L557.8,391.9 L580.3,371.3 L550.2,376.1 L555.4,380.1 L540.5,387.3 Z M604.7,439.8 L611.3,454.9 L604.8,454.6 L624.5,477.9 L620.8,447.6 L616.7,452.6 L610.1,437.5 Z M627.9,516.4 L631.5,532.5 L625.2,530.9 L640.1,557.5 L642.3,527.1 L637.2,531.2 L633.6,515.1 Z M601.7,591.2 L603.8,607.6 L597.7,605.4 L610.2,633.3 L615.1,603.1 L609.6,606.8 L607.5,590.5 Z M537.1,636.5 L538.0,652.9 L532.0,650.3 L542.3,679.0 L549.5,649.4 L543.8,652.6 L543.0,636.2 Z M458.5,635.7 L454.9,651.7 L449.8,647.6 L451.9,678.1 L466.9,651.4 L460.6,653.0 L464.2,636.9 Z M399.4,589.4 L391.3,575.1 L397.8,574.7 L375.8,553.6 L382.5,583.4 L386.2,577.9 L394.3,592.3 Z M373.5,515.2 L370.1,499.1 L376.4,500.7 L361.8,473.9 L359.2,504.3 L364.4,500.3 L367.8,516.4 Z M396.9,438.6 L396.8,422.2 L402.7,425.0 L393.6,395.9 L385.1,425.2 L390.9,422.2 L391.1,438.7 Z M462.4,390.6 L466.2,374.5 L471.2,378.7 L469.4,348.2 L454.2,374.7 L460.5,373.2 L456.7,389.2 Z M544.9,333.1 L559.6,325.6 L559.6,332.1 L581.6,310.9 L551.6,316.5 L556.9,320.4 L542.2,327.9 Z M617.7,370.3 L627.7,383.4 L621.3,384.7 L646.1,402.5 L635.2,374.0 L632.4,379.9 L622.3,366.8 Z M668.2,436.4 L671.8,452.5 L665.4,450.9 L680.3,477.5 L682.5,447.1 L677.5,451.2 L673.9,435.1 Z M684.2,517.8 L686.7,534.1 L680.5,532.1 L693.6,559.6 L697.8,529.4 L692.5,533.2 L689.9,516.9 Z M663.4,596.9 L664.6,613.3 L658.6,610.8 L669.6,639.3 L676.1,609.5 L670.5,612.8 L669.2,596.4 Z M611.2,659.2 L613.9,675.4 L607.7,673.5 L621.2,700.9 L625.0,670.6 L619.7,674.5 L616.9,658.2 Z M538.0,692.9 L539.9,709.3 L533.8,707.1 L545.9,735.1 L551.2,705.0 L545.8,708.6 L543.8,692.2 Z M457.6,692.8 L458.5,709.2 L452.5,706.6 L463.0,735.3 L470.0,705.6 L464.4,708.9 L463.4,692.4 Z M385.9,656.2 L371.6,664.3 L371.2,657.8 L350.2,679.9 L379.9,673.0 L374.5,669.4 L388.8,661.2 Z M337.7,595.2 L329.6,580.8 L336.1,580.5 L314.1,559.4 L320.8,589.1 L324.5,583.7 L332.6,598.1 Z M317.2,516.6 L313.3,500.6 L319.7,502.1 L304.3,475.7 L302.7,506.2 L307.7,502.0 L311.5,518.0 Z M333.3,435.6 L332.5,419.2 L338.5,421.8 L328.4,393.0 L321.0,422.6 L326.7,419.4 L327.4,435.9 Z M384.3,368.8 L385.9,352.4 L391.4,355.9 L385.5,326.0 L374.0,354.2 L380.1,351.9 L378.5,368.3 Z M460.6,331.4 L465.5,315.7 L470.2,320.2 L470.5,289.7 L453.5,315.0 L459.9,313.9 L455.0,329.7 Z M546.8,273.6 L558.5,262.0 L560.5,268.2 L575.2,241.4 L548.2,255.7 L554.4,257.8 L542.6,269.4 Z M625.5,305.3 L640.5,312.1 L635.4,316.2 L665.7,320.3 L642.6,300.2 L642.9,306.8 L627.9,300.0 Z M689.0,361.3 L695.5,376.5 L689.0,376.1 L708.6,399.5 L705.1,369.1 L700.9,374.1 L694.4,359.0 Z M729.0,436.6 L733.2,452.5 L726.8,451.2 L742.8,477.2 L743.8,446.7 L738.9,451.0 L734.7,435.1 Z M740.1,519.8 L742.0,536.1 L735.9,533.9 L748.0,561.9 L753.3,531.9 L747.9,535.5 L746.0,519.1 Z M722.3,600.9 L723.8,617.3 L717.7,614.9 L729.0,643.3 L735.2,613.4 L729.6,616.8 L728.1,600.4 Z M678.7,670.7 L681.2,687.0 L674.9,685.0 L688.1,712.5 L692.3,682.3 L687.0,686.1 L684.4,669.8 Z M614.9,721.4 L618.0,737.6 L611.7,735.8 L626.0,762.9 L628.9,732.5 L623.8,736.5 L620.6,720.3 Z M538.3,748.0 L541.6,764.2 L535.3,762.5 L549.9,789.4 L552.5,758.9 L547.4,763.0 L544.0,746.9 Z M457.4,747.9 L460.1,764.2 L453.8,762.3 L467.3,789.7 L471.1,759.4 L465.9,763.2 L463.1,747.0 Z M380.9,721.6 L385.3,737.5 L378.9,736.3 L395.3,762.0 L395.8,731.5 L391.0,735.9 L386.5,720.1 Z M321.7,667.9 L308.8,657.7 L314.7,654.9 L286.3,643.7 L303.8,668.7 L305.1,662.3 L318.0,672.5 Z M278.8,599.3 L271.5,584.6 L278.0,584.6 L257.2,562.3 L262.3,592.4 L266.2,587.2 L273.6,601.9 Z M261.2,518.6 L256.6,502.8 L263.0,504.0 L246.5,478.3 L246.2,508.8 L251.0,504.4 L255.5,520.2 Z M272.5,435.4 L270.1,419.1 L276.3,421.2 L263.5,393.5 L258.9,423.7 L264.3,419.9 L266.7,436.2 Z M312.6,360.1 L312.3,343.7 L318.2,346.5 L309.0,317.4 L300.7,346.8 L306.5,343.7 L306.8,360.2 Z M377.6,303.1 L380.3,286.8 L385.6,290.7 L381.7,260.4 L368.3,287.8 L374.5,285.9 L371.8,302.1 Z M459.5,272.2 L463.5,256.2 L468.5,260.4 L467.0,229.9 L451.4,256.2 L457.8,254.8 L453.9,270.8 Z M548.2,213.6 L555.9,199.0 L559.7,204.3 L565.6,174.4 L544.2,196.1 L550.7,196.3 L543.0,210.8 Z M631.3,241.6 L647.7,240.6 L645.2,246.6 L673.8,235.9 L644.0,229.1 L647.3,234.7 L630.9,235.8 Z M702.1,290.6 L712.6,303.3 L706.2,304.8 L731.6,321.7 L719.7,293.6 L717.1,299.6 L706.6,286.9 Z M756.3,358.2 L761.8,373.7 L755.3,372.9 L773.2,397.6 L771.8,367.1 L767.3,371.8 L761.8,356.3 Z M788.3,437.9 L791.4,454.1 L785.1,452.4 L799.3,479.4 L802.3,449.0 L797.2,453.0 L794.0,436.8 Z M796.0,522.4 L798.2,538.8 L792.0,536.6 L804.5,564.5 L809.4,534.4 L804.0,538.0 L801.8,521.7 Z M779.8,604.5 L781.1,620.9 L775.0,618.5 L786.0,647.0 L792.5,617.1 L786.9,620.5 L785.7,604.1 Z M742.0,678.3 L744.4,694.6 L738.2,692.6 L751.2,720.2 L755.5,690.0 L750.2,693.7 L747.8,677.4 Z M686.0,738.1 L688.6,754.4 L682.4,752.4 L695.7,779.9 L699.7,749.6 L694.4,753.4 L691.7,737.2 Z M616.3,780.3 L619.9,796.4 L613.5,794.8 L628.3,821.5 L630.7,791.1 L625.6,795.2 L622.1,779.1 Z M538.4,802.3 L543.2,818.0 L536.7,816.9 L553.7,842.3 L553.5,811.8 L548.8,816.3 L543.9,800.6 Z M457.4,802.2 L461.9,818.1 L455.4,816.8 L471.7,842.6 L472.3,812.1 L467.5,816.5 L463.1,800.6 Z M379.5,780.8 L385.5,796.1 L379.0,795.5 L397.8,819.6 L395.3,789.1 L390.9,794.0 L384.9,778.6 Z M310.1,739.2 L318.8,753.2 L312.3,753.8 L335.3,773.9 L327.2,744.5 L323.8,750.1 L315.0,736.1 Z M259.0,676.2 L249.8,662.5 L256.3,661.7 L232.8,642.2 L241.7,671.4 L245.0,665.8 L254.1,679.5 Z M221.3,603.0 L214.2,588.1 L220.8,588.3 L200.3,565.6 L204.9,595.8 L209.0,590.6 L216.0,605.5 Z M205.3,521.3 L200.8,505.4 L207.2,506.6 L190.7,480.9 L190.3,511.5 L195.1,507.0 L199.7,522.9 Z M213.1,436.9 L210.2,420.7 L216.5,422.5 L202.7,395.3 L199.2,425.6 L204.5,421.7 L207.4,437.9 Z M245.3,357.0 L244.1,340.6 L250.2,343.1 L239.4,314.5 L232.6,344.3 L238.3,341.0 L239.4,357.4 Z M300.0,288.8 L300.2,272.3 L306.0,275.3 L297.6,246.0 L288.5,275.1 L294.4,272.3 L294.1,288.7 Z M373.2,239.2 L376.0,223.0 L381.3,226.8 L377.6,196.5 L364.0,223.8 L370.3,222.0 L367.5,238.2 Z M458.7,212.9 L462.8,197.0 L467.7,201.3 L466.5,170.8 L450.7,196.9 L457.1,195.5 L453.0,211.5 Z" fill="#000"/>
</g>
<rect x="115.5" y="100.4" width="769.7" height="799.4" fill="none" stroke="#000" stroke-width="1.4"/>
<text x="180.2" y="924" class="tl" text-anchor="middle">132.5°E</text>
<text x="326.8" y="924" class="tl" text-anchor="middle">135°E</text>
<text x="473.4" y="924" class="tl" text-anchor="middle">137.5°E</text>
<text x="620.1" y="924" class="tl" text-anchor="middle">140°E</text>
<text x="766.7" y="924" class="tl" text-anchor="middle">142.5°E</text>
<text x="108" y="231.2" class="tl" text-anchor="end">40°N</text>
<text x="108" y="419.2" class="tl" text-anchor="end">37.5°N</text>
<text x="108" y="601.1" class="tl" text-anchor="end">35°N</text>
<text x="108" y="777.4" class="tl" text-anchor="end">32.5°N</text>
<path d="M899.6,191.2 L914.8,120.0 L930.0,191.2 Z" fill="#800000"/>
<path d="M899.6,829.5 L914.8,899.6 L930.0,829.5 Z" fill="#000080"/>
<rect x="899.6" y="758.58" width="30.4" height="71.22" fill="#0000f1"/>
<rect x="899.6" y="687.66" width="30.4" height="71.22" fill="#004cff"/>
<rect x="899.6" y="616.73" width="30.4" height="71.22" fill="#00b0ff"/>
<rect x="899.6" y="545.81" width="30.4" height="71.22" fill="#29ffce"/>
<rect x="899.6" y="474.89" width="30.4" height="71.22" fill="#7dff7a"/>
<rect x="899.6" y="403.97" width="30.4" height="71.22" fill="#ceff29"/>
<rect x="899.6" y="333.04" width="30.4" height="71.22" fill="#ffc400"/>
<rect x="899.6" y="262.12" width="30.4" height="71.22" fill="#ff6800"/>
<rect x="899.6" y="191.20" width="30.4" height="71.22" fill="#f10800"/>
<path d="M899.6,191.2 L914.8,120.0 L930.0,191.2 L930.0,829.5 L914.8,899.6 L899.6,829.5 Z" fill="none" stroke="#000" stroke-width="1.3"/>
<path d="M924.5,829.50 H930.0" stroke="#000" stroke-width="1"/>
<text x="935.7" y="834.60" class="cb">10</text>
<path d="M924.5,758.58 H930.0" stroke="#000" stroke-width="1"/>
<text x="935.7" y="763.68" class="cb">20</text>
<path d="M924.5,687.66 H930.0" stroke="#000" stroke-width="1"/>
<text x="935.7" y="692.76" class="cb">30</text>
<path d="M924.5,616.73 H930.0" stroke="#000" stroke-width="1"/>
<text x="935.7" y="621.83" class="cb">40</text>
<path d="M924.5,545.81 H930.0" stroke="#000" stroke-width="1"/>
<text x="935.7" y="550.91" class="cb">50</text>
<path d="M924.5,474.89 H930.0" stroke="#000" stroke-width="1"/>
<text x="935.7" y="479.99" class="cb">60</text>
<path d="M924.5,403.97 H930.0" stroke="#000" stroke-width="1"/>
<text x="935.7" y="409.07" class="cb">70</text>
<path d="M924.5,333.04 H930.0" stroke="#000" stroke-width="1"/>
<text x="935.7" y="338.14" class="cb">80</text>
<path d="M924.5,262.12 H930.0" stroke="#000" stroke-width="1"/>
<text x="935.7" y="267.22" class="cb">90</text>
<path d="M924.5,191.20 H930.0" stroke="#000" stroke-width="1"/>
<text x="935.7" y="196.30" class="cb">100</text>
<text transform="translate(994.5,511.5) rotate(-90)" class="cbl" text-anchor="middle">Wind Ratio[%]</text>
</svg></body></html>
